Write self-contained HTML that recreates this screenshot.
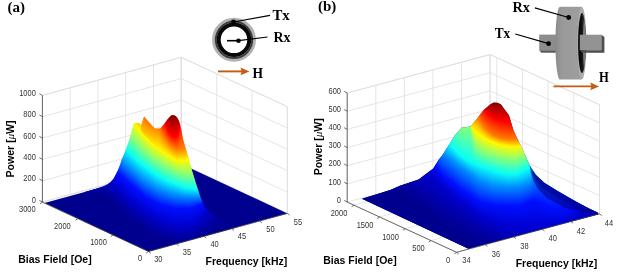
<!DOCTYPE html>
<html><head><meta charset="utf-8"><title>fig</title>
<style>html,body{margin:0;padding:0;background:#fff}body{width:617px;height:272px;overflow:hidden;font-family:"Liberation Sans",sans-serif}svg{display:block}</style></head><body>
<svg width="617" height="272" viewBox="0 0 617 272">
<defs>
<clipPath id="ca"><path d="M44.5 203.1L84 192.2L95 189.1L100 187.5L104 186L107.6 184.2L110.5 182L113.5 178.8L116 174L118 170L120 165L121.5 160L123.7 155L125.7 150L127.5 145L129.4 139.4L131 134L132.4 129.1L133.4 125L134.1 122.9L139.4 122.9L140.9 125.4L142.5 121L144.1 116.6L147 120L150 123.2L152.5 126L155.1 128.4L160.3 128.4L162.5 126L164.7 123.2L167 120L169.1 117.4L170.5 116L172 115.1L174 115.2L175.7 115.9L177.3 117.8L178.7 120.3L180 124L181.5 131L183.2 140L185 146L187 152.5L189 159L191 167L193.4 175L195.5 182L198 189.7L200 196L202.6 202.6L205 207L207.2 210L212 214L217 217.5L226 223.5L235 228L287.4 213.4L148.5 251.5L44.5 203.1z"/></clipPath>
<clipPath id="cb"><path d="M362 198.7L376 194.5L390.3 190L400 185.7L418.6 179.4L433.3 168.4L438.6 160L442.5 155L449.6 143.9L454.7 135.4L461.6 127.7L470.5 126.5L476.8 118.9L484.1 109.7L489.6 105.1L493.3 102.7L497 102.7L500.7 104.2L505.3 110.6L508.9 115.2L511.7 124.4L513.3 130L517.9 140.1L522.5 149.3L527.1 159.4L529.6 165L533 170.5L536 175L540 178.8L544.3 182.8L557.2 190.8L571.9 199.3L580 203.8L590 209L597.5 212.6L598.5 214.2L468.5 248.8z"/></clipPath>
<linearGradient id="a0" gradientUnits="userSpaceOnUse" x1="0" y1="10.6" x2="0" y2="195.9"><stop offset="0" stop-color="#800000"/><stop offset=".108" stop-color="#fd0000"/><stop offset=".205" stop-color="#ff7c00"/><stop offset=".286" stop-color="#fff900"/><stop offset=".421" stop-color="#87ff78"/><stop offset=".56" stop-color="#0afff5"/><stop offset=".641" stop-color="#008bff"/><stop offset=".722" stop-color="#000eff"/><stop offset=".915" stop-color="#00c"/><stop offset=".985" stop-color="#0000a4"/><stop offset="1" stop-color="#00008f"/></linearGradient>
<linearGradient id="a1" gradientUnits="userSpaceOnUse" x1="0" y1="11.8" x2="0" y2="195.6"><stop offset="0" stop-color="#800000"/><stop offset=".108" stop-color="#fd0000"/><stop offset=".207" stop-color="#ff7c00"/><stop offset=".288" stop-color="#fff900"/><stop offset=".423" stop-color="#87ff78"/><stop offset=".563" stop-color="#0afff5"/><stop offset=".645" stop-color="#008bff"/><stop offset=".726" stop-color="#000eff"/><stop offset=".916" stop-color="#00c"/><stop offset=".984" stop-color="#0000a4"/><stop offset="1" stop-color="#00008f"/></linearGradient>
<linearGradient id="a2" gradientUnits="userSpaceOnUse" x1="0" y1="13" x2="0" y2="195.4"><stop offset="0" stop-color="#800000"/><stop offset=".109" stop-color="#fd0000"/><stop offset=".208" stop-color="#ff7c00"/><stop offset=".291" stop-color="#fff900"/><stop offset=".426" stop-color="#87ff78"/><stop offset=".565" stop-color="#0afff5"/><stop offset=".648" stop-color="#008bff"/><stop offset=".73" stop-color="#000eff"/><stop offset=".917" stop-color="#00c"/><stop offset=".984" stop-color="#0000a4"/><stop offset="1" stop-color="#00008f"/></linearGradient>
<linearGradient id="a3" gradientUnits="userSpaceOnUse" x1="0" y1="14.1" x2="0" y2="195.1"><stop offset="0" stop-color="#800000"/><stop offset=".109" stop-color="#fd0000"/><stop offset=".21" stop-color="#ff7c00"/><stop offset=".293" stop-color="#fff900"/><stop offset=".428" stop-color="#87ff78"/><stop offset=".568" stop-color="#0afff5"/><stop offset=".651" stop-color="#008bff"/><stop offset=".734" stop-color="#000eff"/><stop offset=".918" stop-color="#00c"/><stop offset=".983" stop-color="#0000a4"/><stop offset="1" stop-color="#00008f"/></linearGradient>
<linearGradient id="a4" gradientUnits="userSpaceOnUse" x1="0" y1="15.3" x2="0" y2="194.9"><stop offset="0" stop-color="#800000"/><stop offset=".11" stop-color="#fd0000"/><stop offset=".211" stop-color="#ff7c00"/><stop offset=".296" stop-color="#fff900"/><stop offset=".431" stop-color="#87ff78"/><stop offset=".571" stop-color="#0afff5"/><stop offset=".655" stop-color="#008bff"/><stop offset=".738" stop-color="#000eff"/><stop offset=".92" stop-color="#00c"/><stop offset=".983" stop-color="#0000a4"/><stop offset="1" stop-color="#00008f"/></linearGradient>
<linearGradient id="a5" gradientUnits="userSpaceOnUse" x1="0" y1="16.5" x2="0" y2="194.6"><stop offset="0" stop-color="#800000"/><stop offset=".111" stop-color="#fd0000"/><stop offset=".213" stop-color="#ff7c00"/><stop offset=".298" stop-color="#fff900"/><stop offset=".434" stop-color="#87ff78"/><stop offset=".573" stop-color="#0afff5"/><stop offset=".658" stop-color="#008bff"/><stop offset=".742" stop-color="#000eff"/><stop offset=".921" stop-color="#00c"/><stop offset=".982" stop-color="#0000a4"/><stop offset="1" stop-color="#00008f"/></linearGradient>
<linearGradient id="a6" gradientUnits="userSpaceOnUse" x1="0" y1="17.7" x2="0" y2="194.4"><stop offset="0" stop-color="#800000"/><stop offset=".111" stop-color="#fd0000"/><stop offset=".215" stop-color="#ff7c00"/><stop offset=".301" stop-color="#fff900"/><stop offset=".437" stop-color="#87ff78"/><stop offset=".576" stop-color="#0afff5"/><stop offset=".662" stop-color="#008bff"/><stop offset=".747" stop-color="#000eff"/><stop offset=".922" stop-color="#00c"/><stop offset=".982" stop-color="#0000a4"/><stop offset="1" stop-color="#00008f"/></linearGradient>
<linearGradient id="a7" gradientUnits="userSpaceOnUse" x1="0" y1="18.9" x2="0" y2="194.1"><stop offset="0" stop-color="#800000"/><stop offset=".112" stop-color="#fd0000"/><stop offset=".217" stop-color="#ff7c00"/><stop offset=".303" stop-color="#fff900"/><stop offset=".439" stop-color="#87ff78"/><stop offset=".579" stop-color="#0afff5"/><stop offset=".665" stop-color="#008bff"/><stop offset=".751" stop-color="#000eff"/><stop offset=".923" stop-color="#00c"/><stop offset=".981" stop-color="#0000a4"/><stop offset="1" stop-color="#00008f"/></linearGradient>
<linearGradient id="a8" gradientUnits="userSpaceOnUse" x1="0" y1="20.1" x2="0" y2="193.9"><stop offset="0" stop-color="#800000"/><stop offset=".112" stop-color="#fd0000"/><stop offset=".218" stop-color="#ff7c00"/><stop offset=".306" stop-color="#fff900"/><stop offset=".442" stop-color="#87ff78"/><stop offset=".582" stop-color="#0afff5"/><stop offset=".669" stop-color="#008bff"/><stop offset=".755" stop-color="#000eff"/><stop offset=".925" stop-color="#00c"/><stop offset=".981" stop-color="#0000a4"/><stop offset="1" stop-color="#00008f"/></linearGradient>
<linearGradient id="a9" gradientUnits="userSpaceOnUse" x1="0" y1="21.2" x2="0" y2="193.6"><stop offset="0" stop-color="#800000"/><stop offset=".113" stop-color="#fd0000"/><stop offset=".22" stop-color="#ff7c00"/><stop offset=".308" stop-color="#fff900"/><stop offset=".445" stop-color="#87ff78"/><stop offset=".585" stop-color="#0afff5"/><stop offset=".672" stop-color="#008bff"/><stop offset=".76" stop-color="#000eff"/><stop offset=".926" stop-color="#00c"/><stop offset=".98" stop-color="#0000a4"/><stop offset="1" stop-color="#00008f"/></linearGradient>
<linearGradient id="a10" gradientUnits="userSpaceOnUse" x1="0" y1="22.4" x2="0" y2="193.4"><stop offset="0" stop-color="#800000"/><stop offset=".113" stop-color="#fd0000"/><stop offset=".222" stop-color="#ff7c00"/><stop offset=".311" stop-color="#fff900"/><stop offset=".448" stop-color="#87ff78"/><stop offset=".587" stop-color="#0afff5"/><stop offset=".676" stop-color="#008bff"/><stop offset=".764" stop-color="#000eff"/><stop offset=".928" stop-color="#00c"/><stop offset=".98" stop-color="#0000a4"/><stop offset="1" stop-color="#00008f"/></linearGradient>
<linearGradient id="a11" gradientUnits="userSpaceOnUse" x1="0" y1="23.6" x2="0" y2="193.1"><stop offset="0" stop-color="#800000"/><stop offset=".114" stop-color="#fd0000"/><stop offset=".224" stop-color="#ff7c00"/><stop offset=".314" stop-color="#fff900"/><stop offset=".451" stop-color="#87ff78"/><stop offset=".59" stop-color="#0afff5"/><stop offset=".68" stop-color="#008bff"/><stop offset=".769" stop-color="#000eff"/><stop offset=".929" stop-color="#00c"/><stop offset=".979" stop-color="#0000a4"/><stop offset="1" stop-color="#00008f"/></linearGradient>
<linearGradient id="a12" gradientUnits="userSpaceOnUse" x1="0" y1="24.8" x2="0" y2="192.9"><stop offset="0" stop-color="#800000"/><stop offset=".115" stop-color="#fd0000"/><stop offset=".226" stop-color="#ff7c00"/><stop offset=".317" stop-color="#fff900"/><stop offset=".454" stop-color="#87ff78"/><stop offset=".593" stop-color="#0afff5"/><stop offset=".684" stop-color="#008bff"/><stop offset=".773" stop-color="#000eff"/><stop offset=".93" stop-color="#00c"/><stop offset=".979" stop-color="#0000a4"/><stop offset="1" stop-color="#00008f"/></linearGradient>
<linearGradient id="a13" gradientUnits="userSpaceOnUse" x1="0" y1="26" x2="0" y2="192.6"><stop offset="0" stop-color="#800000"/><stop offset=".115" stop-color="#fd0000"/><stop offset=".227" stop-color="#ff7c00"/><stop offset=".319" stop-color="#fff900"/><stop offset=".457" stop-color="#87ff78"/><stop offset=".597" stop-color="#0afff5"/><stop offset=".688" stop-color="#008bff"/><stop offset=".778" stop-color="#000eff"/><stop offset=".932" stop-color="#00c"/><stop offset=".978" stop-color="#0000a4"/><stop offset="1" stop-color="#00008f"/></linearGradient>
<linearGradient id="a14" gradientUnits="userSpaceOnUse" x1="0" y1="27.2" x2="0" y2="192.4"><stop offset="0" stop-color="#800000"/><stop offset=".116" stop-color="#fd0000"/><stop offset=".229" stop-color="#ff7c00"/><stop offset=".322" stop-color="#fff900"/><stop offset=".46" stop-color="#87ff78"/><stop offset=".6" stop-color="#0afff5"/><stop offset=".692" stop-color="#008bff"/><stop offset=".783" stop-color="#000eff"/><stop offset=".933" stop-color="#00c"/><stop offset=".978" stop-color="#0000a4"/><stop offset="1" stop-color="#00008f"/></linearGradient>
<linearGradient id="a15" gradientUnits="userSpaceOnUse" x1="0" y1="28.4" x2="0" y2="192.1"><stop offset="0" stop-color="#800000"/><stop offset=".117" stop-color="#fd0000"/><stop offset=".231" stop-color="#ff7c00"/><stop offset=".325" stop-color="#fff900"/><stop offset=".464" stop-color="#87ff78"/><stop offset=".603" stop-color="#0afff5"/><stop offset=".696" stop-color="#008bff"/><stop offset=".788" stop-color="#000eff"/><stop offset=".935" stop-color="#00c"/><stop offset=".977" stop-color="#0000a4"/><stop offset="1" stop-color="#00008f"/></linearGradient>
<linearGradient id="a16" gradientUnits="userSpaceOnUse" x1="0" y1="29.5" x2="0" y2="192.3"><stop offset="0" stop-color="#800000"/><stop offset=".117" stop-color="#fd0000"/><stop offset=".233" stop-color="#ff7c00"/><stop offset=".327" stop-color="#fff900"/><stop offset=".465" stop-color="#87ff78"/><stop offset=".604" stop-color="#0afff5"/><stop offset=".698" stop-color="#008bff"/><stop offset=".791" stop-color="#000eff"/><stop offset=".934" stop-color="#00c"/><stop offset=".976" stop-color="#0000a4"/><stop offset="1" stop-color="#00008f"/></linearGradient>
<linearGradient id="a17" gradientUnits="userSpaceOnUse" x1="0" y1="30.7" x2="0" y2="193.1"><stop offset="0" stop-color="#800000"/><stop offset=".117" stop-color="#fd0000"/><stop offset=".233" stop-color="#ff7c00"/><stop offset=".328" stop-color="#fff900"/><stop offset=".466" stop-color="#87ff78"/><stop offset=".604" stop-color="#0afff5"/><stop offset=".698" stop-color="#008bff"/><stop offset=".791" stop-color="#000eff"/><stop offset=".93" stop-color="#00c"/><stop offset=".974" stop-color="#0000a4"/><stop offset="1" stop-color="#00008f"/></linearGradient>
<linearGradient id="a18" gradientUnits="userSpaceOnUse" x1="0" y1="31.9" x2="0" y2="193.8"><stop offset="0" stop-color="#800000"/><stop offset=".117" stop-color="#fd0000"/><stop offset=".234" stop-color="#ff7c00"/><stop offset=".329" stop-color="#fff900"/><stop offset=".467" stop-color="#87ff78"/><stop offset=".604" stop-color="#0afff5"/><stop offset=".698" stop-color="#008bff"/><stop offset=".791" stop-color="#000eff"/><stop offset=".926" stop-color="#00c"/><stop offset=".972" stop-color="#0000a4"/><stop offset="1" stop-color="#00008f"/></linearGradient>
<linearGradient id="a19" gradientUnits="userSpaceOnUse" x1="0" y1="33.1" x2="0" y2="194.4"><stop offset="0" stop-color="#800000"/><stop offset=".117" stop-color="#fd0000"/><stop offset=".235" stop-color="#ff7c00"/><stop offset=".33" stop-color="#fff900"/><stop offset=".467" stop-color="#87ff78"/><stop offset=".603" stop-color="#0afff5"/><stop offset=".698" stop-color="#008bff"/><stop offset=".792" stop-color="#000eff"/><stop offset=".922" stop-color="#00c"/><stop offset=".971" stop-color="#0000a4"/><stop offset="1" stop-color="#00008f"/></linearGradient>
<linearGradient id="a20" gradientUnits="userSpaceOnUse" x1="0" y1="34.3" x2="0" y2="195.2"><stop offset="0" stop-color="#800000"/><stop offset=".117" stop-color="#fd0000"/><stop offset=".235" stop-color="#ff7c00"/><stop offset=".331" stop-color="#fff900"/><stop offset=".468" stop-color="#87ff78"/><stop offset=".603" stop-color="#0afff5"/><stop offset=".698" stop-color="#008bff"/><stop offset=".792" stop-color="#000eff"/><stop offset=".918" stop-color="#00c"/><stop offset=".969" stop-color="#0000a4"/><stop offset="1" stop-color="#00008f"/></linearGradient>
<linearGradient id="a21" gradientUnits="userSpaceOnUse" x1="0" y1="35.5" x2="0" y2="195.8"><stop offset="0" stop-color="#800000"/><stop offset=".117" stop-color="#fd0000"/><stop offset=".236" stop-color="#ff7c00"/><stop offset=".333" stop-color="#fff900"/><stop offset=".468" stop-color="#87ff78"/><stop offset=".603" stop-color="#0afff5"/><stop offset=".698" stop-color="#008bff"/><stop offset=".792" stop-color="#000eff"/><stop offset=".914" stop-color="#00c"/><stop offset=".967" stop-color="#0000a4"/><stop offset="1" stop-color="#00008f"/></linearGradient>
<linearGradient id="a22" gradientUnits="userSpaceOnUse" x1="0" y1="36.6" x2="0" y2="196.6"><stop offset="0" stop-color="#800000"/><stop offset=".117" stop-color="#fd0000"/><stop offset=".237" stop-color="#ff7c00"/><stop offset=".334" stop-color="#fff900"/><stop offset=".469" stop-color="#87ff78"/><stop offset=".602" stop-color="#0afff5"/><stop offset=".698" stop-color="#008bff"/><stop offset=".793" stop-color="#000eff"/><stop offset=".91" stop-color="#00c"/><stop offset=".965" stop-color="#0000a4"/><stop offset="1" stop-color="#00008f"/></linearGradient>
<linearGradient id="a23" gradientUnits="userSpaceOnUse" x1="0" y1="37.8" x2="0" y2="197.2"><stop offset="0" stop-color="#800000"/><stop offset=".117" stop-color="#fd0000"/><stop offset=".237" stop-color="#ff7c00"/><stop offset=".335" stop-color="#fff900"/><stop offset=".469" stop-color="#87ff78"/><stop offset=".602" stop-color="#0afff5"/><stop offset=".699" stop-color="#008bff"/><stop offset=".793" stop-color="#000eff"/><stop offset=".906" stop-color="#00c"/><stop offset=".963" stop-color="#0000a4"/><stop offset="1" stop-color="#00008f"/></linearGradient>
<linearGradient id="a24" gradientUnits="userSpaceOnUse" x1="0" y1="39" x2="0" y2="197.9"><stop offset="0" stop-color="#800000"/><stop offset=".117" stop-color="#fd0000"/><stop offset=".238" stop-color="#ff7c00"/><stop offset=".336" stop-color="#fff900"/><stop offset=".47" stop-color="#87ff78"/><stop offset=".602" stop-color="#0afff5"/><stop offset=".699" stop-color="#008bff"/><stop offset=".794" stop-color="#000eff"/><stop offset=".902" stop-color="#00c"/><stop offset=".962" stop-color="#0000a4"/><stop offset="1" stop-color="#00008f"/></linearGradient>
<linearGradient id="a25" gradientUnits="userSpaceOnUse" x1="0" y1="40.2" x2="0" y2="198.7"><stop offset="0" stop-color="#800000"/><stop offset=".117" stop-color="#fd0000"/><stop offset=".239" stop-color="#ff7c00"/><stop offset=".337" stop-color="#fff900"/><stop offset=".471" stop-color="#87ff78"/><stop offset=".602" stop-color="#0afff5"/><stop offset=".699" stop-color="#008bff"/><stop offset=".794" stop-color="#000eff"/><stop offset=".897" stop-color="#00c"/><stop offset=".96" stop-color="#0000a4"/><stop offset="1" stop-color="#00008f"/></linearGradient>
<linearGradient id="a26" gradientUnits="userSpaceOnUse" x1="0" y1="41.4" x2="0" y2="199.5"><stop offset="0" stop-color="#800000"/><stop offset=".117" stop-color="#fd0000"/><stop offset=".239" stop-color="#ff7c00"/><stop offset=".338" stop-color="#fff900"/><stop offset=".471" stop-color="#87ff78"/><stop offset=".601" stop-color="#0afff5"/><stop offset=".698" stop-color="#008bff"/><stop offset=".794" stop-color="#000eff"/><stop offset=".892" stop-color="#00c"/><stop offset=".959" stop-color="#0000a4"/><stop offset="1" stop-color="#00008f"/></linearGradient>
<linearGradient id="a27" gradientUnits="userSpaceOnUse" x1="0" y1="42.6" x2="0" y2="200.5"><stop offset="0" stop-color="#800000"/><stop offset=".117" stop-color="#fd0000"/><stop offset=".239" stop-color="#ff7c00"/><stop offset=".338" stop-color="#fff900"/><stop offset=".471" stop-color="#87ff78"/><stop offset=".599" stop-color="#0afff5"/><stop offset=".697" stop-color="#008bff"/><stop offset=".792" stop-color="#000eff"/><stop offset=".891" stop-color="#00c"/><stop offset=".958" stop-color="#0000a4"/><stop offset="1" stop-color="#00008f"/></linearGradient>
<linearGradient id="a28" gradientUnits="userSpaceOnUse" x1="0" y1="43.8" x2="0" y2="201.5"><stop offset="0" stop-color="#800000"/><stop offset=".116" stop-color="#fd0000"/><stop offset=".239" stop-color="#ff7c00"/><stop offset=".339" stop-color="#fff900"/><stop offset=".47" stop-color="#87ff78"/><stop offset=".598" stop-color="#0afff5"/><stop offset=".696" stop-color="#008bff"/><stop offset=".791" stop-color="#000eff"/><stop offset=".89" stop-color="#00c"/><stop offset=".957" stop-color="#0000a4"/><stop offset="1" stop-color="#00008f"/></linearGradient>
<linearGradient id="a29" gradientUnits="userSpaceOnUse" x1="0" y1="44.9" x2="0" y2="202.5"><stop offset="0" stop-color="#800000"/><stop offset=".116" stop-color="#fd0000"/><stop offset=".24" stop-color="#ff7c00"/><stop offset=".339" stop-color="#fff900"/><stop offset=".47" stop-color="#87ff78"/><stop offset=".596" stop-color="#0afff5"/><stop offset=".694" stop-color="#008bff"/><stop offset=".79" stop-color="#000eff"/><stop offset=".888" stop-color="#00c"/><stop offset=".957" stop-color="#0000a4"/><stop offset="1" stop-color="#00008f"/></linearGradient>
<linearGradient id="a30" gradientUnits="userSpaceOnUse" x1="0" y1="46.1" x2="0" y2="203.5"><stop offset="0" stop-color="#800000"/><stop offset=".116" stop-color="#fd0000"/><stop offset=".24" stop-color="#ff7c00"/><stop offset=".34" stop-color="#fff900"/><stop offset=".47" stop-color="#87ff78"/><stop offset=".595" stop-color="#0afff5"/><stop offset=".693" stop-color="#008bff"/><stop offset=".789" stop-color="#000eff"/><stop offset=".887" stop-color="#00c"/><stop offset=".956" stop-color="#0000a4"/><stop offset="1" stop-color="#00008f"/></linearGradient>
<linearGradient id="a31" gradientUnits="userSpaceOnUse" x1="0" y1="47.3" x2="0" y2="204.5"><stop offset="0" stop-color="#800000"/><stop offset=".116" stop-color="#fd0000"/><stop offset=".24" stop-color="#ff7c00"/><stop offset=".34" stop-color="#fff900"/><stop offset=".469" stop-color="#87ff78"/><stop offset=".593" stop-color="#0afff5"/><stop offset=".692" stop-color="#008bff"/><stop offset=".788" stop-color="#000eff"/><stop offset=".885" stop-color="#00c"/><stop offset=".955" stop-color="#0000a4"/><stop offset="1" stop-color="#00008f"/></linearGradient>
<linearGradient id="a32" gradientUnits="userSpaceOnUse" x1="0" y1="48.5" x2="0" y2="205.5"><stop offset="0" stop-color="#800000"/><stop offset=".115" stop-color="#fd0000"/><stop offset=".24" stop-color="#ff7c00"/><stop offset=".341" stop-color="#fff900"/><stop offset=".469" stop-color="#87ff78"/><stop offset=".592" stop-color="#0afff5"/><stop offset=".691" stop-color="#008bff"/><stop offset=".787" stop-color="#000eff"/><stop offset=".884" stop-color="#00c"/><stop offset=".954" stop-color="#0000a4"/><stop offset="1" stop-color="#00008f"/></linearGradient>
<linearGradient id="a33" gradientUnits="userSpaceOnUse" x1="0" y1="49.7" x2="0" y2="206.5"><stop offset="0" stop-color="#800000"/><stop offset=".115" stop-color="#fd0000"/><stop offset=".241" stop-color="#ff7c00"/><stop offset=".341" stop-color="#fff900"/><stop offset=".469" stop-color="#87ff78"/><stop offset=".59" stop-color="#0afff5"/><stop offset=".689" stop-color="#008bff"/><stop offset=".785" stop-color="#000eff"/><stop offset=".882" stop-color="#00c"/><stop offset=".954" stop-color="#0000a4"/><stop offset="1" stop-color="#00008f"/></linearGradient>
<linearGradient id="a34" gradientUnits="userSpaceOnUse" x1="0" y1="50.9" x2="0" y2="207.5"><stop offset="0" stop-color="#800000"/><stop offset=".115" stop-color="#fd0000"/><stop offset=".241" stop-color="#ff7c00"/><stop offset=".342" stop-color="#fff900"/><stop offset=".468" stop-color="#87ff78"/><stop offset=".589" stop-color="#0afff5"/><stop offset=".688" stop-color="#008bff"/><stop offset=".784" stop-color="#000eff"/><stop offset=".881" stop-color="#00c"/><stop offset=".953" stop-color="#0000a4"/><stop offset="1" stop-color="#00008f"/></linearGradient>
<linearGradient id="a35" gradientUnits="userSpaceOnUse" x1="0" y1="52" x2="0" y2="208.5"><stop offset="0" stop-color="#800000"/><stop offset=".115" stop-color="#fd0000"/><stop offset=".241" stop-color="#ff7c00"/><stop offset=".342" stop-color="#fff900"/><stop offset=".468" stop-color="#87ff78"/><stop offset=".588" stop-color="#0afff5"/><stop offset=".687" stop-color="#008bff"/><stop offset=".783" stop-color="#000eff"/><stop offset=".879" stop-color="#00c"/><stop offset=".952" stop-color="#0000a4"/><stop offset="1" stop-color="#00008f"/></linearGradient>
<linearGradient id="a36" gradientUnits="userSpaceOnUse" x1="0" y1="53.2" x2="0" y2="209.6"><stop offset="0" stop-color="#800000"/><stop offset=".115" stop-color="#fd0000"/><stop offset=".241" stop-color="#ff7c00"/><stop offset=".343" stop-color="#fff900"/><stop offset=".468" stop-color="#87ff78"/><stop offset=".586" stop-color="#0afff5"/><stop offset=".685" stop-color="#008bff"/><stop offset=".782" stop-color="#000eff"/><stop offset=".878" stop-color="#00c"/><stop offset=".952" stop-color="#0000a4"/><stop offset="1" stop-color="#00008f"/></linearGradient>
<linearGradient id="a37" gradientUnits="userSpaceOnUse" x1="0" y1="54.4" x2="0" y2="210.7"><stop offset="0" stop-color="#800000"/><stop offset=".114" stop-color="#fd0000"/><stop offset=".241" stop-color="#ff7c00"/><stop offset=".343" stop-color="#fff900"/><stop offset=".467" stop-color="#87ff78"/><stop offset=".584" stop-color="#0afff5"/><stop offset=".683" stop-color="#008bff"/><stop offset=".781" stop-color="#000eff"/><stop offset=".877" stop-color="#00c"/><stop offset=".951" stop-color="#0000a4"/><stop offset="1" stop-color="#00008f"/></linearGradient>
<linearGradient id="a38" gradientUnits="userSpaceOnUse" x1="0" y1="55.6" x2="0" y2="211.8"><stop offset="0" stop-color="#800000"/><stop offset=".114" stop-color="#fd0000"/><stop offset=".241" stop-color="#ff7c00"/><stop offset=".343" stop-color="#fff900"/><stop offset=".466" stop-color="#87ff78"/><stop offset=".582" stop-color="#0afff5"/><stop offset=".681" stop-color="#008bff"/><stop offset=".779" stop-color="#000eff"/><stop offset=".877" stop-color="#00c"/><stop offset=".951" stop-color="#0000a4"/><stop offset="1" stop-color="#00008f"/></linearGradient>
<linearGradient id="a39" gradientUnits="userSpaceOnUse" x1="0" y1="56.8" x2="0" y2="212.9"><stop offset="0" stop-color="#800000"/><stop offset=".114" stop-color="#fd0000"/><stop offset=".241" stop-color="#ff7c00"/><stop offset=".343" stop-color="#fff900"/><stop offset=".466" stop-color="#87ff78"/><stop offset=".58" stop-color="#0afff5"/><stop offset=".68" stop-color="#008bff"/><stop offset=".778" stop-color="#000eff"/><stop offset=".876" stop-color="#00c"/><stop offset=".951" stop-color="#0000a4"/><stop offset="1" stop-color="#00008f"/></linearGradient>
<linearGradient id="a40" gradientUnits="userSpaceOnUse" x1="0" y1="58" x2="0" y2="214"><stop offset="0" stop-color="#800000"/><stop offset=".113" stop-color="#fd0000"/><stop offset=".242" stop-color="#ff7c00"/><stop offset=".344" stop-color="#fff900"/><stop offset=".465" stop-color="#87ff78"/><stop offset=".578" stop-color="#0afff5"/><stop offset=".678" stop-color="#008bff"/><stop offset=".776" stop-color="#000eff"/><stop offset=".875" stop-color="#00c"/><stop offset=".95" stop-color="#0000a4"/><stop offset="1" stop-color="#00008f"/></linearGradient>
<linearGradient id="a41" gradientUnits="userSpaceOnUse" x1="0" y1="59.1" x2="0" y2="215.1"><stop offset="0" stop-color="#800000"/><stop offset=".113" stop-color="#fd0000"/><stop offset=".242" stop-color="#ff7c00"/><stop offset=".344" stop-color="#fff900"/><stop offset=".464" stop-color="#87ff78"/><stop offset=".577" stop-color="#0afff5"/><stop offset=".676" stop-color="#008bff"/><stop offset=".775" stop-color="#000eff"/><stop offset=".874" stop-color="#00c"/><stop offset=".95" stop-color="#0000a4"/><stop offset="1" stop-color="#00008f"/></linearGradient>
<linearGradient id="a42" gradientUnits="userSpaceOnUse" x1="0" y1="60.3" x2="0" y2="216.2"><stop offset="0" stop-color="#800000"/><stop offset=".113" stop-color="#fd0000"/><stop offset=".242" stop-color="#ff7c00"/><stop offset=".344" stop-color="#fff900"/><stop offset=".463" stop-color="#87ff78"/><stop offset=".575" stop-color="#0afff5"/><stop offset=".674" stop-color="#008bff"/><stop offset=".773" stop-color="#000eff"/><stop offset=".873" stop-color="#00c"/><stop offset=".95" stop-color="#0000a4"/><stop offset="1" stop-color="#00008f"/></linearGradient>
<linearGradient id="a43" gradientUnits="userSpaceOnUse" x1="0" y1="61.5" x2="0" y2="217.3"><stop offset="0" stop-color="#800000"/><stop offset=".112" stop-color="#fd0000"/><stop offset=".242" stop-color="#ff7c00"/><stop offset=".345" stop-color="#fff900"/><stop offset=".462" stop-color="#87ff78"/><stop offset=".574" stop-color="#0afff5"/><stop offset=".673" stop-color="#008bff"/><stop offset=".772" stop-color="#000eff"/><stop offset=".873" stop-color="#00c"/><stop offset=".949" stop-color="#0000a4"/><stop offset="1" stop-color="#00008f"/></linearGradient>
<linearGradient id="a44" gradientUnits="userSpaceOnUse" x1="0" y1="62.7" x2="0" y2="218.4"><stop offset="0" stop-color="#800000"/><stop offset=".112" stop-color="#fd0000"/><stop offset=".242" stop-color="#ff7c00"/><stop offset=".345" stop-color="#fff900"/><stop offset=".461" stop-color="#87ff78"/><stop offset=".573" stop-color="#0afff5"/><stop offset=".671" stop-color="#008bff"/><stop offset=".77" stop-color="#000eff"/><stop offset=".872" stop-color="#00c"/><stop offset=".949" stop-color="#0000a4"/><stop offset="1" stop-color="#00008f"/></linearGradient>
<linearGradient id="a45" gradientUnits="userSpaceOnUse" x1="0" y1="63.9" x2="0" y2="219.4"><stop offset="0" stop-color="#800000"/><stop offset=".112" stop-color="#fd0000"/><stop offset=".242" stop-color="#ff7c00"/><stop offset=".346" stop-color="#fff900"/><stop offset=".461" stop-color="#87ff78"/><stop offset=".573" stop-color="#0afff5"/><stop offset=".67" stop-color="#008bff"/><stop offset=".769" stop-color="#000eff"/><stop offset=".872" stop-color="#00c"/><stop offset=".949" stop-color="#0000a4"/><stop offset="1" stop-color="#00008f"/></linearGradient>
<linearGradient id="a46" gradientUnits="userSpaceOnUse" x1="0" y1="65.1" x2="0" y2="220.1"><stop offset="0" stop-color="#800000"/><stop offset=".112" stop-color="#fd0000"/><stop offset=".243" stop-color="#ff7c00"/><stop offset=".347" stop-color="#fff900"/><stop offset=".461" stop-color="#87ff78"/><stop offset=".574" stop-color="#0afff5"/><stop offset=".67" stop-color="#008bff"/><stop offset=".768" stop-color="#000eff"/><stop offset=".871" stop-color="#00c"/><stop offset=".948" stop-color="#0000a4"/><stop offset="1" stop-color="#00008f"/></linearGradient>
<linearGradient id="a47" gradientUnits="userSpaceOnUse" x1="0" y1="66.2" x2="0" y2="220.8"><stop offset="0" stop-color="#800000"/><stop offset=".112" stop-color="#fd0000"/><stop offset=".244" stop-color="#ff7c00"/><stop offset=".348" stop-color="#fff900"/><stop offset=".461" stop-color="#87ff78"/><stop offset=".574" stop-color="#0afff5"/><stop offset=".67" stop-color="#008bff"/><stop offset=".768" stop-color="#000eff"/><stop offset=".871" stop-color="#00c"/><stop offset=".948" stop-color="#0000a4"/><stop offset="1" stop-color="#00008f"/></linearGradient>
<linearGradient id="a48" gradientUnits="userSpaceOnUse" x1="0" y1="67.4" x2="0" y2="221.5"><stop offset="0" stop-color="#800000"/><stop offset=".112" stop-color="#fd0000"/><stop offset=".244" stop-color="#ff7c00"/><stop offset=".349" stop-color="#fff900"/><stop offset=".461" stop-color="#87ff78"/><stop offset=".575" stop-color="#0afff5"/><stop offset=".67" stop-color="#008bff"/><stop offset=".768" stop-color="#000eff"/><stop offset=".871" stop-color="#00c"/><stop offset=".948" stop-color="#0000a4"/><stop offset="1" stop-color="#00008f"/></linearGradient>
<linearGradient id="a49" gradientUnits="userSpaceOnUse" x1="0" y1="68.6" x2="0" y2="222.2"><stop offset="0" stop-color="#800000"/><stop offset=".112" stop-color="#fd0000"/><stop offset=".245" stop-color="#ff7c00"/><stop offset=".35" stop-color="#fff900"/><stop offset=".461" stop-color="#87ff78"/><stop offset=".575" stop-color="#0afff5"/><stop offset=".67" stop-color="#008bff"/><stop offset=".768" stop-color="#000eff"/><stop offset=".871" stop-color="#00c"/><stop offset=".948" stop-color="#0000a4"/><stop offset="1" stop-color="#00008f"/></linearGradient>
<linearGradient id="a50" gradientUnits="userSpaceOnUse" x1="0" y1="69.8" x2="0" y2="222.9"><stop offset="0" stop-color="#800000"/><stop offset=".112" stop-color="#fd0000"/><stop offset=".246" stop-color="#ff7c00"/><stop offset=".351" stop-color="#fff900"/><stop offset=".462" stop-color="#87ff78"/><stop offset=".575" stop-color="#0afff5"/><stop offset=".67" stop-color="#008bff"/><stop offset=".769" stop-color="#000eff"/><stop offset=".871" stop-color="#00c"/><stop offset=".948" stop-color="#0000a4"/><stop offset="1" stop-color="#00008f"/></linearGradient>
<linearGradient id="a51" gradientUnits="userSpaceOnUse" x1="0" y1="71" x2="0" y2="223.6"><stop offset="0" stop-color="#800000"/><stop offset=".112" stop-color="#fd0000"/><stop offset=".246" stop-color="#ff7c00"/><stop offset=".353" stop-color="#fff900"/><stop offset=".463" stop-color="#87ff78"/><stop offset=".575" stop-color="#0afff5"/><stop offset=".67" stop-color="#008bff"/><stop offset=".769" stop-color="#000eff"/><stop offset=".871" stop-color="#00c"/><stop offset=".948" stop-color="#0000a4"/><stop offset="1" stop-color="#00008f"/></linearGradient>
<linearGradient id="a52" gradientUnits="userSpaceOnUse" x1="0" y1="72.2" x2="0" y2="224.4"><stop offset="0" stop-color="#800000"/><stop offset=".112" stop-color="#fd0000"/><stop offset=".247" stop-color="#ff7c00"/><stop offset=".354" stop-color="#fff900"/><stop offset=".463" stop-color="#87ff78"/><stop offset=".575" stop-color="#0afff5"/><stop offset=".67" stop-color="#008bff"/><stop offset=".769" stop-color="#000eff"/><stop offset=".871" stop-color="#00c"/><stop offset=".947" stop-color="#0000a4"/><stop offset="1" stop-color="#00008f"/></linearGradient>
<linearGradient id="a53" gradientUnits="userSpaceOnUse" x1="0" y1="73.4" x2="0" y2="225.1"><stop offset="0" stop-color="#800000"/><stop offset=".112" stop-color="#fd0000"/><stop offset=".248" stop-color="#ff7c00"/><stop offset=".355" stop-color="#fff900"/><stop offset=".464" stop-color="#87ff78"/><stop offset=".574" stop-color="#0afff5"/><stop offset=".67" stop-color="#008bff"/><stop offset=".769" stop-color="#000eff"/><stop offset=".871" stop-color="#00c"/><stop offset=".947" stop-color="#0000a4"/><stop offset="1" stop-color="#00008f"/></linearGradient>
<linearGradient id="a54" gradientUnits="userSpaceOnUse" x1="0" y1="74.5" x2="0" y2="225.8"><stop offset="0" stop-color="#800000"/><stop offset=".112" stop-color="#fd0000"/><stop offset=".248" stop-color="#ff7c00"/><stop offset=".356" stop-color="#fff900"/><stop offset=".465" stop-color="#87ff78"/><stop offset=".574" stop-color="#0afff5"/><stop offset=".67" stop-color="#008bff"/><stop offset=".769" stop-color="#000eff"/><stop offset=".871" stop-color="#00c"/><stop offset=".947" stop-color="#0000a4"/><stop offset="1" stop-color="#00008f"/></linearGradient>
<linearGradient id="a55" gradientUnits="userSpaceOnUse" x1="0" y1="75.7" x2="0" y2="226.5"><stop offset="0" stop-color="#800000"/><stop offset=".111" stop-color="#fd0000"/><stop offset=".249" stop-color="#ff7c00"/><stop offset=".358" stop-color="#fff900"/><stop offset=".466" stop-color="#87ff78"/><stop offset=".573" stop-color="#0afff5"/><stop offset=".67" stop-color="#008bff"/><stop offset=".769" stop-color="#000eff"/><stop offset=".871" stop-color="#00c"/><stop offset=".947" stop-color="#0000a4"/><stop offset="1" stop-color="#00008f"/></linearGradient>
<linearGradient id="a56" gradientUnits="userSpaceOnUse" x1="0" y1="76.9" x2="0" y2="227.2"><stop offset="0" stop-color="#800000"/><stop offset=".111" stop-color="#fd0000"/><stop offset=".25" stop-color="#ff7c00"/><stop offset=".36" stop-color="#fff900"/><stop offset=".466" stop-color="#87ff78"/><stop offset=".573" stop-color="#0afff5"/><stop offset=".67" stop-color="#008bff"/><stop offset=".769" stop-color="#000eff"/><stop offset=".871" stop-color="#00c"/><stop offset=".947" stop-color="#0000a4"/><stop offset="1" stop-color="#00008f"/></linearGradient>
<linearGradient id="a57" gradientUnits="userSpaceOnUse" x1="0" y1="78.1" x2="0" y2="227.9"><stop offset="0" stop-color="#800000"/><stop offset=".111" stop-color="#fd0000"/><stop offset=".251" stop-color="#ff7c00"/><stop offset=".362" stop-color="#fff900"/><stop offset=".467" stop-color="#87ff78"/><stop offset=".573" stop-color="#0afff5"/><stop offset=".671" stop-color="#008bff"/><stop offset=".769" stop-color="#000eff"/><stop offset=".871" stop-color="#00c"/><stop offset=".947" stop-color="#0000a4"/><stop offset="1" stop-color="#00008f"/></linearGradient>
<linearGradient id="a58" gradientUnits="userSpaceOnUse" x1="0" y1="79.3" x2="0" y2="228.6"><stop offset="0" stop-color="#800000"/><stop offset=".111" stop-color="#fd0000"/><stop offset=".251" stop-color="#ff7c00"/><stop offset=".364" stop-color="#fff900"/><stop offset=".467" stop-color="#87ff78"/><stop offset=".572" stop-color="#0afff5"/><stop offset=".67" stop-color="#008bff"/><stop offset=".77" stop-color="#000eff"/><stop offset=".871" stop-color="#00c"/><stop offset=".946" stop-color="#0000a4"/><stop offset="1" stop-color="#00008f"/></linearGradient>
<linearGradient id="a59" gradientUnits="userSpaceOnUse" x1="0" y1="80.5" x2="0" y2="229.4"><stop offset="0" stop-color="#800000"/><stop offset=".111" stop-color="#fd0000"/><stop offset=".252" stop-color="#ff7c00"/><stop offset=".366" stop-color="#fff900"/><stop offset=".467" stop-color="#87ff78"/><stop offset=".57" stop-color="#0afff5"/><stop offset=".668" stop-color="#008bff"/><stop offset=".77" stop-color="#000eff"/><stop offset=".871" stop-color="#00c"/><stop offset=".946" stop-color="#0000a4"/><stop offset="1" stop-color="#00008f"/></linearGradient>
<linearGradient id="a60" gradientUnits="userSpaceOnUse" x1="0" y1="81.6" x2="0" y2="230.1"><stop offset="0" stop-color="#800000"/><stop offset=".111" stop-color="#fd0000"/><stop offset=".254" stop-color="#ff7c00"/><stop offset=".367" stop-color="#fff900"/><stop offset=".466" stop-color="#87ff78"/><stop offset=".569" stop-color="#0afff5"/><stop offset=".667" stop-color="#008bff"/><stop offset=".77" stop-color="#000eff"/><stop offset=".871" stop-color="#00c"/><stop offset=".946" stop-color="#0000a4"/><stop offset="1" stop-color="#00008f"/></linearGradient>
<linearGradient id="a61" gradientUnits="userSpaceOnUse" x1="0" y1="82.8" x2="0" y2="230.8"><stop offset="0" stop-color="#800000"/><stop offset=".111" stop-color="#fd0000"/><stop offset=".255" stop-color="#ff7c00"/><stop offset=".367" stop-color="#fff900"/><stop offset=".465" stop-color="#87ff78"/><stop offset=".567" stop-color="#0afff5"/><stop offset=".665" stop-color="#008bff"/><stop offset=".77" stop-color="#000eff"/><stop offset=".87" stop-color="#00c"/><stop offset=".946" stop-color="#0000a4"/><stop offset="1" stop-color="#00008f"/></linearGradient>
<linearGradient id="a62" gradientUnits="userSpaceOnUse" x1="0" y1="84" x2="0" y2="231.5"><stop offset="0" stop-color="#800000"/><stop offset=".111" stop-color="#fd0000"/><stop offset=".257" stop-color="#ff7c00"/><stop offset=".366" stop-color="#fff900"/><stop offset=".465" stop-color="#87ff78"/><stop offset=".566" stop-color="#0afff5"/><stop offset=".663" stop-color="#008bff"/><stop offset=".77" stop-color="#000eff"/><stop offset=".87" stop-color="#00c"/><stop offset=".946" stop-color="#0000a4"/><stop offset="1" stop-color="#00008f"/></linearGradient>
<linearGradient id="a63" gradientUnits="userSpaceOnUse" x1="0" y1="85.2" x2="0" y2="232.2"><stop offset="0" stop-color="#800000"/><stop offset=".111" stop-color="#fd0000"/><stop offset=".255" stop-color="#ff7c00"/><stop offset=".365" stop-color="#fff900"/><stop offset=".464" stop-color="#87ff78"/><stop offset=".565" stop-color="#0afff5"/><stop offset=".662" stop-color="#008bff"/><stop offset=".768" stop-color="#000eff"/><stop offset=".869" stop-color="#00c"/><stop offset=".946" stop-color="#0000a4"/><stop offset="1" stop-color="#00008f"/></linearGradient>
<linearGradient id="a64" gradientUnits="userSpaceOnUse" x1="0" y1="86.4" x2="0" y2="232.9"><stop offset="0" stop-color="#800000"/><stop offset=".111" stop-color="#fd0000"/><stop offset=".251" stop-color="#ff7c00"/><stop offset=".365" stop-color="#fff900"/><stop offset=".464" stop-color="#87ff78"/><stop offset=".563" stop-color="#0afff5"/><stop offset=".66" stop-color="#008bff"/><stop offset=".766" stop-color="#000eff"/><stop offset=".868" stop-color="#00c"/><stop offset=".945" stop-color="#0000a4"/><stop offset="1" stop-color="#00008f"/></linearGradient>
<linearGradient id="a65" gradientUnits="userSpaceOnUse" x1="0" y1="87.6" x2="0" y2="233.6"><stop offset="0" stop-color="#800000"/><stop offset=".111" stop-color="#fd0000"/><stop offset=".247" stop-color="#ff7c00"/><stop offset=".365" stop-color="#fff900"/><stop offset=".463" stop-color="#87ff78"/><stop offset=".562" stop-color="#0afff5"/><stop offset=".658" stop-color="#008bff"/><stop offset=".764" stop-color="#000eff"/><stop offset=".866" stop-color="#00c"/><stop offset=".945" stop-color="#0000a4"/><stop offset="1" stop-color="#00008f"/></linearGradient>
<linearGradient id="a66" gradientUnits="userSpaceOnUse" x1="0" y1="88.8" x2="0" y2="234.2"><stop offset="0" stop-color="#800000"/><stop offset=".111" stop-color="#fd0000"/><stop offset=".243" stop-color="#ff7c00"/><stop offset=".366" stop-color="#fff900"/><stop offset=".463" stop-color="#87ff78"/><stop offset=".561" stop-color="#0afff5"/><stop offset=".657" stop-color="#008bff"/><stop offset=".762" stop-color="#000eff"/><stop offset=".866" stop-color="#00c"/><stop offset=".945" stop-color="#0000a4"/><stop offset="1" stop-color="#00008f"/></linearGradient>
<linearGradient id="a67" gradientUnits="userSpaceOnUse" x1="0" y1="89.9" x2="0" y2="234.7"><stop offset="0" stop-color="#800000"/><stop offset=".111" stop-color="#fd0000"/><stop offset=".239" stop-color="#ff7c00"/><stop offset=".367" stop-color="#fff900"/><stop offset=".463" stop-color="#87ff78"/><stop offset=".56" stop-color="#0afff5"/><stop offset=".657" stop-color="#008bff"/><stop offset=".761" stop-color="#000eff"/><stop offset=".866" stop-color="#00c"/><stop offset=".945" stop-color="#0000a4"/><stop offset="1" stop-color="#00008f"/></linearGradient>
<linearGradient id="a68" gradientUnits="userSpaceOnUse" x1="0" y1="91.1" x2="0" y2="235.2"><stop offset="0" stop-color="#800000"/><stop offset=".112" stop-color="#fd0000"/><stop offset=".235" stop-color="#ff7c00"/><stop offset=".368" stop-color="#fff900"/><stop offset=".463" stop-color="#87ff78"/><stop offset=".56" stop-color="#0afff5"/><stop offset=".656" stop-color="#008bff"/><stop offset=".76" stop-color="#000eff"/><stop offset=".867" stop-color="#00c"/><stop offset=".944" stop-color="#0000a4"/><stop offset="1" stop-color="#00008f"/></linearGradient>
<linearGradient id="a69" gradientUnits="userSpaceOnUse" x1="0" y1="92.3" x2="0" y2="235.6"><stop offset="0" stop-color="#800000"/><stop offset=".112" stop-color="#fd0000"/><stop offset=".231" stop-color="#ff7c00"/><stop offset=".367" stop-color="#fff900"/><stop offset=".463" stop-color="#87ff78"/><stop offset=".559" stop-color="#0afff5"/><stop offset=".656" stop-color="#008bff"/><stop offset=".76" stop-color="#000eff"/><stop offset=".867" stop-color="#00c"/><stop offset=".944" stop-color="#0000a4"/><stop offset="1" stop-color="#00008f"/></linearGradient>
<linearGradient id="a70" gradientUnits="userSpaceOnUse" x1="0" y1="93.5" x2="0" y2="236.1"><stop offset="0" stop-color="#800000"/><stop offset=".112" stop-color="#fd0000"/><stop offset=".226" stop-color="#ff7c00"/><stop offset=".366" stop-color="#fff900"/><stop offset=".461" stop-color="#87ff78"/><stop offset=".559" stop-color="#0afff5"/><stop offset=".655" stop-color="#008bff"/><stop offset=".759" stop-color="#000eff"/><stop offset=".867" stop-color="#00c"/><stop offset=".944" stop-color="#0000a4"/><stop offset="1" stop-color="#00008f"/></linearGradient>
<linearGradient id="a71" gradientUnits="userSpaceOnUse" x1="0" y1="94.7" x2="0" y2="236.6"><stop offset="0" stop-color="#800000"/><stop offset=".113" stop-color="#fd0000"/><stop offset=".223" stop-color="#ff7c00"/><stop offset=".364" stop-color="#fff900"/><stop offset=".46" stop-color="#87ff78"/><stop offset=".558" stop-color="#0afff5"/><stop offset=".654" stop-color="#008bff"/><stop offset=".758" stop-color="#000eff"/><stop offset=".868" stop-color="#00c"/><stop offset=".944" stop-color="#0000a4"/><stop offset="1" stop-color="#00008f"/></linearGradient>
<linearGradient id="a72" gradientUnits="userSpaceOnUse" x1="0" y1="95.9" x2="0" y2="237"><stop offset="0" stop-color="#800000"/><stop offset=".115" stop-color="#fd0000"/><stop offset=".22" stop-color="#ff7c00"/><stop offset=".363" stop-color="#fff900"/><stop offset=".458" stop-color="#87ff78"/><stop offset=".558" stop-color="#0afff5"/><stop offset=".654" stop-color="#008bff"/><stop offset=".757" stop-color="#000eff"/><stop offset=".868" stop-color="#00c"/><stop offset=".943" stop-color="#0000a4"/><stop offset="1" stop-color="#00008f"/></linearGradient>
<linearGradient id="a73" gradientUnits="userSpaceOnUse" x1="0" y1="97" x2="0" y2="237.5"><stop offset="0" stop-color="#800000"/><stop offset=".116" stop-color="#fd0000"/><stop offset=".217" stop-color="#ff7c00"/><stop offset=".361" stop-color="#fff900"/><stop offset=".457" stop-color="#87ff78"/><stop offset=".557" stop-color="#0afff5"/><stop offset=".653" stop-color="#008bff"/><stop offset=".756" stop-color="#000eff"/><stop offset=".868" stop-color="#00c"/><stop offset=".943" stop-color="#0000a4"/><stop offset="1" stop-color="#00008f"/></linearGradient>
<linearGradient id="a74" gradientUnits="userSpaceOnUse" x1="0" y1="98.2" x2="0" y2="238"><stop offset="0" stop-color="#800000"/><stop offset=".118" stop-color="#fd0000"/><stop offset=".214" stop-color="#ff7c00"/><stop offset=".36" stop-color="#fff900"/><stop offset=".455" stop-color="#87ff78"/><stop offset=".555" stop-color="#0afff5"/><stop offset=".651" stop-color="#008bff"/><stop offset=".755" stop-color="#000eff"/><stop offset=".868" stop-color="#00c"/><stop offset=".943" stop-color="#0000a4"/><stop offset="1" stop-color="#00008f"/></linearGradient>
<linearGradient id="a75" gradientUnits="userSpaceOnUse" x1="0" y1="99.4" x2="0" y2="238.4"><stop offset="0" stop-color="#800000"/><stop offset=".12" stop-color="#fd0000"/><stop offset=".215" stop-color="#ff7c00"/><stop offset=".358" stop-color="#fff900"/><stop offset=".454" stop-color="#87ff78"/><stop offset=".554" stop-color="#0afff5"/><stop offset=".648" stop-color="#008bff"/><stop offset=".754" stop-color="#000eff"/><stop offset=".869" stop-color="#00c"/><stop offset=".942" stop-color="#0000a4"/><stop offset="1" stop-color="#00008f"/></linearGradient>
<linearGradient id="a76" gradientUnits="userSpaceOnUse" x1="0" y1="100.8" x2="0" y2="238.9"><stop offset="0" stop-color="#800000"/><stop offset=".121" stop-color="#fd0000"/><stop offset=".22" stop-color="#ff7c00"/><stop offset=".356" stop-color="#fff900"/><stop offset=".451" stop-color="#87ff78"/><stop offset=".551" stop-color="#0afff5"/><stop offset=".645" stop-color="#008bff"/><stop offset=".752" stop-color="#000eff"/><stop offset=".868" stop-color="#00c"/><stop offset=".942" stop-color="#0000a4"/><stop offset="1" stop-color="#00008f"/></linearGradient>
<linearGradient id="a77" gradientUnits="userSpaceOnUse" x1="0" y1="102.5" x2="0" y2="239.4"><stop offset="0" stop-color="#800000"/><stop offset=".119" stop-color="#fd0000"/><stop offset=".224" stop-color="#ff7c00"/><stop offset=".352" stop-color="#fff900"/><stop offset=".448" stop-color="#87ff78"/><stop offset=".548" stop-color="#0afff5"/><stop offset=".641" stop-color="#008bff"/><stop offset=".748" stop-color="#000eff"/><stop offset=".866" stop-color="#00c"/><stop offset=".942" stop-color="#0000a4"/><stop offset="1" stop-color="#00008f"/></linearGradient>
<linearGradient id="a78" gradientUnits="userSpaceOnUse" x1="0" y1="104.2" x2="0" y2="239.8"><stop offset="0" stop-color="#800000"/><stop offset=".118" stop-color="#fd0000"/><stop offset=".228" stop-color="#ff7c00"/><stop offset=".348" stop-color="#fff900"/><stop offset=".444" stop-color="#87ff78"/><stop offset=".545" stop-color="#0afff5"/><stop offset=".637" stop-color="#008bff"/><stop offset=".744" stop-color="#000eff"/><stop offset=".864" stop-color="#00c"/><stop offset=".941" stop-color="#0000a4"/><stop offset="1" stop-color="#00008f"/></linearGradient>
<linearGradient id="a79" gradientUnits="userSpaceOnUse" x1="0" y1="105.8" x2="0" y2="240.3"><stop offset="0" stop-color="#800000"/><stop offset=".117" stop-color="#fd0000"/><stop offset=".23" stop-color="#ff7c00"/><stop offset=".344" stop-color="#fff900"/><stop offset=".441" stop-color="#87ff78"/><stop offset=".541" stop-color="#0afff5"/><stop offset=".633" stop-color="#008bff"/><stop offset=".741" stop-color="#000eff"/><stop offset=".862" stop-color="#00c"/><stop offset=".941" stop-color="#0000a4"/><stop offset="1" stop-color="#00008f"/></linearGradient>
<linearGradient id="a80" gradientUnits="userSpaceOnUse" x1="0" y1="107.5" x2="0" y2="240.8"><stop offset="0" stop-color="#800000"/><stop offset=".116" stop-color="#fd0000"/><stop offset=".23" stop-color="#ff7c00"/><stop offset=".34" stop-color="#fff900"/><stop offset=".436" stop-color="#87ff78"/><stop offset=".538" stop-color="#0afff5"/><stop offset=".629" stop-color="#008bff"/><stop offset=".737" stop-color="#000eff"/><stop offset=".86" stop-color="#00c"/><stop offset=".94" stop-color="#0000a4"/><stop offset="1" stop-color="#00008f"/></linearGradient>
<linearGradient id="a81" gradientUnits="userSpaceOnUse" x1="0" y1="109.2" x2="0" y2="241.2"><stop offset="0" stop-color="#800000"/><stop offset=".121" stop-color="#fd0000"/><stop offset=".23" stop-color="#ff7c00"/><stop offset=".335" stop-color="#fff900"/><stop offset=".432" stop-color="#87ff78"/><stop offset=".534" stop-color="#0afff5"/><stop offset=".625" stop-color="#008bff"/><stop offset=".733" stop-color="#000eff"/><stop offset=".859" stop-color="#00c"/><stop offset=".939" stop-color="#0000a4"/><stop offset="1" stop-color="#00008f"/></linearGradient>
<linearGradient id="a82" gradientUnits="userSpaceOnUse" x1="0" y1="110.4" x2="0" y2="241.5"><stop offset="0" stop-color="#800000"/><stop offset=".13" stop-color="#fd0000"/><stop offset=".233" stop-color="#ff7c00"/><stop offset=".333" stop-color="#fff900"/><stop offset=".43" stop-color="#87ff78"/><stop offset=".533" stop-color="#0afff5"/><stop offset=".623" stop-color="#008bff"/><stop offset=".731" stop-color="#000eff"/><stop offset=".858" stop-color="#00c"/><stop offset=".939" stop-color="#0000a4"/><stop offset="1" stop-color="#00008f"/></linearGradient>
<linearGradient id="a83" gradientUnits="userSpaceOnUse" x1="0" y1="111.2" x2="0" y2="241.8"><stop offset="0" stop-color="#800000"/><stop offset=".143" stop-color="#fd0000"/><stop offset=".238" stop-color="#ff7c00"/><stop offset=".333" stop-color="#fff900"/><stop offset=".429" stop-color="#87ff78"/><stop offset=".533" stop-color="#0afff5"/><stop offset=".622" stop-color="#008bff"/><stop offset=".73" stop-color="#000eff"/><stop offset=".858" stop-color="#00c"/><stop offset=".938" stop-color="#0000a4"/><stop offset="1" stop-color="#00008f"/></linearGradient>
<linearGradient id="a84" gradientUnits="userSpaceOnUse" x1="0" y1="111.9" x2="0" y2="242.1"><stop offset="0" stop-color="#800000"/><stop offset=".151" stop-color="#fd0000"/><stop offset=".242" stop-color="#ff7c00"/><stop offset=".333" stop-color="#fff900"/><stop offset=".429" stop-color="#87ff78"/><stop offset=".533" stop-color="#0afff5"/><stop offset=".621" stop-color="#008bff"/><stop offset=".729" stop-color="#000eff"/><stop offset=".858" stop-color="#00c"/><stop offset=".938" stop-color="#0000a4"/><stop offset="1" stop-color="#00008f"/></linearGradient>
<linearGradient id="a85" gradientUnits="userSpaceOnUse" x1="0" y1="112.7" x2="0" y2="242.4"><stop offset="0" stop-color="#800000"/><stop offset=".156" stop-color="#fd0000"/><stop offset=".244" stop-color="#ff7c00"/><stop offset=".333" stop-color="#fff900"/><stop offset=".428" stop-color="#87ff78"/><stop offset=".533" stop-color="#0afff5"/><stop offset=".62" stop-color="#008bff"/><stop offset=".727" stop-color="#000eff"/><stop offset=".858" stop-color="#00c"/><stop offset=".937" stop-color="#0000a4"/><stop offset="1" stop-color="#00008f"/></linearGradient>
<linearGradient id="a86" gradientUnits="userSpaceOnUse" x1="0" y1="113.4" x2="0" y2="242.7"><stop offset="0" stop-color="#800000"/><stop offset=".16" stop-color="#fd0000"/><stop offset=".246" stop-color="#ff7c00"/><stop offset=".333" stop-color="#fff900"/><stop offset=".428" stop-color="#87ff78"/><stop offset=".531" stop-color="#0afff5"/><stop offset=".619" stop-color="#008bff"/><stop offset=".726" stop-color="#000eff"/><stop offset=".858" stop-color="#00c"/><stop offset=".936" stop-color="#0000a4"/><stop offset="1" stop-color="#00008f"/></linearGradient>
<linearGradient id="a87" gradientUnits="userSpaceOnUse" x1="0" y1="114.2" x2="0" y2="243"><stop offset="0" stop-color="#800000"/><stop offset=".164" stop-color="#fd0000"/><stop offset=".248" stop-color="#ff7c00"/><stop offset=".333" stop-color="#fff900"/><stop offset=".428" stop-color="#87ff78"/><stop offset=".53" stop-color="#0afff5"/><stop offset=".618" stop-color="#008bff"/><stop offset=".725" stop-color="#000eff"/><stop offset=".858" stop-color="#00c"/><stop offset=".936" stop-color="#0000a4"/><stop offset="1" stop-color="#00008f"/></linearGradient>
<linearGradient id="a88" gradientUnits="userSpaceOnUse" x1="0" y1="114.4" x2="0" y2="243.3"><stop offset="0" stop-color="#800000"/><stop offset=".169" stop-color="#fd0000"/><stop offset=".253" stop-color="#ff7c00"/><stop offset=".337" stop-color="#fff900"/><stop offset=".43" stop-color="#87ff78"/><stop offset=".531" stop-color="#0afff5"/><stop offset=".618" stop-color="#008bff"/><stop offset=".725" stop-color="#000eff"/><stop offset=".859" stop-color="#00c"/><stop offset=".936" stop-color="#0000a4"/><stop offset="1" stop-color="#00008f"/></linearGradient>
<linearGradient id="a89" gradientUnits="userSpaceOnUse" x1="0" y1="113.9" x2="0" y2="243.6"><stop offset="0" stop-color="#800000"/><stop offset=".173" stop-color="#fd0000"/><stop offset=".26" stop-color="#ff7c00"/><stop offset=".343" stop-color="#fff900"/><stop offset=".435" stop-color="#87ff78"/><stop offset=".534" stop-color="#0afff5"/><stop offset=".62" stop-color="#008bff"/><stop offset=".726" stop-color="#000eff"/><stop offset=".86" stop-color="#00c"/><stop offset=".936" stop-color="#0000a4"/><stop offset="1" stop-color="#00008f"/></linearGradient>
<linearGradient id="a90" gradientUnits="userSpaceOnUse" x1="0" y1="113.5" x2="0" y2="243.9"><stop offset="0" stop-color="#800000"/><stop offset=".177" stop-color="#fd0000"/><stop offset=".265" stop-color="#ff7c00"/><stop offset=".349" stop-color="#fff900"/><stop offset=".439" stop-color="#87ff78"/><stop offset=".537" stop-color="#0afff5"/><stop offset=".622" stop-color="#008bff"/><stop offset=".727" stop-color="#000eff"/><stop offset=".861" stop-color="#00c"/><stop offset=".936" stop-color="#0000a4"/><stop offset="1" stop-color="#00008f"/></linearGradient>
<linearGradient id="a91" gradientUnits="userSpaceOnUse" x1="0" y1="113.1" x2="0" y2="244.2"><stop offset="0" stop-color="#800000"/><stop offset=".181" stop-color="#fd0000"/><stop offset=".27" stop-color="#ff7c00"/><stop offset=".355" stop-color="#fff900"/><stop offset=".444" stop-color="#87ff78"/><stop offset=".54" stop-color="#0afff5"/><stop offset=".623" stop-color="#008bff"/><stop offset=".728" stop-color="#000eff"/><stop offset=".861" stop-color="#00c"/><stop offset=".936" stop-color="#0000a4"/><stop offset="1" stop-color="#00008f"/></linearGradient>
<linearGradient id="a92" gradientUnits="userSpaceOnUse" x1="0" y1="112.7" x2="0" y2="244.5"><stop offset="0" stop-color="#800000"/><stop offset=".178" stop-color="#fd0000"/><stop offset=".275" stop-color="#ff7c00"/><stop offset=".359" stop-color="#fff900"/><stop offset=".448" stop-color="#87ff78"/><stop offset=".543" stop-color="#0afff5"/><stop offset=".624" stop-color="#008bff"/><stop offset=".727" stop-color="#000eff"/><stop offset=".859" stop-color="#00c"/><stop offset=".936" stop-color="#0000a4"/><stop offset="1" stop-color="#00008f"/></linearGradient>
<linearGradient id="a93" gradientUnits="userSpaceOnUse" x1="0" y1="112.2" x2="0" y2="244.8"><stop offset="0" stop-color="#800000"/><stop offset=".168" stop-color="#fd0000"/><stop offset=".28" stop-color="#ff7c00"/><stop offset=".36" stop-color="#fff900"/><stop offset=".451" stop-color="#87ff78"/><stop offset=".546" stop-color="#0afff5"/><stop offset=".626" stop-color="#008bff"/><stop offset=".726" stop-color="#000eff"/><stop offset=".857" stop-color="#00c"/><stop offset=".936" stop-color="#0000a4"/><stop offset="1" stop-color="#00008f"/></linearGradient>
<linearGradient id="a94" gradientUnits="userSpaceOnUse" x1="0" y1="111.6" x2="0" y2="245"><stop offset="0" stop-color="#800000"/><stop offset=".159" stop-color="#fd0000"/><stop offset=".283" stop-color="#ff7c00"/><stop offset=".364" stop-color="#fff900"/><stop offset=".456" stop-color="#87ff78"/><stop offset=".551" stop-color="#0afff5"/><stop offset=".628" stop-color="#008bff"/><stop offset=".727" stop-color="#000eff"/><stop offset=".857" stop-color="#00c"/><stop offset=".936" stop-color="#0000a4"/><stop offset="1" stop-color="#00008f"/></linearGradient>
<linearGradient id="a95" gradientUnits="userSpaceOnUse" x1="0" y1="110.8" x2="0" y2="244.9"><stop offset="0" stop-color="#800000"/><stop offset=".128" stop-color="#fd0000"/><stop offset=".285" stop-color="#ff7c00"/><stop offset=".368" stop-color="#fff900"/><stop offset=".462" stop-color="#87ff78"/><stop offset=".556" stop-color="#0afff5"/><stop offset=".632" stop-color="#008bff"/><stop offset=".728" stop-color="#000eff"/><stop offset=".858" stop-color="#00c"/><stop offset=".937" stop-color="#0000a4"/><stop offset="1" stop-color="#00008f"/></linearGradient>
<linearGradient id="a96" gradientUnits="userSpaceOnUse" x1="0" y1="110" x2="0" y2="244.9"><stop offset="0" stop-color="#800000"/><stop offset=".101" stop-color="#fd0000"/><stop offset=".287" stop-color="#ff7c00"/><stop offset=".373" stop-color="#fff900"/><stop offset=".467" stop-color="#87ff78"/><stop offset=".562" stop-color="#0afff5"/><stop offset=".636" stop-color="#008bff"/><stop offset=".73" stop-color="#000eff"/><stop offset=".859" stop-color="#00c"/><stop offset=".937" stop-color="#0000a4"/><stop offset="1" stop-color="#00008f"/></linearGradient>
<linearGradient id="a97" gradientUnits="userSpaceOnUse" x1="0" y1="109.2" x2="0" y2="244.9"><stop offset="0" stop-color="#800000"/><stop offset=".102" stop-color="#fd0000"/><stop offset=".289" stop-color="#ff7c00"/><stop offset=".377" stop-color="#fff900"/><stop offset=".473" stop-color="#87ff78"/><stop offset=".568" stop-color="#0afff5"/><stop offset=".64" stop-color="#008bff"/><stop offset=".732" stop-color="#000eff"/><stop offset=".859" stop-color="#00c"/><stop offset=".937" stop-color="#0000a4"/><stop offset="1" stop-color="#00008f"/></linearGradient>
<linearGradient id="a98" gradientUnits="userSpaceOnUse" x1="0" y1="108.4" x2="0" y2="244.8"><stop offset="0" stop-color="#800000"/><stop offset=".103" stop-color="#fd0000"/><stop offset=".291" stop-color="#ff7c00"/><stop offset=".381" stop-color="#fff900"/><stop offset=".479" stop-color="#87ff78"/><stop offset=".573" stop-color="#0afff5"/><stop offset=".644" stop-color="#008bff"/><stop offset=".734" stop-color="#000eff"/><stop offset=".86" stop-color="#00c"/><stop offset=".938" stop-color="#0000a4"/><stop offset="1" stop-color="#00008f"/></linearGradient>
<linearGradient id="a99" gradientUnits="userSpaceOnUse" x1="0" y1="107.6" x2="0" y2="244.8"><stop offset="0" stop-color="#800000"/><stop offset=".103" stop-color="#fd0000"/><stop offset=".293" stop-color="#ff7c00"/><stop offset=".386" stop-color="#fff900"/><stop offset=".484" stop-color="#87ff78"/><stop offset=".578" stop-color="#0afff5"/><stop offset=".647" stop-color="#008bff"/><stop offset=".736" stop-color="#000eff"/><stop offset=".861" stop-color="#00c"/><stop offset=".938" stop-color="#0000a4"/><stop offset="1" stop-color="#00008f"/></linearGradient>
<linearGradient id="a100" gradientUnits="userSpaceOnUse" x1="0" y1="106.8" x2="0" y2="244.7"><stop offset="0" stop-color="#800000"/><stop offset=".104" stop-color="#fd0000"/><stop offset=".295" stop-color="#ff7c00"/><stop offset=".39" stop-color="#fff900"/><stop offset=".49" stop-color="#87ff78"/><stop offset=".584" stop-color="#0afff5"/><stop offset=".651" stop-color="#008bff"/><stop offset=".737" stop-color="#000eff"/><stop offset=".862" stop-color="#00c"/><stop offset=".938" stop-color="#0000a4"/><stop offset="1" stop-color="#00008f"/></linearGradient>
<linearGradient id="a101" gradientUnits="userSpaceOnUse" x1="0" y1="106" x2="0" y2="244.7"><stop offset="0" stop-color="#800000"/><stop offset=".105" stop-color="#fd0000"/><stop offset=".297" stop-color="#ff7c00"/><stop offset=".392" stop-color="#fff900"/><stop offset=".494" stop-color="#87ff78"/><stop offset=".588" stop-color="#0afff5"/><stop offset=".654" stop-color="#008bff"/><stop offset=".739" stop-color="#000eff"/><stop offset=".863" stop-color="#00c"/><stop offset=".939" stop-color="#0000a4"/><stop offset="1" stop-color="#00008f"/></linearGradient>
<linearGradient id="a102" gradientUnits="userSpaceOnUse" x1="0" y1="105.2" x2="0" y2="244.6"><stop offset="0" stop-color="#800000"/><stop offset=".105" stop-color="#fd0000"/><stop offset=".298" stop-color="#ff7c00"/><stop offset=".392" stop-color="#fff900"/><stop offset=".498" stop-color="#87ff78"/><stop offset=".592" stop-color="#0afff5"/><stop offset=".656" stop-color="#008bff"/><stop offset=".741" stop-color="#000eff"/><stop offset=".864" stop-color="#00c"/><stop offset=".939" stop-color="#0000a4"/><stop offset="1" stop-color="#00008f"/></linearGradient>
<linearGradient id="a103" gradientUnits="userSpaceOnUse" x1="0" y1="104.4" x2="0" y2="244.6"><stop offset="0" stop-color="#800000"/><stop offset=".106" stop-color="#fd0000"/><stop offset=".298" stop-color="#ff7c00"/><stop offset=".393" stop-color="#fff900"/><stop offset=".501" stop-color="#87ff78"/><stop offset=".596" stop-color="#0afff5"/><stop offset=".659" stop-color="#008bff"/><stop offset=".742" stop-color="#000eff"/><stop offset=".864" stop-color="#00c"/><stop offset=".939" stop-color="#0000a4"/><stop offset="1" stop-color="#00008f"/></linearGradient>
<linearGradient id="a104" gradientUnits="userSpaceOnUse" x1="0" y1="103.6" x2="0" y2="244.6"><stop offset="0" stop-color="#800000"/><stop offset=".107" stop-color="#fd0000"/><stop offset=".298" stop-color="#ff7c00"/><stop offset=".394" stop-color="#fff900"/><stop offset=".504" stop-color="#87ff78"/><stop offset=".599" stop-color="#0afff5"/><stop offset=".661" stop-color="#008bff"/><stop offset=".744" stop-color="#000eff"/><stop offset=".865" stop-color="#00c"/><stop offset=".94" stop-color="#0000a4"/><stop offset="1" stop-color="#00008f"/></linearGradient>
<linearGradient id="a105" gradientUnits="userSpaceOnUse" x1="0" y1="102.8" x2="0" y2="244.5"><stop offset="0" stop-color="#800000"/><stop offset=".107" stop-color="#fd0000"/><stop offset=".299" stop-color="#ff7c00"/><stop offset=".395" stop-color="#fff900"/><stop offset=".508" stop-color="#87ff78"/><stop offset=".603" stop-color="#0afff5"/><stop offset=".663" stop-color="#008bff"/><stop offset=".746" stop-color="#000eff"/><stop offset=".866" stop-color="#00c"/><stop offset=".94" stop-color="#0000a4"/><stop offset="1" stop-color="#00008f"/></linearGradient>
<linearGradient id="a106" gradientUnits="userSpaceOnUse" x1="0" y1="102" x2="0" y2="244.2"><stop offset="0" stop-color="#800000"/><stop offset=".108" stop-color="#fd0000"/><stop offset=".3" stop-color="#ff7c00"/><stop offset=".397" stop-color="#fff900"/><stop offset=".512" stop-color="#87ff78"/><stop offset=".608" stop-color="#0afff5"/><stop offset=".666" stop-color="#008bff"/><stop offset=".747" stop-color="#000eff"/><stop offset=".866" stop-color="#00c"/><stop offset=".94" stop-color="#0000a4"/><stop offset="1" stop-color="#00008f"/></linearGradient>
<linearGradient id="a107" gradientUnits="userSpaceOnUse" x1="0" y1="101.2" x2="0" y2="243.8"><stop offset="0" stop-color="#800000"/><stop offset=".109" stop-color="#fd0000"/><stop offset=".301" stop-color="#ff7c00"/><stop offset=".399" stop-color="#fff900"/><stop offset=".517" stop-color="#87ff78"/><stop offset=".613" stop-color="#0afff5"/><stop offset=".671" stop-color="#008bff"/><stop offset=".749" stop-color="#000eff"/><stop offset=".866" stop-color="#00c"/><stop offset=".94" stop-color="#0000a4"/><stop offset="1" stop-color="#00008f"/></linearGradient>
<linearGradient id="a108" gradientUnits="userSpaceOnUse" x1="0" y1="100.4" x2="0" y2="243.2"><stop offset="0" stop-color="#800000"/><stop offset=".11" stop-color="#fd0000"/><stop offset=".302" stop-color="#ff7c00"/><stop offset=".401" stop-color="#fff900"/><stop offset=".522" stop-color="#87ff78"/><stop offset=".619" stop-color="#0afff5"/><stop offset=".675" stop-color="#008bff"/><stop offset=".75" stop-color="#000eff"/><stop offset=".865" stop-color="#00c"/><stop offset=".94" stop-color="#0000a4"/><stop offset="1" stop-color="#00008f"/></linearGradient>
<linearGradient id="a109" gradientUnits="userSpaceOnUse" x1="0" y1="99.6" x2="0" y2="242.8"><stop offset="0" stop-color="#800000"/><stop offset=".111" stop-color="#fd0000"/><stop offset=".303" stop-color="#ff7c00"/><stop offset=".404" stop-color="#fff900"/><stop offset=".527" stop-color="#87ff78"/><stop offset=".624" stop-color="#0afff5"/><stop offset=".679" stop-color="#008bff"/><stop offset=".752" stop-color="#000eff"/><stop offset=".865" stop-color="#00c"/><stop offset=".94" stop-color="#0000a4"/><stop offset="1" stop-color="#00008f"/></linearGradient>
<linearGradient id="a110" gradientUnits="userSpaceOnUse" x1="0" y1="98.8" x2="0" y2="242.2"><stop offset="0" stop-color="#800000"/><stop offset=".112" stop-color="#fd0000"/><stop offset=".305" stop-color="#ff7c00"/><stop offset=".406" stop-color="#fff900"/><stop offset=".53" stop-color="#87ff78"/><stop offset=".63" stop-color="#0afff5"/><stop offset=".684" stop-color="#008bff"/><stop offset=".753" stop-color="#000eff"/><stop offset=".864" stop-color="#00c"/><stop offset=".94" stop-color="#0000a4"/><stop offset="1" stop-color="#00008f"/></linearGradient>
<linearGradient id="a111" gradientUnits="userSpaceOnUse" x1="0" y1="98" x2="0" y2="241.8"><stop offset="0" stop-color="#800000"/><stop offset=".113" stop-color="#fd0000"/><stop offset=".306" stop-color="#ff7c00"/><stop offset=".408" stop-color="#fff900"/><stop offset=".534" stop-color="#87ff78"/><stop offset=".635" stop-color="#0afff5"/><stop offset=".688" stop-color="#008bff"/><stop offset=".755" stop-color="#000eff"/><stop offset=".864" stop-color="#00c"/><stop offset=".94" stop-color="#0000a4"/><stop offset="1" stop-color="#00008f"/></linearGradient>
<linearGradient id="a112" gradientUnits="userSpaceOnUse" x1="0" y1="97.2" x2="0" y2="241.2"><stop offset="0" stop-color="#800000"/><stop offset=".114" stop-color="#fd0000"/><stop offset=".307" stop-color="#ff7c00"/><stop offset=".41" stop-color="#fff900"/><stop offset=".537" stop-color="#87ff78"/><stop offset=".64" stop-color="#0afff5"/><stop offset=".692" stop-color="#008bff"/><stop offset=".756" stop-color="#000eff"/><stop offset=".864" stop-color="#00c"/><stop offset=".939" stop-color="#0000a4"/><stop offset="1" stop-color="#00008f"/></linearGradient>
<linearGradient id="a113" gradientUnits="userSpaceOnUse" x1="0" y1="96.4" x2="0" y2="240.8"><stop offset="0" stop-color="#800000"/><stop offset=".115" stop-color="#fd0000"/><stop offset=".308" stop-color="#ff7c00"/><stop offset=".412" stop-color="#fff900"/><stop offset=".541" stop-color="#87ff78"/><stop offset=".646" stop-color="#0afff5"/><stop offset=".697" stop-color="#008bff"/><stop offset=".757" stop-color="#000eff"/><stop offset=".863" stop-color="#00c"/><stop offset=".939" stop-color="#0000a4"/><stop offset="1" stop-color="#00008f"/></linearGradient>
<linearGradient id="a114" gradientUnits="userSpaceOnUse" x1="0" y1="95.6" x2="0" y2="240.2"><stop offset="0" stop-color="#800000"/><stop offset=".116" stop-color="#fd0000"/><stop offset=".309" stop-color="#ff7c00"/><stop offset=".414" stop-color="#fff900"/><stop offset=".545" stop-color="#87ff78"/><stop offset=".651" stop-color="#0afff5"/><stop offset=".701" stop-color="#008bff"/><stop offset=".759" stop-color="#000eff"/><stop offset=".863" stop-color="#00c"/><stop offset=".939" stop-color="#0000a4"/><stop offset="1" stop-color="#00008f"/></linearGradient>
<linearGradient id="a115" gradientUnits="userSpaceOnUse" x1="0" y1="94.8" x2="0" y2="239.8"><stop offset="0" stop-color="#800000"/><stop offset=".116" stop-color="#fd0000"/><stop offset=".311" stop-color="#ff7c00"/><stop offset=".417" stop-color="#fff900"/><stop offset=".548" stop-color="#87ff78"/><stop offset=".655" stop-color="#0afff5"/><stop offset=".705" stop-color="#008bff"/><stop offset=".76" stop-color="#000eff"/><stop offset=".862" stop-color="#00c"/><stop offset=".939" stop-color="#0000a4"/><stop offset="1" stop-color="#00008f"/></linearGradient>
<linearGradient id="a116" gradientUnits="userSpaceOnUse" x1="0" y1="94" x2="0" y2="239.2"><stop offset="0" stop-color="#800000"/><stop offset=".117" stop-color="#fd0000"/><stop offset=".312" stop-color="#ff7c00"/><stop offset=".419" stop-color="#fff900"/><stop offset=".552" stop-color="#87ff78"/><stop offset=".659" stop-color="#0afff5"/><stop offset=".709" stop-color="#008bff"/><stop offset=".762" stop-color="#000eff"/><stop offset=".86" stop-color="#00c"/><stop offset=".939" stop-color="#0000a4"/><stop offset="1" stop-color="#00008f"/></linearGradient>
<linearGradient id="a117" gradientUnits="userSpaceOnUse" x1="0" y1="93.2" x2="0" y2="238.8"><stop offset="0" stop-color="#800000"/><stop offset=".118" stop-color="#fd0000"/><stop offset=".313" stop-color="#ff7c00"/><stop offset=".422" stop-color="#fff900"/><stop offset=".555" stop-color="#87ff78"/><stop offset=".663" stop-color="#0afff5"/><stop offset=".713" stop-color="#008bff"/><stop offset=".763" stop-color="#000eff"/><stop offset=".855" stop-color="#00c"/><stop offset=".939" stop-color="#0000a4"/><stop offset="1" stop-color="#00008f"/></linearGradient>
<linearGradient id="a118" gradientUnits="userSpaceOnUse" x1="0" y1="92.4" x2="0" y2="238.2"><stop offset="0" stop-color="#800000"/><stop offset=".119" stop-color="#fd0000"/><stop offset=".314" stop-color="#ff7c00"/><stop offset=".424" stop-color="#fff900"/><stop offset=".559" stop-color="#87ff78"/><stop offset=".668" stop-color="#0afff5"/><stop offset=".716" stop-color="#008bff"/><stop offset=".764" stop-color="#000eff"/><stop offset=".85" stop-color="#00c"/><stop offset=".939" stop-color="#0000a4"/><stop offset="1" stop-color="#00008f"/></linearGradient>
<linearGradient id="a119" gradientUnits="userSpaceOnUse" x1="0" y1="91.6" x2="0" y2="237.8"><stop offset="0" stop-color="#800000"/><stop offset=".12" stop-color="#fd0000"/><stop offset=".315" stop-color="#ff7c00"/><stop offset=".427" stop-color="#fff900"/><stop offset=".562" stop-color="#87ff78"/><stop offset=".672" stop-color="#0afff5"/><stop offset=".72" stop-color="#008bff"/><stop offset=".766" stop-color="#000eff"/><stop offset=".846" stop-color="#00c"/><stop offset=".939" stop-color="#0000a4"/><stop offset="1" stop-color="#00008f"/></linearGradient>
<linearGradient id="a120" gradientUnits="userSpaceOnUse" x1="0" y1="90.8" x2="0" y2="237.2"><stop offset="0" stop-color="#800000"/><stop offset=".121" stop-color="#fd0000"/><stop offset=".317" stop-color="#ff7c00"/><stop offset=".43" stop-color="#fff900"/><stop offset=".566" stop-color="#87ff78"/><stop offset=".676" stop-color="#0afff5"/><stop offset=".724" stop-color="#008bff"/><stop offset=".768" stop-color="#000eff"/><stop offset=".841" stop-color="#00c"/><stop offset=".939" stop-color="#0000a4"/><stop offset="1" stop-color="#00008f"/></linearGradient>
<linearGradient id="a121" gradientUnits="userSpaceOnUse" x1="0" y1="90" x2="0" y2="236.6"><stop offset="0" stop-color="#800000"/><stop offset=".122" stop-color="#fd0000"/><stop offset=".318" stop-color="#ff7c00"/><stop offset=".433" stop-color="#fff900"/><stop offset=".57" stop-color="#87ff78"/><stop offset=".681" stop-color="#0afff5"/><stop offset=".728" stop-color="#008bff"/><stop offset=".772" stop-color="#000eff"/><stop offset=".838" stop-color="#00c"/><stop offset=".938" stop-color="#0000a4"/><stop offset="1" stop-color="#00008f"/></linearGradient>
<linearGradient id="a122" gradientUnits="userSpaceOnUse" x1="0" y1="89.2" x2="0" y2="235.7"><stop offset="0" stop-color="#800000"/><stop offset=".123" stop-color="#fd0000"/><stop offset=".32" stop-color="#ff7c00"/><stop offset=".437" stop-color="#fff900"/><stop offset=".575" stop-color="#87ff78"/><stop offset=".687" stop-color="#0afff5"/><stop offset=".733" stop-color="#008bff"/><stop offset=".776" stop-color="#000eff"/><stop offset=".835" stop-color="#00c"/><stop offset=".937" stop-color="#0000a4"/><stop offset="1" stop-color="#00008f"/></linearGradient>
<linearGradient id="a123" gradientUnits="userSpaceOnUse" x1="0" y1="88.4" x2="0" y2="234.9"><stop offset="0" stop-color="#800000"/><stop offset=".124" stop-color="#fd0000"/><stop offset=".322" stop-color="#ff7c00"/><stop offset=".441" stop-color="#fff900"/><stop offset=".58" stop-color="#87ff78"/><stop offset=".693" stop-color="#0afff5"/><stop offset=".739" stop-color="#008bff"/><stop offset=".78" stop-color="#000eff"/><stop offset=".834" stop-color="#00c"/><stop offset=".936" stop-color="#0000a4"/><stop offset="1" stop-color="#00008f"/></linearGradient>
<linearGradient id="a124" gradientUnits="userSpaceOnUse" x1="0" y1="87.6" x2="0" y2="234"><stop offset="0" stop-color="#800000"/><stop offset=".126" stop-color="#fd0000"/><stop offset=".324" stop-color="#ff7c00"/><stop offset=".444" stop-color="#fff900"/><stop offset=".584" stop-color="#87ff78"/><stop offset=".698" stop-color="#0afff5"/><stop offset=".744" stop-color="#008bff"/><stop offset=".784" stop-color="#000eff"/><stop offset=".836" stop-color="#00c"/><stop offset=".935" stop-color="#0000a4"/><stop offset="1" stop-color="#00008f"/></linearGradient>
<linearGradient id="a125" gradientUnits="userSpaceOnUse" x1="0" y1="86.8" x2="0" y2="233.1"><stop offset="0" stop-color="#800000"/><stop offset=".127" stop-color="#fd0000"/><stop offset=".326" stop-color="#ff7c00"/><stop offset=".448" stop-color="#fff900"/><stop offset=".589" stop-color="#87ff78"/><stop offset=".704" stop-color="#0afff5"/><stop offset=".75" stop-color="#008bff"/><stop offset=".788" stop-color="#000eff"/><stop offset=".838" stop-color="#00c"/><stop offset=".934" stop-color="#0000a4"/><stop offset="1" stop-color="#00008f"/></linearGradient>
<linearGradient id="a126" gradientUnits="userSpaceOnUse" x1="0" y1="86" x2="0" y2="232.3"><stop offset="0" stop-color="#800000"/><stop offset=".128" stop-color="#fd0000"/><stop offset=".328" stop-color="#ff7c00"/><stop offset=".452" stop-color="#fff900"/><stop offset=".594" stop-color="#87ff78"/><stop offset=".71" stop-color="#0afff5"/><stop offset=".755" stop-color="#008bff"/><stop offset=".792" stop-color="#000eff"/><stop offset=".841" stop-color="#00c"/><stop offset=".933" stop-color="#0000a4"/><stop offset="1" stop-color="#00008f"/></linearGradient>
<linearGradient id="a127" gradientUnits="userSpaceOnUse" x1="0" y1="85.2" x2="0" y2="231.4"><stop offset="0" stop-color="#800000"/><stop offset=".129" stop-color="#fd0000"/><stop offset=".33" stop-color="#ff7c00"/><stop offset=".455" stop-color="#fff900"/><stop offset=".599" stop-color="#87ff78"/><stop offset=".716" stop-color="#0afff5"/><stop offset=".76" stop-color="#008bff"/><stop offset=".796" stop-color="#000eff"/><stop offset=".843" stop-color="#00c"/><stop offset=".932" stop-color="#0000a4"/><stop offset="1" stop-color="#00008f"/></linearGradient>
<linearGradient id="a128" gradientUnits="userSpaceOnUse" x1="0" y1="84.4" x2="0" y2="230.8"><stop offset="0" stop-color="#800000"/><stop offset=".13" stop-color="#fd0000"/><stop offset=".332" stop-color="#ff7c00"/><stop offset=".459" stop-color="#fff900"/><stop offset=".603" stop-color="#87ff78"/><stop offset=".721" stop-color="#0afff5"/><stop offset=".765" stop-color="#008bff"/><stop offset=".799" stop-color="#000eff"/><stop offset=".844" stop-color="#00c"/><stop offset=".931" stop-color="#0000a4"/><stop offset="1" stop-color="#00008f"/></linearGradient>
<linearGradient id="a129" gradientUnits="userSpaceOnUse" x1="0" y1="83.6" x2="0" y2="230.2"><stop offset="0" stop-color="#800000"/><stop offset=".131" stop-color="#fd0000"/><stop offset=".333" stop-color="#ff7c00"/><stop offset=".461" stop-color="#fff900"/><stop offset=".607" stop-color="#87ff78"/><stop offset=".725" stop-color="#0afff5"/><stop offset=".768" stop-color="#008bff"/><stop offset=".801" stop-color="#000eff"/><stop offset=".844" stop-color="#00c"/><stop offset=".929" stop-color="#0000a4"/><stop offset="1" stop-color="#00008f"/></linearGradient>
<linearGradient id="a130" gradientUnits="userSpaceOnUse" x1="0" y1="82.8" x2="0" y2="229.8"><stop offset="0" stop-color="#800000"/><stop offset=".132" stop-color="#fd0000"/><stop offset=".334" stop-color="#ff7c00"/><stop offset=".464" stop-color="#fff900"/><stop offset=".61" stop-color="#87ff78"/><stop offset=".729" stop-color="#0afff5"/><stop offset=".772" stop-color="#008bff"/><stop offset=".803" stop-color="#000eff"/><stop offset=".844" stop-color="#00c"/><stop offset=".927" stop-color="#0000a4"/><stop offset="1" stop-color="#00008f"/></linearGradient>
<linearGradient id="a131" gradientUnits="userSpaceOnUse" x1="0" y1="82" x2="0" y2="229.2"><stop offset="0" stop-color="#800000"/><stop offset=".133" stop-color="#fd0000"/><stop offset=".335" stop-color="#ff7c00"/><stop offset=".467" stop-color="#fff900"/><stop offset=".613" stop-color="#87ff78"/><stop offset=".733" stop-color="#0afff5"/><stop offset=".775" stop-color="#008bff"/><stop offset=".806" stop-color="#000eff"/><stop offset=".844" stop-color="#00c"/><stop offset=".925" stop-color="#0000a4"/><stop offset="1" stop-color="#00008f"/></linearGradient>
<linearGradient id="a132" gradientUnits="userSpaceOnUse" x1="0" y1="81.2" x2="0" y2="228.8"><stop offset="0" stop-color="#800000"/><stop offset=".134" stop-color="#fd0000"/><stop offset=".336" stop-color="#ff7c00"/><stop offset=".469" stop-color="#fff900"/><stop offset=".617" stop-color="#87ff78"/><stop offset=".737" stop-color="#0afff5"/><stop offset=".779" stop-color="#008bff"/><stop offset=".808" stop-color="#000eff"/><stop offset=".844" stop-color="#00c"/><stop offset=".927" stop-color="#0000a4"/><stop offset="1" stop-color="#00008f"/></linearGradient>
<linearGradient id="a133" gradientUnits="userSpaceOnUse" x1="0" y1="80.4" x2="0" y2="228.2"><stop offset="0" stop-color="#800000"/><stop offset=".135" stop-color="#fd0000"/><stop offset=".337" stop-color="#ff7c00"/><stop offset=".472" stop-color="#fff900"/><stop offset=".62" stop-color="#87ff78"/><stop offset=".741" stop-color="#0afff5"/><stop offset=".782" stop-color="#008bff"/><stop offset=".81" stop-color="#000eff"/><stop offset=".845" stop-color="#00c"/><stop offset=".934" stop-color="#0000a4"/><stop offset="1" stop-color="#00008f"/></linearGradient>
<linearGradient id="a134" gradientUnits="userSpaceOnUse" x1="0" y1="80" x2="0" y2="228"><stop offset="0" stop-color="#800000"/><stop offset=".135" stop-color="#fd0000"/><stop offset=".338" stop-color="#ff7c00"/><stop offset=".473" stop-color="#fff900"/><stop offset=".622" stop-color="#87ff78"/><stop offset=".743" stop-color="#0afff5"/><stop offset=".784" stop-color="#008bff"/><stop offset=".811" stop-color="#000eff"/><stop offset=".844" stop-color="#00c"/><stop offset=".938" stop-color="#0000a4"/><stop offset="1" stop-color="#00008f"/></linearGradient>
<linearGradient id="a135" gradientUnits="userSpaceOnUse" x1="0" y1="80" x2="0" y2="228"><stop offset="0" stop-color="#800000"/><stop offset=".135" stop-color="#fd0000"/><stop offset=".338" stop-color="#ff7c00"/><stop offset=".473" stop-color="#fff900"/><stop offset=".622" stop-color="#87ff78"/><stop offset=".743" stop-color="#0afff5"/><stop offset=".784" stop-color="#008bff"/><stop offset=".811" stop-color="#000eff"/><stop offset=".842" stop-color="#00c"/><stop offset=".941" stop-color="#0000a4"/><stop offset="1" stop-color="#00008f"/></linearGradient>
<linearGradient id="a136" gradientUnits="userSpaceOnUse" x1="0" y1="80" x2="0" y2="228"><stop offset="0" stop-color="#800000"/><stop offset=".135" stop-color="#fd0000"/><stop offset=".338" stop-color="#ff7c00"/><stop offset=".473" stop-color="#fff900"/><stop offset=".622" stop-color="#87ff78"/><stop offset=".743" stop-color="#0afff5"/><stop offset=".784" stop-color="#008bff"/><stop offset=".811" stop-color="#000eff"/><stop offset=".84" stop-color="#00c"/><stop offset=".944" stop-color="#0000a4"/><stop offset="1" stop-color="#00008f"/></linearGradient>
<linearGradient id="a137" gradientUnits="userSpaceOnUse" x1="0" y1="80" x2="0" y2="228"><stop offset="0" stop-color="#800000"/><stop offset=".135" stop-color="#fd0000"/><stop offset=".338" stop-color="#ff7c00"/><stop offset=".473" stop-color="#fff900"/><stop offset=".622" stop-color="#87ff78"/><stop offset=".743" stop-color="#0afff5"/><stop offset=".784" stop-color="#008bff"/><stop offset=".811" stop-color="#000eff"/><stop offset=".838" stop-color="#00c"/><stop offset=".947" stop-color="#0000a4"/><stop offset="1" stop-color="#00008f"/></linearGradient>
<linearGradient id="a138" gradientUnits="userSpaceOnUse" x1="0" y1="80" x2="0" y2="228"><stop offset="0" stop-color="#800000"/><stop offset=".135" stop-color="#fd0000"/><stop offset=".338" stop-color="#ff7c00"/><stop offset=".473" stop-color="#fff900"/><stop offset=".622" stop-color="#87ff78"/><stop offset=".743" stop-color="#0afff5"/><stop offset=".784" stop-color="#008bff"/><stop offset=".811" stop-color="#000eff"/><stop offset=".836" stop-color="#00c"/><stop offset=".95" stop-color="#0000a4"/><stop offset="1" stop-color="#00008f"/></linearGradient>
<linearGradient id="a139" gradientUnits="userSpaceOnUse" x1="0" y1="80" x2="0" y2="228"><stop offset="0" stop-color="#800000"/><stop offset=".135" stop-color="#fd0000"/><stop offset=".338" stop-color="#ff7c00"/><stop offset=".473" stop-color="#fff900"/><stop offset=".622" stop-color="#87ff78"/><stop offset=".743" stop-color="#0afff5"/><stop offset=".784" stop-color="#008bff"/><stop offset=".811" stop-color="#000eff"/><stop offset=".834" stop-color="#00c"/><stop offset=".952" stop-color="#0000a4"/><stop offset="1" stop-color="#00008f"/></linearGradient>
<linearGradient id="a140" gradientUnits="userSpaceOnUse" x1="0" y1="80" x2="0" y2="228"><stop offset="0" stop-color="#800000"/><stop offset=".135" stop-color="#fd0000"/><stop offset=".338" stop-color="#ff7c00"/><stop offset=".473" stop-color="#fff900"/><stop offset=".622" stop-color="#87ff78"/><stop offset=".743" stop-color="#0afff5"/><stop offset=".784" stop-color="#008bff"/><stop offset=".811" stop-color="#000eff"/><stop offset=".832" stop-color="#00c"/><stop offset=".955" stop-color="#0000a4"/><stop offset="1" stop-color="#00008f"/></linearGradient>
<linearGradient id="a141" gradientUnits="userSpaceOnUse" x1="0" y1="80" x2="0" y2="228"><stop offset="0" stop-color="#800000"/><stop offset=".135" stop-color="#fd0000"/><stop offset=".338" stop-color="#ff7c00"/><stop offset=".473" stop-color="#fff900"/><stop offset=".622" stop-color="#87ff78"/><stop offset=".743" stop-color="#0afff5"/><stop offset=".784" stop-color="#008bff"/><stop offset=".811" stop-color="#000eff"/><stop offset=".831" stop-color="#00c"/><stop offset=".958" stop-color="#0000a4"/><stop offset="1" stop-color="#00008f"/></linearGradient>
<linearGradient id="a142" gradientUnits="userSpaceOnUse" x1="0" y1="80" x2="0" y2="228"><stop offset="0" stop-color="#800000"/><stop offset=".135" stop-color="#fd0000"/><stop offset=".338" stop-color="#ff7c00"/><stop offset=".473" stop-color="#fff900"/><stop offset=".622" stop-color="#87ff78"/><stop offset=".743" stop-color="#0afff5"/><stop offset=".784" stop-color="#008bff"/><stop offset=".811" stop-color="#000eff"/><stop offset=".829" stop-color="#00c"/><stop offset=".96" stop-color="#0000a4"/><stop offset="1" stop-color="#00008f"/></linearGradient>
<linearGradient id="a143" gradientUnits="userSpaceOnUse" x1="0" y1="80" x2="0" y2="228"><stop offset="0" stop-color="#800000"/><stop offset=".135" stop-color="#fd0000"/><stop offset=".338" stop-color="#ff7c00"/><stop offset=".473" stop-color="#fff900"/><stop offset=".622" stop-color="#87ff78"/><stop offset=".743" stop-color="#0afff5"/><stop offset=".784" stop-color="#008bff"/><stop offset=".811" stop-color="#000eff"/><stop offset=".827" stop-color="#00c"/><stop offset=".961" stop-color="#0000a4"/><stop offset="1" stop-color="#00008f"/></linearGradient>
<linearGradient id="a144" gradientUnits="userSpaceOnUse" x1="0" y1="80" x2="0" y2="228"><stop offset="0" stop-color="#800000"/><stop offset=".135" stop-color="#fd0000"/><stop offset=".338" stop-color="#ff7c00"/><stop offset=".473" stop-color="#fff900"/><stop offset=".622" stop-color="#87ff78"/><stop offset=".743" stop-color="#0afff5"/><stop offset=".784" stop-color="#008bff"/><stop offset=".811" stop-color="#000eff"/><stop offset=".825" stop-color="#00c"/><stop offset=".963" stop-color="#0000a4"/><stop offset="1" stop-color="#00008f"/></linearGradient>
<linearGradient id="a145" gradientUnits="userSpaceOnUse" x1="0" y1="80" x2="0" y2="228"><stop offset="0" stop-color="#800000"/><stop offset=".135" stop-color="#fd0000"/><stop offset=".338" stop-color="#ff7c00"/><stop offset=".473" stop-color="#fff900"/><stop offset=".622" stop-color="#87ff78"/><stop offset=".743" stop-color="#0afff5"/><stop offset=".784" stop-color="#008bff"/><stop offset=".811" stop-color="#000eff"/><stop offset=".823" stop-color="#00c"/><stop offset=".964" stop-color="#0000a4"/><stop offset="1" stop-color="#00008f"/></linearGradient>
<linearGradient id="a146" gradientUnits="userSpaceOnUse" x1="0" y1="80" x2="0" y2="228"><stop offset="0" stop-color="#800000"/><stop offset=".135" stop-color="#fd0000"/><stop offset=".338" stop-color="#ff7c00"/><stop offset=".473" stop-color="#fff900"/><stop offset=".622" stop-color="#87ff78"/><stop offset=".743" stop-color="#0afff5"/><stop offset=".784" stop-color="#008bff"/><stop offset=".811" stop-color="#000eff"/><stop offset=".821" stop-color="#00c"/><stop offset=".966" stop-color="#0000a4"/><stop offset="1" stop-color="#00008f"/></linearGradient>
<linearGradient id="a147" gradientUnits="userSpaceOnUse" x1="0" y1="80" x2="0" y2="228"><stop offset="0" stop-color="#800000"/><stop offset=".135" stop-color="#fd0000"/><stop offset=".338" stop-color="#ff7c00"/><stop offset=".473" stop-color="#fff900"/><stop offset=".622" stop-color="#87ff78"/><stop offset=".743" stop-color="#0afff5"/><stop offset=".784" stop-color="#008bff"/><stop offset=".811" stop-color="#000eff"/><stop offset=".819" stop-color="#00c"/><stop offset=".967" stop-color="#0000a4"/><stop offset="1" stop-color="#00008f"/></linearGradient>
<linearGradient id="a148" gradientUnits="userSpaceOnUse" x1="0" y1="80" x2="0" y2="228"><stop offset="0" stop-color="#800000"/><stop offset=".135" stop-color="#fd0000"/><stop offset=".338" stop-color="#ff7c00"/><stop offset=".473" stop-color="#fff900"/><stop offset=".622" stop-color="#87ff78"/><stop offset=".743" stop-color="#0afff5"/><stop offset=".784" stop-color="#008bff"/><stop offset=".811" stop-color="#000eff"/><stop offset=".817" stop-color="#00c"/><stop offset=".968" stop-color="#0000a4"/><stop offset="1" stop-color="#00008f"/></linearGradient>
<linearGradient id="a149" gradientUnits="userSpaceOnUse" x1="0" y1="80" x2="0" y2="228"><stop offset="0" stop-color="#800000"/><stop offset=".135" stop-color="#fd0000"/><stop offset=".338" stop-color="#ff7c00"/><stop offset=".473" stop-color="#fff900"/><stop offset=".622" stop-color="#87ff78"/><stop offset=".743" stop-color="#0afff5"/><stop offset=".784" stop-color="#008bff"/><stop offset=".811" stop-color="#000eff"/><stop offset=".816" stop-color="#00c"/><stop offset=".97" stop-color="#0000a4"/><stop offset="1" stop-color="#00008f"/></linearGradient>
<linearGradient id="a150" gradientUnits="userSpaceOnUse" x1="0" y1="80" x2="0" y2="228"><stop offset="0" stop-color="#800000"/><stop offset=".135" stop-color="#fd0000"/><stop offset=".338" stop-color="#ff7c00"/><stop offset=".473" stop-color="#fff900"/><stop offset=".622" stop-color="#87ff78"/><stop offset=".743" stop-color="#0afff5"/><stop offset=".784" stop-color="#008bff"/><stop offset=".811" stop-color="#000eff"/><stop offset=".814" stop-color="#00c"/><stop offset=".971" stop-color="#0000a4"/><stop offset="1" stop-color="#00008f"/></linearGradient>
<linearGradient id="a151" gradientUnits="userSpaceOnUse" x1="0" y1="80" x2="0" y2="228"><stop offset="0" stop-color="#800000"/><stop offset=".135" stop-color="#fd0000"/><stop offset=".338" stop-color="#ff7c00"/><stop offset=".473" stop-color="#fff900"/><stop offset=".622" stop-color="#87ff78"/><stop offset=".743" stop-color="#0afff5"/><stop offset=".784" stop-color="#008bff"/><stop offset=".811" stop-color="#000eff"/><stop offset=".814" stop-color="#00c"/><stop offset=".972" stop-color="#0000a4"/><stop offset="1" stop-color="#00008f"/></linearGradient>
<linearGradient id="b0" gradientUnits="userSpaceOnUse" x1="0" y1=".4" x2="0" y2="199.4"><stop offset="0" stop-color="#800000"/><stop offset=".057" stop-color="#fd0000"/><stop offset=".1" stop-color="#ff7c00"/><stop offset=".137" stop-color="#fff900"/><stop offset=".218" stop-color="#87ff78"/><stop offset=".352" stop-color="#0afff5"/><stop offset=".427" stop-color="#008bff"/><stop offset=".518" stop-color="#000eff"/><stop offset=".753" stop-color="#00c"/><stop offset=".952" stop-color="#0000a4"/><stop offset="1" stop-color="#00008f"/></linearGradient>
<linearGradient id="b1" gradientUnits="userSpaceOnUse" x1="0" y1="1.2" x2="0" y2="199.1"><stop offset="0" stop-color="#800000"/><stop offset=".057" stop-color="#fd0000"/><stop offset=".1" stop-color="#ff7c00"/><stop offset=".138" stop-color="#fff900"/><stop offset=".219" stop-color="#87ff78"/><stop offset=".354" stop-color="#0afff5"/><stop offset=".43" stop-color="#008bff"/><stop offset=".521" stop-color="#000eff"/><stop offset=".754" stop-color="#00c"/><stop offset=".953" stop-color="#0000a4"/><stop offset="1" stop-color="#00008f"/></linearGradient>
<linearGradient id="b2" gradientUnits="userSpaceOnUse" x1="0" y1="2.1" x2="0" y2="198.9"><stop offset="0" stop-color="#800000"/><stop offset=".058" stop-color="#fd0000"/><stop offset=".101" stop-color="#ff7c00"/><stop offset=".139" stop-color="#fff900"/><stop offset=".22" stop-color="#87ff78"/><stop offset=".356" stop-color="#0afff5"/><stop offset=".432" stop-color="#008bff"/><stop offset=".524" stop-color="#000eff"/><stop offset=".756" stop-color="#00c"/><stop offset=".953" stop-color="#0000a4"/><stop offset="1" stop-color="#00008f"/></linearGradient>
<linearGradient id="b3" gradientUnits="userSpaceOnUse" x1="0" y1="2.9" x2="0" y2="198.6"><stop offset="0" stop-color="#800000"/><stop offset=".058" stop-color="#fd0000"/><stop offset=".101" stop-color="#ff7c00"/><stop offset=".14" stop-color="#fff900"/><stop offset=".221" stop-color="#87ff78"/><stop offset=".358" stop-color="#0afff5"/><stop offset=".435" stop-color="#008bff"/><stop offset=".527" stop-color="#000eff"/><stop offset=".758" stop-color="#00c"/><stop offset=".953" stop-color="#0000a4"/><stop offset="1" stop-color="#00008f"/></linearGradient>
<linearGradient id="b4" gradientUnits="userSpaceOnUse" x1="0" y1="3.7" x2="0" y2="198.4"><stop offset="0" stop-color="#800000"/><stop offset=".058" stop-color="#fd0000"/><stop offset=".102" stop-color="#ff7c00"/><stop offset=".141" stop-color="#fff900"/><stop offset=".222" stop-color="#87ff78"/><stop offset=".36" stop-color="#0afff5"/><stop offset=".437" stop-color="#008bff"/><stop offset=".53" stop-color="#000eff"/><stop offset=".759" stop-color="#00c"/><stop offset=".953" stop-color="#0000a4"/><stop offset="1" stop-color="#00008f"/></linearGradient>
<linearGradient id="b5" gradientUnits="userSpaceOnUse" x1="0" y1="4.5" x2="0" y2="198.1"><stop offset="0" stop-color="#800000"/><stop offset=".058" stop-color="#fd0000"/><stop offset=".103" stop-color="#ff7c00"/><stop offset=".142" stop-color="#fff900"/><stop offset=".224" stop-color="#87ff78"/><stop offset=".362" stop-color="#0afff5"/><stop offset=".44" stop-color="#008bff"/><stop offset=".533" stop-color="#000eff"/><stop offset=".761" stop-color="#00c"/><stop offset=".954" stop-color="#0000a4"/><stop offset="1" stop-color="#00008f"/></linearGradient>
<linearGradient id="b6" gradientUnits="userSpaceOnUse" x1="0" y1="5.4" x2="0" y2="197.9"><stop offset="0" stop-color="#800000"/><stop offset=".058" stop-color="#fd0000"/><stop offset=".103" stop-color="#ff7c00"/><stop offset=".143" stop-color="#fff900"/><stop offset=".225" stop-color="#87ff78"/><stop offset=".364" stop-color="#0afff5"/><stop offset=".442" stop-color="#008bff"/><stop offset=".536" stop-color="#000eff"/><stop offset=".763" stop-color="#00c"/><stop offset=".954" stop-color="#0000a4"/><stop offset="1" stop-color="#00008f"/></linearGradient>
<linearGradient id="b7" gradientUnits="userSpaceOnUse" x1="0" y1="6.2" x2="0" y2="197.6"><stop offset="0" stop-color="#800000"/><stop offset=".059" stop-color="#fd0000"/><stop offset=".104" stop-color="#ff7c00"/><stop offset=".144" stop-color="#fff900"/><stop offset=".226" stop-color="#87ff78"/><stop offset=".367" stop-color="#0afff5"/><stop offset=".445" stop-color="#008bff"/><stop offset=".539" stop-color="#000eff"/><stop offset=".765" stop-color="#00c"/><stop offset=".954" stop-color="#0000a4"/><stop offset="1" stop-color="#00008f"/></linearGradient>
<linearGradient id="b8" gradientUnits="userSpaceOnUse" x1="0" y1="7" x2="0" y2="197.4"><stop offset="0" stop-color="#800000"/><stop offset=".059" stop-color="#fd0000"/><stop offset=".105" stop-color="#ff7c00"/><stop offset=".145" stop-color="#fff900"/><stop offset=".227" stop-color="#87ff78"/><stop offset=".369" stop-color="#0afff5"/><stop offset=".447" stop-color="#008bff"/><stop offset=".542" stop-color="#000eff"/><stop offset=".766" stop-color="#00c"/><stop offset=".954" stop-color="#0000a4"/><stop offset="1" stop-color="#00008f"/></linearGradient>
<linearGradient id="b9" gradientUnits="userSpaceOnUse" x1="0" y1="7.9" x2="0" y2="197.1"><stop offset="0" stop-color="#800000"/><stop offset=".059" stop-color="#fd0000"/><stop offset=".105" stop-color="#ff7c00"/><stop offset=".146" stop-color="#fff900"/><stop offset=".229" stop-color="#87ff78"/><stop offset=".371" stop-color="#0afff5"/><stop offset=".45" stop-color="#008bff"/><stop offset=".545" stop-color="#000eff"/><stop offset=".768" stop-color="#00c"/><stop offset=".955" stop-color="#0000a4"/><stop offset="1" stop-color="#00008f"/></linearGradient>
<linearGradient id="b10" gradientUnits="userSpaceOnUse" x1="0" y1="8.7" x2="0" y2="196.9"><stop offset="0" stop-color="#800000"/><stop offset=".059" stop-color="#fd0000"/><stop offset=".106" stop-color="#ff7c00"/><stop offset=".147" stop-color="#fff900"/><stop offset=".23" stop-color="#87ff78"/><stop offset=".373" stop-color="#0afff5"/><stop offset=".453" stop-color="#008bff"/><stop offset=".549" stop-color="#000eff"/><stop offset=".77" stop-color="#00c"/><stop offset=".955" stop-color="#0000a4"/><stop offset="1" stop-color="#00008f"/></linearGradient>
<linearGradient id="b11" gradientUnits="userSpaceOnUse" x1="0" y1="9.5" x2="0" y2="196.6"><stop offset="0" stop-color="#800000"/><stop offset=".06" stop-color="#fd0000"/><stop offset=".107" stop-color="#ff7c00"/><stop offset=".148" stop-color="#fff900"/><stop offset=".231" stop-color="#87ff78"/><stop offset=".376" stop-color="#0afff5"/><stop offset=".455" stop-color="#008bff"/><stop offset=".552" stop-color="#000eff"/><stop offset=".772" stop-color="#00c"/><stop offset=".955" stop-color="#0000a4"/><stop offset="1" stop-color="#00008f"/></linearGradient>
<linearGradient id="b12" gradientUnits="userSpaceOnUse" x1="0" y1="10.3" x2="0" y2="196.4"><stop offset="0" stop-color="#800000"/><stop offset=".06" stop-color="#fd0000"/><stop offset=".108" stop-color="#ff7c00"/><stop offset=".149" stop-color="#fff900"/><stop offset=".233" stop-color="#87ff78"/><stop offset=".378" stop-color="#0afff5"/><stop offset=".458" stop-color="#008bff"/><stop offset=".555" stop-color="#000eff"/><stop offset=".774" stop-color="#00c"/><stop offset=".956" stop-color="#0000a4"/><stop offset="1" stop-color="#00008f"/></linearGradient>
<linearGradient id="b13" gradientUnits="userSpaceOnUse" x1="0" y1="11.2" x2="0" y2="196.1"><stop offset="0" stop-color="#800000"/><stop offset=".06" stop-color="#fd0000"/><stop offset=".108" stop-color="#ff7c00"/><stop offset=".15" stop-color="#fff900"/><stop offset=".234" stop-color="#87ff78"/><stop offset=".38" stop-color="#0afff5"/><stop offset=".461" stop-color="#008bff"/><stop offset=".559" stop-color="#000eff"/><stop offset=".776" stop-color="#00c"/><stop offset=".956" stop-color="#0000a4"/><stop offset="1" stop-color="#00008f"/></linearGradient>
<linearGradient id="b14" gradientUnits="userSpaceOnUse" x1="0" y1="12" x2="0" y2="195.9"><stop offset="0" stop-color="#800000"/><stop offset=".06" stop-color="#fd0000"/><stop offset=".109" stop-color="#ff7c00"/><stop offset=".151" stop-color="#fff900"/><stop offset=".235" stop-color="#87ff78"/><stop offset=".383" stop-color="#0afff5"/><stop offset=".464" stop-color="#008bff"/><stop offset=".562" stop-color="#000eff"/><stop offset=".777" stop-color="#00c"/><stop offset=".956" stop-color="#0000a4"/><stop offset="1" stop-color="#00008f"/></linearGradient>
<linearGradient id="b15" gradientUnits="userSpaceOnUse" x1="0" y1="12.8" x2="0" y2="195.6"><stop offset="0" stop-color="#800000"/><stop offset=".061" stop-color="#fd0000"/><stop offset=".11" stop-color="#ff7c00"/><stop offset=".153" stop-color="#fff900"/><stop offset=".237" stop-color="#87ff78"/><stop offset=".385" stop-color="#0afff5"/><stop offset=".467" stop-color="#008bff"/><stop offset=".565" stop-color="#000eff"/><stop offset=".779" stop-color="#00c"/><stop offset=".956" stop-color="#0000a4"/><stop offset="1" stop-color="#00008f"/></linearGradient>
<linearGradient id="b16" gradientUnits="userSpaceOnUse" x1="0" y1="13.6" x2="0" y2="195.4"><stop offset="0" stop-color="#800000"/><stop offset=".061" stop-color="#fd0000"/><stop offset=".11" stop-color="#ff7c00"/><stop offset=".154" stop-color="#fff900"/><stop offset=".238" stop-color="#87ff78"/><stop offset=".387" stop-color="#0afff5"/><stop offset=".47" stop-color="#008bff"/><stop offset=".569" stop-color="#000eff"/><stop offset=".781" stop-color="#00c"/><stop offset=".957" stop-color="#0000a4"/><stop offset="1" stop-color="#00008f"/></linearGradient>
<linearGradient id="b17" gradientUnits="userSpaceOnUse" x1="0" y1="14.5" x2="0" y2="195.1"><stop offset="0" stop-color="#800000"/><stop offset=".061" stop-color="#fd0000"/><stop offset=".111" stop-color="#ff7c00"/><stop offset=".155" stop-color="#fff900"/><stop offset=".24" stop-color="#87ff78"/><stop offset=".39" stop-color="#0afff5"/><stop offset=".472" stop-color="#008bff"/><stop offset=".572" stop-color="#000eff"/><stop offset=".783" stop-color="#00c"/><stop offset=".957" stop-color="#0000a4"/><stop offset="1" stop-color="#00008f"/></linearGradient>
<linearGradient id="b18" gradientUnits="userSpaceOnUse" x1="0" y1="15.3" x2="0" y2="194.9"><stop offset="0" stop-color="#800000"/><stop offset=".061" stop-color="#fd0000"/><stop offset=".112" stop-color="#ff7c00"/><stop offset=".156" stop-color="#fff900"/><stop offset=".241" stop-color="#87ff78"/><stop offset=".392" stop-color="#0afff5"/><stop offset=".475" stop-color="#008bff"/><stop offset=".576" stop-color="#000eff"/><stop offset=".785" stop-color="#00c"/><stop offset=".957" stop-color="#0000a4"/><stop offset="1" stop-color="#00008f"/></linearGradient>
<linearGradient id="b19" gradientUnits="userSpaceOnUse" x1="0" y1="16.1" x2="0" y2="194.6"><stop offset="0" stop-color="#800000"/><stop offset=".062" stop-color="#fd0000"/><stop offset=".113" stop-color="#ff7c00"/><stop offset=".157" stop-color="#fff900"/><stop offset=".242" stop-color="#87ff78"/><stop offset=".395" stop-color="#0afff5"/><stop offset=".478" stop-color="#008bff"/><stop offset=".58" stop-color="#000eff"/><stop offset=".787" stop-color="#00c"/><stop offset=".957" stop-color="#0000a4"/><stop offset="1" stop-color="#00008f"/></linearGradient>
<linearGradient id="b20" gradientUnits="userSpaceOnUse" x1="0" y1="16.9" x2="0" y2="194.4"><stop offset="0" stop-color="#800000"/><stop offset=".062" stop-color="#fd0000"/><stop offset=".114" stop-color="#ff7c00"/><stop offset=".158" stop-color="#fff900"/><stop offset=".244" stop-color="#87ff78"/><stop offset=".397" stop-color="#0afff5"/><stop offset=".481" stop-color="#008bff"/><stop offset=".583" stop-color="#000eff"/><stop offset=".789" stop-color="#00c"/><stop offset=".958" stop-color="#0000a4"/><stop offset="1" stop-color="#00008f"/></linearGradient>
<linearGradient id="b21" gradientUnits="userSpaceOnUse" x1="0" y1="17.8" x2="0" y2="194.1"><stop offset="0" stop-color="#800000"/><stop offset=".062" stop-color="#fd0000"/><stop offset=".114" stop-color="#ff7c00"/><stop offset=".159" stop-color="#fff900"/><stop offset=".245" stop-color="#87ff78"/><stop offset=".4" stop-color="#0afff5"/><stop offset=".484" stop-color="#008bff"/><stop offset=".587" stop-color="#000eff"/><stop offset=".791" stop-color="#00c"/><stop offset=".958" stop-color="#0000a4"/><stop offset="1" stop-color="#00008f"/></linearGradient>
<linearGradient id="b22" gradientUnits="userSpaceOnUse" x1="0" y1="18.6" x2="0" y2="193.9"><stop offset="0" stop-color="#800000"/><stop offset=".062" stop-color="#fd0000"/><stop offset=".115" stop-color="#ff7c00"/><stop offset=".161" stop-color="#fff900"/><stop offset=".247" stop-color="#87ff78"/><stop offset=".402" stop-color="#0afff5"/><stop offset=".488" stop-color="#008bff"/><stop offset=".591" stop-color="#000eff"/><stop offset=".793" stop-color="#00c"/><stop offset=".958" stop-color="#0000a4"/><stop offset="1" stop-color="#00008f"/></linearGradient>
<linearGradient id="b23" gradientUnits="userSpaceOnUse" x1="0" y1="19.4" x2="0" y2="193.6"><stop offset="0" stop-color="#800000"/><stop offset=".063" stop-color="#fd0000"/><stop offset=".116" stop-color="#ff7c00"/><stop offset=".162" stop-color="#fff900"/><stop offset=".248" stop-color="#87ff78"/><stop offset=".405" stop-color="#0afff5"/><stop offset=".491" stop-color="#008bff"/><stop offset=".594" stop-color="#000eff"/><stop offset=".796" stop-color="#00c"/><stop offset=".959" stop-color="#0000a4"/><stop offset="1" stop-color="#00008f"/></linearGradient>
<linearGradient id="b24" gradientUnits="userSpaceOnUse" x1="0" y1="20.2" x2="0" y2="193.4"><stop offset="0" stop-color="#800000"/><stop offset=".063" stop-color="#fd0000"/><stop offset=".117" stop-color="#ff7c00"/><stop offset=".163" stop-color="#fff900"/><stop offset=".25" stop-color="#87ff78"/><stop offset=".408" stop-color="#0afff5"/><stop offset=".494" stop-color="#008bff"/><stop offset=".598" stop-color="#000eff"/><stop offset=".798" stop-color="#00c"/><stop offset=".959" stop-color="#0000a4"/><stop offset="1" stop-color="#00008f"/></linearGradient>
<linearGradient id="b25" gradientUnits="userSpaceOnUse" x1="0" y1="21.1" x2="0" y2="193.1"><stop offset="0" stop-color="#800000"/><stop offset=".063" stop-color="#fd0000"/><stop offset=".118" stop-color="#ff7c00"/><stop offset=".164" stop-color="#fff900"/><stop offset=".251" stop-color="#87ff78"/><stop offset=".41" stop-color="#0afff5"/><stop offset=".497" stop-color="#008bff"/><stop offset=".602" stop-color="#000eff"/><stop offset=".8" stop-color="#00c"/><stop offset=".959" stop-color="#0000a4"/><stop offset="1" stop-color="#00008f"/></linearGradient>
<linearGradient id="b26" gradientUnits="userSpaceOnUse" x1="0" y1="21.9" x2="0" y2="192.9"><stop offset="0" stop-color="#800000"/><stop offset=".063" stop-color="#fd0000"/><stop offset=".118" stop-color="#ff7c00"/><stop offset=".166" stop-color="#fff900"/><stop offset=".253" stop-color="#87ff78"/><stop offset=".413" stop-color="#0afff5"/><stop offset=".5" stop-color="#008bff"/><stop offset=".606" stop-color="#000eff"/><stop offset=".802" stop-color="#00c"/><stop offset=".96" stop-color="#0000a4"/><stop offset="1" stop-color="#00008f"/></linearGradient>
<linearGradient id="b27" gradientUnits="userSpaceOnUse" x1="0" y1="22.7" x2="0" y2="192.6"><stop offset="0" stop-color="#800000"/><stop offset=".064" stop-color="#fd0000"/><stop offset=".119" stop-color="#ff7c00"/><stop offset=".167" stop-color="#fff900"/><stop offset=".255" stop-color="#87ff78"/><stop offset=".416" stop-color="#0afff5"/><stop offset=".504" stop-color="#008bff"/><stop offset=".61" stop-color="#000eff"/><stop offset=".804" stop-color="#00c"/><stop offset=".96" stop-color="#0000a4"/><stop offset="1" stop-color="#00008f"/></linearGradient>
<linearGradient id="b28" gradientUnits="userSpaceOnUse" x1="0" y1="23.6" x2="0" y2="192.6"><stop offset="0" stop-color="#800000"/><stop offset=".064" stop-color="#fd0000"/><stop offset=".12" stop-color="#ff7c00"/><stop offset=".168" stop-color="#fff900"/><stop offset=".256" stop-color="#87ff78"/><stop offset=".418" stop-color="#0afff5"/><stop offset=".506" stop-color="#008bff"/><stop offset=".613" stop-color="#000eff"/><stop offset=".806" stop-color="#00c"/><stop offset=".959" stop-color="#0000a4"/><stop offset="1" stop-color="#00008f"/></linearGradient>
<linearGradient id="b29" gradientUnits="userSpaceOnUse" x1="0" y1="24.4" x2="0" y2="192.7"><stop offset="0" stop-color="#800000"/><stop offset=".064" stop-color="#fd0000"/><stop offset=".121" stop-color="#ff7c00"/><stop offset=".169" stop-color="#fff900"/><stop offset=".257" stop-color="#87ff78"/><stop offset=".42" stop-color="#0afff5"/><stop offset=".508" stop-color="#008bff"/><stop offset=".616" stop-color="#000eff"/><stop offset=".806" stop-color="#00c"/><stop offset=".957" stop-color="#0000a4"/><stop offset="1" stop-color="#00008f"/></linearGradient>
<linearGradient id="b30" gradientUnits="userSpaceOnUse" x1="0" y1="25.2" x2="0" y2="192.9"><stop offset="0" stop-color="#800000"/><stop offset=".064" stop-color="#fd0000"/><stop offset=".121" stop-color="#ff7c00"/><stop offset=".17" stop-color="#fff900"/><stop offset=".258" stop-color="#87ff78"/><stop offset=".422" stop-color="#0afff5"/><stop offset=".511" stop-color="#008bff"/><stop offset=".619" stop-color="#000eff"/><stop offset=".806" stop-color="#00c"/><stop offset=".955" stop-color="#0000a4"/><stop offset="1" stop-color="#00008f"/></linearGradient>
<linearGradient id="b31" gradientUnits="userSpaceOnUse" x1="0" y1="26" x2="0" y2="193"><stop offset="0" stop-color="#800000"/><stop offset=".064" stop-color="#fd0000"/><stop offset=".122" stop-color="#ff7c00"/><stop offset=".171" stop-color="#fff900"/><stop offset=".259" stop-color="#87ff78"/><stop offset=".424" stop-color="#0afff5"/><stop offset=".513" stop-color="#008bff"/><stop offset=".621" stop-color="#000eff"/><stop offset=".807" stop-color="#00c"/><stop offset=".953" stop-color="#0000a4"/><stop offset="1" stop-color="#00008f"/></linearGradient>
<linearGradient id="b32" gradientUnits="userSpaceOnUse" x1="0" y1="26.9" x2="0" y2="193.2"><stop offset="0" stop-color="#800000"/><stop offset=".064" stop-color="#fd0000"/><stop offset=".122" stop-color="#ff7c00"/><stop offset=".172" stop-color="#fff900"/><stop offset=".26" stop-color="#87ff78"/><stop offset=".426" stop-color="#0afff5"/><stop offset=".515" stop-color="#008bff"/><stop offset=".624" stop-color="#000eff"/><stop offset=".807" stop-color="#00c"/><stop offset=".951" stop-color="#0000a4"/><stop offset="1" stop-color="#00008f"/></linearGradient>
<linearGradient id="b33" gradientUnits="userSpaceOnUse" x1="0" y1="27.7" x2="0" y2="193.3"><stop offset="0" stop-color="#800000"/><stop offset=".065" stop-color="#fd0000"/><stop offset=".123" stop-color="#ff7c00"/><stop offset=".172" stop-color="#fff900"/><stop offset=".261" stop-color="#87ff78"/><stop offset=".427" stop-color="#0afff5"/><stop offset=".517" stop-color="#008bff"/><stop offset=".627" stop-color="#000eff"/><stop offset=".807" stop-color="#00c"/><stop offset=".949" stop-color="#0000a4"/><stop offset="1" stop-color="#00008f"/></linearGradient>
<linearGradient id="b34" gradientUnits="userSpaceOnUse" x1="0" y1="28.5" x2="0" y2="193.5"><stop offset="0" stop-color="#800000"/><stop offset=".065" stop-color="#fd0000"/><stop offset=".124" stop-color="#ff7c00"/><stop offset=".173" stop-color="#fff900"/><stop offset=".262" stop-color="#87ff78"/><stop offset=".429" stop-color="#0afff5"/><stop offset=".519" stop-color="#008bff"/><stop offset=".629" stop-color="#000eff"/><stop offset=".808" stop-color="#00c"/><stop offset=".947" stop-color="#0000a4"/><stop offset="1" stop-color="#00008f"/></linearGradient>
<linearGradient id="b35" gradientUnits="userSpaceOnUse" x1="0" y1="29.3" x2="0" y2="193.6"><stop offset="0" stop-color="#800000"/><stop offset=".065" stop-color="#fd0000"/><stop offset=".124" stop-color="#ff7c00"/><stop offset=".174" stop-color="#fff900"/><stop offset=".263" stop-color="#87ff78"/><stop offset=".431" stop-color="#0afff5"/><stop offset=".522" stop-color="#008bff"/><stop offset=".632" stop-color="#000eff"/><stop offset=".808" stop-color="#00c"/><stop offset=".945" stop-color="#0000a4"/><stop offset="1" stop-color="#00008f"/></linearGradient>
<linearGradient id="b36" gradientUnits="userSpaceOnUse" x1="0" y1="30.2" x2="0" y2="193.8"><stop offset="0" stop-color="#800000"/><stop offset=".065" stop-color="#fd0000"/><stop offset=".125" stop-color="#ff7c00"/><stop offset=".175" stop-color="#fff900"/><stop offset=".264" stop-color="#87ff78"/><stop offset=".433" stop-color="#0afff5"/><stop offset=".524" stop-color="#008bff"/><stop offset=".635" stop-color="#000eff"/><stop offset=".808" stop-color="#00c"/><stop offset=".943" stop-color="#0000a4"/><stop offset="1" stop-color="#00008f"/></linearGradient>
<linearGradient id="b37" gradientUnits="userSpaceOnUse" x1="0" y1="31" x2="0" y2="193.9"><stop offset="0" stop-color="#800000"/><stop offset=".065" stop-color="#fd0000"/><stop offset=".125" stop-color="#ff7c00"/><stop offset=".176" stop-color="#fff900"/><stop offset=".265" stop-color="#87ff78"/><stop offset=".435" stop-color="#0afff5"/><stop offset=".526" stop-color="#008bff"/><stop offset=".638" stop-color="#000eff"/><stop offset=".809" stop-color="#00c"/><stop offset=".941" stop-color="#0000a4"/><stop offset="1" stop-color="#00008f"/></linearGradient>
<linearGradient id="b38" gradientUnits="userSpaceOnUse" x1="0" y1="31.8" x2="0" y2="194.2"><stop offset="0" stop-color="#800000"/><stop offset=".065" stop-color="#fd0000"/><stop offset=".126" stop-color="#ff7c00"/><stop offset=".177" stop-color="#fff900"/><stop offset=".266" stop-color="#87ff78"/><stop offset=".437" stop-color="#0afff5"/><stop offset=".528" stop-color="#008bff"/><stop offset=".64" stop-color="#000eff"/><stop offset=".808" stop-color="#00c"/><stop offset=".938" stop-color="#0000a4"/><stop offset="1" stop-color="#00008f"/></linearGradient>
<linearGradient id="b39" gradientUnits="userSpaceOnUse" x1="0" y1="32.6" x2="0" y2="194.8"><stop offset="0" stop-color="#800000"/><stop offset=".065" stop-color="#fd0000"/><stop offset=".126" stop-color="#ff7c00"/><stop offset=".178" stop-color="#fff900"/><stop offset=".267" stop-color="#87ff78"/><stop offset=".438" stop-color="#0afff5"/><stop offset=".529" stop-color="#008bff"/><stop offset=".641" stop-color="#000eff"/><stop offset=".807" stop-color="#00c"/><stop offset=".934" stop-color="#0000a4"/><stop offset="1" stop-color="#00008f"/></linearGradient>
<linearGradient id="b40" gradientUnits="userSpaceOnUse" x1="0" y1="33.5" x2="0" y2="195.2"><stop offset="0" stop-color="#800000"/><stop offset=".065" stop-color="#fd0000"/><stop offset=".127" stop-color="#ff7c00"/><stop offset=".178" stop-color="#fff900"/><stop offset=".267" stop-color="#87ff78"/><stop offset=".439" stop-color="#0afff5"/><stop offset=".53" stop-color="#008bff"/><stop offset=".643" stop-color="#000eff"/><stop offset=".806" stop-color="#00c"/><stop offset=".929" stop-color="#0000a4"/><stop offset="1" stop-color="#00008f"/></linearGradient>
<linearGradient id="b41" gradientUnits="userSpaceOnUse" x1="0" y1="34.3" x2="0" y2="195.8"><stop offset="0" stop-color="#800000"/><stop offset=".065" stop-color="#fd0000"/><stop offset=".127" stop-color="#ff7c00"/><stop offset=".179" stop-color="#fff900"/><stop offset=".268" stop-color="#87ff78"/><stop offset=".44" stop-color="#0afff5"/><stop offset=".532" stop-color="#008bff"/><stop offset=".644" stop-color="#000eff"/><stop offset=".804" stop-color="#00c"/><stop offset=".925" stop-color="#0000a4"/><stop offset="1" stop-color="#00008f"/></linearGradient>
<linearGradient id="b42" gradientUnits="userSpaceOnUse" x1="0" y1="35.1" x2="0" y2="196.2"><stop offset="0" stop-color="#800000"/><stop offset=".065" stop-color="#fd0000"/><stop offset=".127" stop-color="#ff7c00"/><stop offset=".179" stop-color="#fff900"/><stop offset=".268" stop-color="#87ff78"/><stop offset=".441" stop-color="#0afff5"/><stop offset=".533" stop-color="#008bff"/><stop offset=".646" stop-color="#000eff"/><stop offset=".803" stop-color="#00c"/><stop offset=".921" stop-color="#0000a4"/><stop offset="1" stop-color="#00008f"/></linearGradient>
<linearGradient id="b43" gradientUnits="userSpaceOnUse" x1="0" y1="36" x2="0" y2="196.8"><stop offset="0" stop-color="#800000"/><stop offset=".065" stop-color="#fd0000"/><stop offset=".128" stop-color="#ff7c00"/><stop offset=".18" stop-color="#fff900"/><stop offset=".269" stop-color="#87ff78"/><stop offset=".442" stop-color="#0afff5"/><stop offset=".534" stop-color="#008bff"/><stop offset=".647" stop-color="#000eff"/><stop offset=".801" stop-color="#00c"/><stop offset=".917" stop-color="#0000a4"/><stop offset="1" stop-color="#00008f"/></linearGradient>
<linearGradient id="b44" gradientUnits="userSpaceOnUse" x1="0" y1="36.8" x2="0" y2="197.2"><stop offset="0" stop-color="#800000"/><stop offset=".065" stop-color="#fd0000"/><stop offset=".128" stop-color="#ff7c00"/><stop offset=".181" stop-color="#fff900"/><stop offset=".269" stop-color="#87ff78"/><stop offset=".443" stop-color="#0afff5"/><stop offset=".535" stop-color="#008bff"/><stop offset=".648" stop-color="#000eff"/><stop offset=".8" stop-color="#00c"/><stop offset=".913" stop-color="#0000a4"/><stop offset="1" stop-color="#00008f"/></linearGradient>
<linearGradient id="b45" gradientUnits="userSpaceOnUse" x1="0" y1="37.6" x2="0" y2="197.8"><stop offset="0" stop-color="#800000"/><stop offset=".065" stop-color="#fd0000"/><stop offset=".128" stop-color="#ff7c00"/><stop offset=".181" stop-color="#fff900"/><stop offset=".27" stop-color="#87ff78"/><stop offset=".444" stop-color="#0afff5"/><stop offset=".536" stop-color="#008bff"/><stop offset=".65" stop-color="#000eff"/><stop offset=".799" stop-color="#00c"/><stop offset=".908" stop-color="#0000a4"/><stop offset="1" stop-color="#00008f"/></linearGradient>
<linearGradient id="b46" gradientUnits="userSpaceOnUse" x1="0" y1="38.4" x2="0" y2="198.2"><stop offset="0" stop-color="#800000"/><stop offset=".065" stop-color="#fd0000"/><stop offset=".129" stop-color="#ff7c00"/><stop offset=".182" stop-color="#fff900"/><stop offset=".27" stop-color="#87ff78"/><stop offset=".445" stop-color="#0afff5"/><stop offset=".538" stop-color="#008bff"/><stop offset=".651" stop-color="#000eff"/><stop offset=".797" stop-color="#00c"/><stop offset=".907" stop-color="#0000a4"/><stop offset="1" stop-color="#00008f"/></linearGradient>
<linearGradient id="b47" gradientUnits="userSpaceOnUse" x1="0" y1="39.3" x2="0" y2="198.8"><stop offset="0" stop-color="#800000"/><stop offset=".065" stop-color="#fd0000"/><stop offset=".129" stop-color="#ff7c00"/><stop offset=".182" stop-color="#fff900"/><stop offset=".271" stop-color="#87ff78"/><stop offset=".446" stop-color="#0afff5"/><stop offset=".539" stop-color="#008bff"/><stop offset=".653" stop-color="#000eff"/><stop offset=".796" stop-color="#00c"/><stop offset=".909" stop-color="#0000a4"/><stop offset="1" stop-color="#00008f"/></linearGradient>
<linearGradient id="b48" gradientUnits="userSpaceOnUse" x1="0" y1="40.1" x2="0" y2="199.2"><stop offset="0" stop-color="#800000"/><stop offset=".065" stop-color="#fd0000"/><stop offset=".129" stop-color="#ff7c00"/><stop offset=".183" stop-color="#fff900"/><stop offset=".272" stop-color="#87ff78"/><stop offset=".447" stop-color="#0afff5"/><stop offset=".54" stop-color="#008bff"/><stop offset=".654" stop-color="#000eff"/><stop offset=".794" stop-color="#00c"/><stop offset=".911" stop-color="#0000a4"/><stop offset="1" stop-color="#00008f"/></linearGradient>
<linearGradient id="b49" gradientUnits="userSpaceOnUse" x1="0" y1="40.9" x2="0" y2="199.8"><stop offset="0" stop-color="#800000"/><stop offset=".065" stop-color="#fd0000"/><stop offset=".13" stop-color="#ff7c00"/><stop offset=".184" stop-color="#fff900"/><stop offset=".272" stop-color="#87ff78"/><stop offset=".448" stop-color="#0afff5"/><stop offset=".541" stop-color="#008bff"/><stop offset=".656" stop-color="#000eff"/><stop offset=".793" stop-color="#00c"/><stop offset=".913" stop-color="#0000a4"/><stop offset="1" stop-color="#00008f"/></linearGradient>
<linearGradient id="b50" gradientUnits="userSpaceOnUse" x1="0" y1="41.7" x2="0" y2="200.2"><stop offset="0" stop-color="#800000"/><stop offset=".065" stop-color="#fd0000"/><stop offset=".13" stop-color="#ff7c00"/><stop offset=".184" stop-color="#fff900"/><stop offset=".273" stop-color="#87ff78"/><stop offset=".449" stop-color="#0afff5"/><stop offset=".543" stop-color="#008bff"/><stop offset=".657" stop-color="#000eff"/><stop offset=".792" stop-color="#00c"/><stop offset=".915" stop-color="#0000a4"/><stop offset="1" stop-color="#00008f"/></linearGradient>
<linearGradient id="b51" gradientUnits="userSpaceOnUse" x1="0" y1="42.6" x2="0" y2="200.8"><stop offset="0" stop-color="#800000"/><stop offset=".065" stop-color="#fd0000"/><stop offset=".131" stop-color="#ff7c00"/><stop offset=".185" stop-color="#fff900"/><stop offset=".273" stop-color="#87ff78"/><stop offset=".45" stop-color="#0afff5"/><stop offset=".544" stop-color="#008bff"/><stop offset=".659" stop-color="#000eff"/><stop offset=".79" stop-color="#00c"/><stop offset=".917" stop-color="#0000a4"/><stop offset="1" stop-color="#00008f"/></linearGradient>
<linearGradient id="b52" gradientUnits="userSpaceOnUse" x1="0" y1="43.4" x2="0" y2="201.2"><stop offset="0" stop-color="#800000"/><stop offset=".065" stop-color="#fd0000"/><stop offset=".131" stop-color="#ff7c00"/><stop offset=".186" stop-color="#fff900"/><stop offset=".274" stop-color="#87ff78"/><stop offset=".451" stop-color="#0afff5"/><stop offset=".545" stop-color="#008bff"/><stop offset=".66" stop-color="#000eff"/><stop offset=".789" stop-color="#00c"/><stop offset=".919" stop-color="#0000a4"/><stop offset="1" stop-color="#00008f"/></linearGradient>
<linearGradient id="b53" gradientUnits="userSpaceOnUse" x1="0" y1="44.2" x2="0" y2="201.8"><stop offset="0" stop-color="#800000"/><stop offset=".065" stop-color="#fd0000"/><stop offset=".131" stop-color="#ff7c00"/><stop offset=".186" stop-color="#fff900"/><stop offset=".274" stop-color="#87ff78"/><stop offset=".452" stop-color="#0afff5"/><stop offset=".546" stop-color="#008bff"/><stop offset=".662" stop-color="#000eff"/><stop offset=".787" stop-color="#00c"/><stop offset=".921" stop-color="#0000a4"/><stop offset="1" stop-color="#00008f"/></linearGradient>
<linearGradient id="b54" gradientUnits="userSpaceOnUse" x1="0" y1="45" x2="0" y2="202.2"><stop offset="0" stop-color="#800000"/><stop offset=".065" stop-color="#fd0000"/><stop offset=".132" stop-color="#ff7c00"/><stop offset=".187" stop-color="#fff900"/><stop offset=".275" stop-color="#87ff78"/><stop offset=".454" stop-color="#0afff5"/><stop offset=".548" stop-color="#008bff"/><stop offset=".663" stop-color="#000eff"/><stop offset=".786" stop-color="#00c"/><stop offset=".923" stop-color="#0000a4"/><stop offset="1" stop-color="#00008f"/></linearGradient>
<linearGradient id="b55" gradientUnits="userSpaceOnUse" x1="0" y1="45.9" x2="0" y2="202.8"><stop offset="0" stop-color="#800000"/><stop offset=".065" stop-color="#fd0000"/><stop offset=".132" stop-color="#ff7c00"/><stop offset=".187" stop-color="#fff900"/><stop offset=".275" stop-color="#87ff78"/><stop offset=".455" stop-color="#0afff5"/><stop offset=".549" stop-color="#008bff"/><stop offset=".665" stop-color="#000eff"/><stop offset=".784" stop-color="#00c"/><stop offset=".925" stop-color="#0000a4"/><stop offset="1" stop-color="#00008f"/></linearGradient>
<linearGradient id="b56" gradientUnits="userSpaceOnUse" x1="0" y1="46.7" x2="0" y2="203.2"><stop offset="0" stop-color="#800000"/><stop offset=".065" stop-color="#fd0000"/><stop offset=".132" stop-color="#ff7c00"/><stop offset=".188" stop-color="#fff900"/><stop offset=".276" stop-color="#87ff78"/><stop offset=".456" stop-color="#0afff5"/><stop offset=".55" stop-color="#008bff"/><stop offset=".667" stop-color="#000eff"/><stop offset=".783" stop-color="#00c"/><stop offset=".927" stop-color="#0000a4"/><stop offset="1" stop-color="#00008f"/></linearGradient>
<linearGradient id="b57" gradientUnits="userSpaceOnUse" x1="0" y1="47.5" x2="0" y2="203.8"><stop offset="0" stop-color="#800000"/><stop offset=".065" stop-color="#fd0000"/><stop offset=".133" stop-color="#ff7c00"/><stop offset=".189" stop-color="#fff900"/><stop offset=".277" stop-color="#87ff78"/><stop offset=".457" stop-color="#0afff5"/><stop offset=".551" stop-color="#008bff"/><stop offset=".668" stop-color="#000eff"/><stop offset=".781" stop-color="#00c"/><stop offset=".929" stop-color="#0000a4"/><stop offset="1" stop-color="#00008f"/></linearGradient>
<linearGradient id="b58" gradientUnits="userSpaceOnUse" x1="0" y1="48.3" x2="0" y2="204.4"><stop offset="0" stop-color="#800000"/><stop offset=".065" stop-color="#fd0000"/><stop offset=".133" stop-color="#ff7c00"/><stop offset=".189" stop-color="#fff900"/><stop offset=".277" stop-color="#87ff78"/><stop offset=".457" stop-color="#0afff5"/><stop offset=".552" stop-color="#008bff"/><stop offset=".669" stop-color="#000eff"/><stop offset=".779" stop-color="#00c"/><stop offset=".929" stop-color="#0000a4"/><stop offset="1" stop-color="#00008f"/></linearGradient>
<linearGradient id="b59" gradientUnits="userSpaceOnUse" x1="0" y1="49.2" x2="0" y2="205.3"><stop offset="0" stop-color="#800000"/><stop offset=".065" stop-color="#fd0000"/><stop offset=".133" stop-color="#ff7c00"/><stop offset=".189" stop-color="#fff900"/><stop offset=".277" stop-color="#87ff78"/><stop offset=".457" stop-color="#0afff5"/><stop offset=".552" stop-color="#008bff"/><stop offset=".669" stop-color="#000eff"/><stop offset=".775" stop-color="#00c"/><stop offset=".928" stop-color="#0000a4"/><stop offset="1" stop-color="#00008f"/></linearGradient>
<linearGradient id="b60" gradientUnits="userSpaceOnUse" x1="0" y1="50" x2="0" y2="206.2"><stop offset="0" stop-color="#800000"/><stop offset=".065" stop-color="#fd0000"/><stop offset=".133" stop-color="#ff7c00"/><stop offset=".189" stop-color="#fff900"/><stop offset=".276" stop-color="#87ff78"/><stop offset=".457" stop-color="#0afff5"/><stop offset=".552" stop-color="#008bff"/><stop offset=".668" stop-color="#000eff"/><stop offset=".772" stop-color="#00c"/><stop offset=".927" stop-color="#0000a4"/><stop offset="1" stop-color="#00008f"/></linearGradient>
<linearGradient id="b61" gradientUnits="userSpaceOnUse" x1="0" y1="50.8" x2="0" y2="207.2"><stop offset="0" stop-color="#800000"/><stop offset=".065" stop-color="#fd0000"/><stop offset=".133" stop-color="#ff7c00"/><stop offset=".19" stop-color="#fff900"/><stop offset=".276" stop-color="#87ff78"/><stop offset=".457" stop-color="#0afff5"/><stop offset=".552" stop-color="#008bff"/><stop offset=".668" stop-color="#000eff"/><stop offset=".769" stop-color="#00c"/><stop offset=".926" stop-color="#0000a4"/><stop offset="1" stop-color="#00008f"/></linearGradient>
<linearGradient id="b62" gradientUnits="userSpaceOnUse" x1="0" y1="51.7" x2="0" y2="208.1"><stop offset="0" stop-color="#800000"/><stop offset=".064" stop-color="#fd0000"/><stop offset=".133" stop-color="#ff7c00"/><stop offset=".19" stop-color="#fff900"/><stop offset=".276" stop-color="#87ff78"/><stop offset=".457" stop-color="#0afff5"/><stop offset=".552" stop-color="#008bff"/><stop offset=".668" stop-color="#000eff"/><stop offset=".765" stop-color="#00c"/><stop offset=".925" stop-color="#0000a4"/><stop offset="1" stop-color="#00008f"/></linearGradient>
<linearGradient id="b63" gradientUnits="userSpaceOnUse" x1="0" y1="52.5" x2="0" y2="208.9"><stop offset="0" stop-color="#800000"/><stop offset=".064" stop-color="#fd0000"/><stop offset=".133" stop-color="#ff7c00"/><stop offset=".19" stop-color="#fff900"/><stop offset=".276" stop-color="#87ff78"/><stop offset=".457" stop-color="#0afff5"/><stop offset=".551" stop-color="#008bff"/><stop offset=".668" stop-color="#000eff"/><stop offset=".762" stop-color="#00c"/><stop offset=".924" stop-color="#0000a4"/><stop offset="1" stop-color="#00008f"/></linearGradient>
<linearGradient id="b64" gradientUnits="userSpaceOnUse" x1="0" y1="53.3" x2="0" y2="209.8"><stop offset="0" stop-color="#800000"/><stop offset=".064" stop-color="#fd0000"/><stop offset=".133" stop-color="#ff7c00"/><stop offset=".19" stop-color="#fff900"/><stop offset=".276" stop-color="#87ff78"/><stop offset=".457" stop-color="#0afff5"/><stop offset=".551" stop-color="#008bff"/><stop offset=".668" stop-color="#000eff"/><stop offset=".758" stop-color="#00c"/><stop offset=".924" stop-color="#0000a4"/><stop offset="1" stop-color="#00008f"/></linearGradient>
<linearGradient id="b65" gradientUnits="userSpaceOnUse" x1="0" y1="54.1" x2="0" y2="210.8"><stop offset="0" stop-color="#800000"/><stop offset=".064" stop-color="#fd0000"/><stop offset=".133" stop-color="#ff7c00"/><stop offset=".19" stop-color="#fff900"/><stop offset=".276" stop-color="#87ff78"/><stop offset=".457" stop-color="#0afff5"/><stop offset=".551" stop-color="#008bff"/><stop offset=".668" stop-color="#000eff"/><stop offset=".755" stop-color="#00c"/><stop offset=".923" stop-color="#0000a4"/><stop offset="1" stop-color="#00008f"/></linearGradient>
<linearGradient id="b66" gradientUnits="userSpaceOnUse" x1="0" y1="55" x2="0" y2="211.7"><stop offset="0" stop-color="#800000"/><stop offset=".064" stop-color="#fd0000"/><stop offset=".133" stop-color="#ff7c00"/><stop offset=".19" stop-color="#fff900"/><stop offset=".276" stop-color="#87ff78"/><stop offset=".457" stop-color="#0afff5"/><stop offset=".551" stop-color="#008bff"/><stop offset=".667" stop-color="#000eff"/><stop offset=".753" stop-color="#00c"/><stop offset=".922" stop-color="#0000a4"/><stop offset="1" stop-color="#00008f"/></linearGradient>
<linearGradient id="b67" gradientUnits="userSpaceOnUse" x1="0" y1="55.8" x2="0" y2="212.6"><stop offset="0" stop-color="#800000"/><stop offset=".064" stop-color="#fd0000"/><stop offset=".133" stop-color="#ff7c00"/><stop offset=".19" stop-color="#fff900"/><stop offset=".275" stop-color="#87ff78"/><stop offset=".457" stop-color="#0afff5"/><stop offset=".551" stop-color="#008bff"/><stop offset=".667" stop-color="#000eff"/><stop offset=".754" stop-color="#00c"/><stop offset=".921" stop-color="#0000a4"/><stop offset="1" stop-color="#00008f"/></linearGradient>
<linearGradient id="b68" gradientUnits="userSpaceOnUse" x1="0" y1="56.6" x2="0" y2="213.4"><stop offset="0" stop-color="#800000"/><stop offset=".063" stop-color="#fd0000"/><stop offset=".134" stop-color="#ff7c00"/><stop offset=".191" stop-color="#fff900"/><stop offset=".275" stop-color="#87ff78"/><stop offset=".457" stop-color="#0afff5"/><stop offset=".551" stop-color="#008bff"/><stop offset=".667" stop-color="#000eff"/><stop offset=".754" stop-color="#00c"/><stop offset=".92" stop-color="#0000a4"/><stop offset="1" stop-color="#00008f"/></linearGradient>
<linearGradient id="b69" gradientUnits="userSpaceOnUse" x1="0" y1="57.4" x2="0" y2="214.3"><stop offset="0" stop-color="#800000"/><stop offset=".063" stop-color="#fd0000"/><stop offset=".134" stop-color="#ff7c00"/><stop offset=".191" stop-color="#fff900"/><stop offset=".275" stop-color="#87ff78"/><stop offset=".457" stop-color="#0afff5"/><stop offset=".551" stop-color="#008bff"/><stop offset=".667" stop-color="#000eff"/><stop offset=".755" stop-color="#00c"/><stop offset=".919" stop-color="#0000a4"/><stop offset="1" stop-color="#00008f"/></linearGradient>
<linearGradient id="b70" gradientUnits="userSpaceOnUse" x1="0" y1="58.3" x2="0" y2="215.2"><stop offset="0" stop-color="#800000"/><stop offset=".063" stop-color="#fd0000"/><stop offset=".134" stop-color="#ff7c00"/><stop offset=".191" stop-color="#fff900"/><stop offset=".275" stop-color="#87ff78"/><stop offset=".457" stop-color="#0afff5"/><stop offset=".551" stop-color="#008bff"/><stop offset=".667" stop-color="#000eff"/><stop offset=".755" stop-color="#00c"/><stop offset=".918" stop-color="#0000a4"/><stop offset="1" stop-color="#00008f"/></linearGradient>
<linearGradient id="b71" gradientUnits="userSpaceOnUse" x1="0" y1="59.1" x2="0" y2="216.2"><stop offset="0" stop-color="#800000"/><stop offset=".063" stop-color="#fd0000"/><stop offset=".134" stop-color="#ff7c00"/><stop offset=".191" stop-color="#fff900"/><stop offset=".275" stop-color="#87ff78"/><stop offset=".457" stop-color="#0afff5"/><stop offset=".55" stop-color="#008bff"/><stop offset=".667" stop-color="#000eff"/><stop offset=".756" stop-color="#00c"/><stop offset=".917" stop-color="#0000a4"/><stop offset="1" stop-color="#00008f"/></linearGradient>
<linearGradient id="b72" gradientUnits="userSpaceOnUse" x1="0" y1="59.9" x2="0" y2="217.1"><stop offset="0" stop-color="#800000"/><stop offset=".063" stop-color="#fd0000"/><stop offset=".134" stop-color="#ff7c00"/><stop offset=".191" stop-color="#fff900"/><stop offset=".275" stop-color="#87ff78"/><stop offset=".457" stop-color="#0afff5"/><stop offset=".55" stop-color="#008bff"/><stop offset=".667" stop-color="#000eff"/><stop offset=".756" stop-color="#00c"/><stop offset=".916" stop-color="#0000a4"/><stop offset="1" stop-color="#00008f"/></linearGradient>
<linearGradient id="b73" gradientUnits="userSpaceOnUse" x1="0" y1="60.7" x2="0" y2="217.9"><stop offset="0" stop-color="#800000"/><stop offset=".063" stop-color="#fd0000"/><stop offset=".134" stop-color="#ff7c00"/><stop offset=".191" stop-color="#fff900"/><stop offset=".275" stop-color="#87ff78"/><stop offset=".457" stop-color="#0afff5"/><stop offset=".55" stop-color="#008bff"/><stop offset=".666" stop-color="#000eff"/><stop offset=".757" stop-color="#00c"/><stop offset=".915" stop-color="#0000a4"/><stop offset="1" stop-color="#00008f"/></linearGradient>
<linearGradient id="b74" gradientUnits="userSpaceOnUse" x1="0" y1="61.6" x2="0" y2="218.8"><stop offset="0" stop-color="#800000"/><stop offset=".062" stop-color="#fd0000"/><stop offset=".134" stop-color="#ff7c00"/><stop offset=".191" stop-color="#fff900"/><stop offset=".274" stop-color="#87ff78"/><stop offset=".456" stop-color="#0afff5"/><stop offset=".55" stop-color="#008bff"/><stop offset=".669" stop-color="#000eff"/><stop offset=".757" stop-color="#00c"/><stop offset=".914" stop-color="#0000a4"/><stop offset="1" stop-color="#00008f"/></linearGradient>
<linearGradient id="b75" gradientUnits="userSpaceOnUse" x1="0" y1="62.4" x2="0" y2="219.8"><stop offset="0" stop-color="#800000"/><stop offset=".062" stop-color="#fd0000"/><stop offset=".134" stop-color="#ff7c00"/><stop offset=".192" stop-color="#fff900"/><stop offset=".274" stop-color="#87ff78"/><stop offset=".456" stop-color="#0afff5"/><stop offset=".55" stop-color="#008bff"/><stop offset=".672" stop-color="#000eff"/><stop offset=".758" stop-color="#00c"/><stop offset=".913" stop-color="#0000a4"/><stop offset="1" stop-color="#00008f"/></linearGradient>
<linearGradient id="b76" gradientUnits="userSpaceOnUse" x1="0" y1="63.2" x2="0" y2="220.7"><stop offset="0" stop-color="#800000"/><stop offset=".062" stop-color="#fd0000"/><stop offset=".134" stop-color="#ff7c00"/><stop offset=".192" stop-color="#fff900"/><stop offset=".274" stop-color="#87ff78"/><stop offset=".456" stop-color="#0afff5"/><stop offset=".55" stop-color="#008bff"/><stop offset=".675" stop-color="#000eff"/><stop offset=".758" stop-color="#00c"/><stop offset=".912" stop-color="#0000a4"/><stop offset="1" stop-color="#00008f"/></linearGradient>
<linearGradient id="b77" gradientUnits="userSpaceOnUse" x1="0" y1="64" x2="0" y2="221.6"><stop offset="0" stop-color="#800000"/><stop offset=".062" stop-color="#fd0000"/><stop offset=".134" stop-color="#ff7c00"/><stop offset=".192" stop-color="#fff900"/><stop offset=".274" stop-color="#87ff78"/><stop offset=".456" stop-color="#0afff5"/><stop offset=".55" stop-color="#008bff"/><stop offset=".678" stop-color="#000eff"/><stop offset=".759" stop-color="#00c"/><stop offset=".912" stop-color="#0000a4"/><stop offset="1" stop-color="#00008f"/></linearGradient>
<linearGradient id="b78" gradientUnits="userSpaceOnUse" x1="0" y1="64.9" x2="0" y2="222.3"><stop offset="0" stop-color="#800000"/><stop offset=".062" stop-color="#fd0000"/><stop offset=".134" stop-color="#ff7c00"/><stop offset=".192" stop-color="#fff900"/><stop offset=".274" stop-color="#87ff78"/><stop offset=".457" stop-color="#0afff5"/><stop offset=".55" stop-color="#008bff"/><stop offset=".682" stop-color="#000eff"/><stop offset=".759" stop-color="#00c"/><stop offset=".911" stop-color="#0000a4"/><stop offset="1" stop-color="#00008f"/></linearGradient>
<linearGradient id="b79" gradientUnits="userSpaceOnUse" x1="0" y1="65.7" x2="0" y2="223"><stop offset="0" stop-color="#800000"/><stop offset=".062" stop-color="#fd0000"/><stop offset=".134" stop-color="#ff7c00"/><stop offset=".193" stop-color="#fff900"/><stop offset=".274" stop-color="#87ff78"/><stop offset=".457" stop-color="#0afff5"/><stop offset=".551" stop-color="#008bff"/><stop offset=".686" stop-color="#000eff"/><stop offset=".761" stop-color="#00c"/><stop offset=".91" stop-color="#0000a4"/><stop offset="1" stop-color="#00008f"/></linearGradient>
<linearGradient id="b80" gradientUnits="userSpaceOnUse" x1="0" y1="66.5" x2="0" y2="223.7"><stop offset="0" stop-color="#800000"/><stop offset=".062" stop-color="#fd0000"/><stop offset=".135" stop-color="#ff7c00"/><stop offset=".193" stop-color="#fff900"/><stop offset=".275" stop-color="#87ff78"/><stop offset=".458" stop-color="#0afff5"/><stop offset=".551" stop-color="#008bff"/><stop offset=".689" stop-color="#000eff"/><stop offset=".762" stop-color="#00c"/><stop offset=".909" stop-color="#0000a4"/><stop offset="1" stop-color="#00008f"/></linearGradient>
<linearGradient id="b81" gradientUnits="userSpaceOnUse" x1="0" y1="67.4" x2="0" y2="224.3"><stop offset="0" stop-color="#800000"/><stop offset=".062" stop-color="#fd0000"/><stop offset=".135" stop-color="#ff7c00"/><stop offset=".194" stop-color="#fff900"/><stop offset=".275" stop-color="#87ff78"/><stop offset=".458" stop-color="#0afff5"/><stop offset=".552" stop-color="#008bff"/><stop offset=".69" stop-color="#000eff"/><stop offset=".763" stop-color="#00c"/><stop offset=".908" stop-color="#0000a4"/><stop offset="1" stop-color="#00008f"/></linearGradient>
<linearGradient id="b82" gradientUnits="userSpaceOnUse" x1="0" y1="68.2" x2="0" y2="225"><stop offset="0" stop-color="#800000"/><stop offset=".061" stop-color="#fd0000"/><stop offset=".135" stop-color="#ff7c00"/><stop offset=".194" stop-color="#fff900"/><stop offset=".275" stop-color="#87ff78"/><stop offset=".459" stop-color="#0afff5"/><stop offset=".552" stop-color="#008bff"/><stop offset=".69" stop-color="#000eff"/><stop offset=".764" stop-color="#00c"/><stop offset=".907" stop-color="#0000a4"/><stop offset="1" stop-color="#00008f"/></linearGradient>
<linearGradient id="b83" gradientUnits="userSpaceOnUse" x1="0" y1="69" x2="0" y2="225.7"><stop offset="0" stop-color="#800000"/><stop offset=".061" stop-color="#fd0000"/><stop offset=".135" stop-color="#ff7c00"/><stop offset=".194" stop-color="#fff900"/><stop offset=".275" stop-color="#87ff78"/><stop offset=".46" stop-color="#0afff5"/><stop offset=".552" stop-color="#008bff"/><stop offset=".691" stop-color="#000eff"/><stop offset=".766" stop-color="#00c"/><stop offset=".906" stop-color="#0000a4"/><stop offset="1" stop-color="#00008f"/></linearGradient>
<linearGradient id="b84" gradientUnits="userSpaceOnUse" x1="0" y1="69.8" x2="0" y2="226.3"><stop offset="0" stop-color="#800000"/><stop offset=".061" stop-color="#fd0000"/><stop offset=".136" stop-color="#ff7c00"/><stop offset=".195" stop-color="#fff900"/><stop offset=".276" stop-color="#87ff78"/><stop offset=".46" stop-color="#0afff5"/><stop offset=".553" stop-color="#008bff"/><stop offset=".692" stop-color="#000eff"/><stop offset=".767" stop-color="#00c"/><stop offset=".905" stop-color="#0000a4"/><stop offset="1" stop-color="#00008f"/></linearGradient>
<linearGradient id="b85" gradientUnits="userSpaceOnUse" x1="0" y1="70.7" x2="0" y2="227"><stop offset="0" stop-color="#800000"/><stop offset=".061" stop-color="#fd0000"/><stop offset=".136" stop-color="#ff7c00"/><stop offset=".195" stop-color="#fff900"/><stop offset=".276" stop-color="#87ff78"/><stop offset=".461" stop-color="#0afff5"/><stop offset=".553" stop-color="#008bff"/><stop offset=".692" stop-color="#000eff"/><stop offset=".768" stop-color="#00c"/><stop offset=".904" stop-color="#0000a4"/><stop offset="1" stop-color="#00008f"/></linearGradient>
<linearGradient id="b86" gradientUnits="userSpaceOnUse" x1="0" y1="71.5" x2="0" y2="227.7"><stop offset="0" stop-color="#800000"/><stop offset=".061" stop-color="#fd0000"/><stop offset=".136" stop-color="#ff7c00"/><stop offset=".196" stop-color="#fff900"/><stop offset=".276" stop-color="#87ff78"/><stop offset=".462" stop-color="#0afff5"/><stop offset=".553" stop-color="#008bff"/><stop offset=".693" stop-color="#000eff"/><stop offset=".769" stop-color="#00c"/><stop offset=".903" stop-color="#0000a4"/><stop offset="1" stop-color="#00008f"/></linearGradient>
<linearGradient id="b87" gradientUnits="userSpaceOnUse" x1="0" y1="72.3" x2="0" y2="228.3"><stop offset="0" stop-color="#800000"/><stop offset=".061" stop-color="#fd0000"/><stop offset=".136" stop-color="#ff7c00"/><stop offset=".196" stop-color="#fff900"/><stop offset=".277" stop-color="#87ff78"/><stop offset=".462" stop-color="#0afff5"/><stop offset=".554" stop-color="#008bff"/><stop offset=".693" stop-color="#000eff"/><stop offset=".771" stop-color="#00c"/><stop offset=".902" stop-color="#0000a4"/><stop offset="1" stop-color="#00008f"/></linearGradient>
<linearGradient id="b88" gradientUnits="userSpaceOnUse" x1="0" y1="73.1" x2="0" y2="229"><stop offset="0" stop-color="#800000"/><stop offset=".061" stop-color="#fd0000"/><stop offset=".136" stop-color="#ff7c00"/><stop offset=".197" stop-color="#fff900"/><stop offset=".277" stop-color="#87ff78"/><stop offset=".464" stop-color="#0afff5"/><stop offset=".554" stop-color="#008bff"/><stop offset=".694" stop-color="#000eff"/><stop offset=".772" stop-color="#00c"/><stop offset=".901" stop-color="#0000a4"/><stop offset="1" stop-color="#00008f"/></linearGradient>
<linearGradient id="b89" gradientUnits="userSpaceOnUse" x1="0" y1="74" x2="0" y2="229.7"><stop offset="0" stop-color="#800000"/><stop offset=".061" stop-color="#fd0000"/><stop offset=".137" stop-color="#ff7c00"/><stop offset=".197" stop-color="#fff900"/><stop offset=".277" stop-color="#87ff78"/><stop offset=".466" stop-color="#0afff5"/><stop offset=".554" stop-color="#008bff"/><stop offset=".694" stop-color="#000eff"/><stop offset=".773" stop-color="#00c"/><stop offset=".9" stop-color="#0000a4"/><stop offset="1" stop-color="#00008f"/></linearGradient>
<linearGradient id="b90" gradientUnits="userSpaceOnUse" x1="0" y1="74.8" x2="0" y2="230.3"><stop offset="0" stop-color="#800000"/><stop offset=".061" stop-color="#fd0000"/><stop offset=".137" stop-color="#ff7c00"/><stop offset=".198" stop-color="#fff900"/><stop offset=".277" stop-color="#87ff78"/><stop offset=".467" stop-color="#0afff5"/><stop offset=".554" stop-color="#008bff"/><stop offset=".695" stop-color="#000eff"/><stop offset=".774" stop-color="#00c"/><stop offset=".899" stop-color="#0000a4"/><stop offset="1" stop-color="#00008f"/></linearGradient>
<linearGradient id="b91" gradientUnits="userSpaceOnUse" x1="0" y1="75.6" x2="0" y2="231"><stop offset="0" stop-color="#800000"/><stop offset=".061" stop-color="#fd0000"/><stop offset=".137" stop-color="#ff7c00"/><stop offset=".198" stop-color="#fff900"/><stop offset=".278" stop-color="#87ff78"/><stop offset=".469" stop-color="#0afff5"/><stop offset=".555" stop-color="#008bff"/><stop offset=".695" stop-color="#000eff"/><stop offset=".776" stop-color="#00c"/><stop offset=".898" stop-color="#0000a4"/><stop offset="1" stop-color="#00008f"/></linearGradient>
<linearGradient id="b92" gradientUnits="userSpaceOnUse" x1="0" y1="76.4" x2="0" y2="231.7"><stop offset="0" stop-color="#800000"/><stop offset=".061" stop-color="#fd0000"/><stop offset=".137" stop-color="#ff7c00"/><stop offset=".198" stop-color="#fff900"/><stop offset=".278" stop-color="#87ff78"/><stop offset=".471" stop-color="#0afff5"/><stop offset=".555" stop-color="#008bff"/><stop offset=".696" stop-color="#000eff"/><stop offset=".777" stop-color="#00c"/><stop offset=".897" stop-color="#0000a4"/><stop offset="1" stop-color="#00008f"/></linearGradient>
<linearGradient id="b93" gradientUnits="userSpaceOnUse" x1="0" y1="77.3" x2="0" y2="232.3"><stop offset="0" stop-color="#800000"/><stop offset=".061" stop-color="#fd0000"/><stop offset=".138" stop-color="#ff7c00"/><stop offset=".199" stop-color="#fff900"/><stop offset=".279" stop-color="#87ff78"/><stop offset=".473" stop-color="#0afff5"/><stop offset=".555" stop-color="#008bff"/><stop offset=".697" stop-color="#000eff"/><stop offset=".779" stop-color="#00c"/><stop offset=".897" stop-color="#0000a4"/><stop offset="1" stop-color="#00008f"/></linearGradient>
<linearGradient id="b94" gradientUnits="userSpaceOnUse" x1="0" y1="78.1" x2="0" y2="232.8"><stop offset="0" stop-color="#800000"/><stop offset=".061" stop-color="#fd0000"/><stop offset=".138" stop-color="#ff7c00"/><stop offset=".2" stop-color="#fff900"/><stop offset=".28" stop-color="#87ff78"/><stop offset=".475" stop-color="#0afff5"/><stop offset=".556" stop-color="#008bff"/><stop offset=".698" stop-color="#000eff"/><stop offset=".781" stop-color="#00c"/><stop offset=".897" stop-color="#0000a4"/><stop offset="1" stop-color="#00008f"/></linearGradient>
<linearGradient id="b95" gradientUnits="userSpaceOnUse" x1="0" y1="78.9" x2="0" y2="233.3"><stop offset="0" stop-color="#800000"/><stop offset=".061" stop-color="#fd0000"/><stop offset=".139" stop-color="#ff7c00"/><stop offset=".2" stop-color="#fff900"/><stop offset=".281" stop-color="#87ff78"/><stop offset=".478" stop-color="#0afff5"/><stop offset=".557" stop-color="#008bff"/><stop offset=".699" stop-color="#000eff"/><stop offset=".783" stop-color="#00c"/><stop offset=".896" stop-color="#0000a4"/><stop offset="1" stop-color="#00008f"/></linearGradient>
<linearGradient id="b96" gradientUnits="userSpaceOnUse" x1="0" y1="79.8" x2="0" y2="233.9"><stop offset="0" stop-color="#800000"/><stop offset=".061" stop-color="#fd0000"/><stop offset=".139" stop-color="#ff7c00"/><stop offset=".201" stop-color="#fff900"/><stop offset=".283" stop-color="#87ff78"/><stop offset=".48" stop-color="#0afff5"/><stop offset=".558" stop-color="#008bff"/><stop offset=".7" stop-color="#000eff"/><stop offset=".784" stop-color="#00c"/><stop offset=".896" stop-color="#0000a4"/><stop offset="1" stop-color="#00008f"/></linearGradient>
<linearGradient id="b97" gradientUnits="userSpaceOnUse" x1="0" y1="80.6" x2="0" y2="234.4"><stop offset="0" stop-color="#800000"/><stop offset=".061" stop-color="#fd0000"/><stop offset=".139" stop-color="#ff7c00"/><stop offset=".201" stop-color="#fff900"/><stop offset=".284" stop-color="#87ff78"/><stop offset=".48" stop-color="#0afff5"/><stop offset=".558" stop-color="#008bff"/><stop offset=".701" stop-color="#000eff"/><stop offset=".786" stop-color="#00c"/><stop offset=".896" stop-color="#0000a4"/><stop offset="1" stop-color="#00008f"/></linearGradient>
<linearGradient id="b98" gradientUnits="userSpaceOnUse" x1="0" y1="81.4" x2="0" y2="234.9"><stop offset="0" stop-color="#800000"/><stop offset=".061" stop-color="#fd0000"/><stop offset=".14" stop-color="#ff7c00"/><stop offset=".203" stop-color="#fff900"/><stop offset=".286" stop-color="#87ff78"/><stop offset=".48" stop-color="#0afff5"/><stop offset=".559" stop-color="#008bff"/><stop offset=".702" stop-color="#000eff"/><stop offset=".787" stop-color="#00c"/><stop offset=".896" stop-color="#0000a4"/><stop offset="1" stop-color="#00008f"/></linearGradient>
<linearGradient id="b99" gradientUnits="userSpaceOnUse" x1="0" y1="82.2" x2="0" y2="235.5"><stop offset="0" stop-color="#800000"/><stop offset=".061" stop-color="#fd0000"/><stop offset=".14" stop-color="#ff7c00"/><stop offset=".204" stop-color="#fff900"/><stop offset=".287" stop-color="#87ff78"/><stop offset=".48" stop-color="#0afff5"/><stop offset=".559" stop-color="#008bff"/><stop offset=".703" stop-color="#000eff"/><stop offset=".787" stop-color="#00c"/><stop offset=".896" stop-color="#0000a4"/><stop offset="1" stop-color="#00008f"/></linearGradient>
<linearGradient id="b100" gradientUnits="userSpaceOnUse" x1="0" y1="83.1" x2="0" y2="236"><stop offset="0" stop-color="#800000"/><stop offset=".06" stop-color="#fd0000"/><stop offset=".14" stop-color="#ff7c00"/><stop offset=".206" stop-color="#fff900"/><stop offset=".282" stop-color="#87ff78"/><stop offset=".48" stop-color="#0afff5"/><stop offset=".56" stop-color="#008bff"/><stop offset=".703" stop-color="#000eff"/><stop offset=".788" stop-color="#00c"/><stop offset=".895" stop-color="#0000a4"/><stop offset="1" stop-color="#00008f"/></linearGradient>
<linearGradient id="b101" gradientUnits="userSpaceOnUse" x1="0" y1="83.9" x2="0" y2="236.5"><stop offset="0" stop-color="#800000"/><stop offset=".06" stop-color="#fd0000"/><stop offset=".141" stop-color="#ff7c00"/><stop offset=".207" stop-color="#fff900"/><stop offset=".277" stop-color="#87ff78"/><stop offset=".48" stop-color="#0afff5"/><stop offset=".56" stop-color="#008bff"/><stop offset=".703" stop-color="#000eff"/><stop offset=".788" stop-color="#00c"/><stop offset=".895" stop-color="#0000a4"/><stop offset="1" stop-color="#00008f"/></linearGradient>
<linearGradient id="b102" gradientUnits="userSpaceOnUse" x1="0" y1="84.7" x2="0" y2="237.1"><stop offset="0" stop-color="#800000"/><stop offset=".06" stop-color="#fd0000"/><stop offset=".141" stop-color="#ff7c00"/><stop offset=".209" stop-color="#fff900"/><stop offset=".271" stop-color="#87ff78"/><stop offset=".48" stop-color="#0afff5"/><stop offset=".56" stop-color="#008bff"/><stop offset=".703" stop-color="#000eff"/><stop offset=".788" stop-color="#00c"/><stop offset=".895" stop-color="#0000a4"/><stop offset="1" stop-color="#00008f"/></linearGradient>
<linearGradient id="b103" gradientUnits="userSpaceOnUse" x1="0" y1="85.5" x2="0" y2="237.6"><stop offset="0" stop-color="#800000"/><stop offset=".06" stop-color="#fd0000"/><stop offset=".142" stop-color="#ff7c00"/><stop offset=".21" stop-color="#fff900"/><stop offset=".266" stop-color="#87ff78"/><stop offset=".48" stop-color="#0afff5"/><stop offset=".56" stop-color="#008bff"/><stop offset=".704" stop-color="#000eff"/><stop offset=".788" stop-color="#00c"/><stop offset=".895" stop-color="#0000a4"/><stop offset="1" stop-color="#00008f"/></linearGradient>
<linearGradient id="b104" gradientUnits="userSpaceOnUse" x1="0" y1="86.4" x2="0" y2="238.1"><stop offset="0" stop-color="#800000"/><stop offset=".06" stop-color="#fd0000"/><stop offset=".142" stop-color="#ff7c00"/><stop offset=".212" stop-color="#fff900"/><stop offset=".261" stop-color="#87ff78"/><stop offset=".479" stop-color="#0afff5"/><stop offset=".561" stop-color="#008bff"/><stop offset=".704" stop-color="#000eff"/><stop offset=".788" stop-color="#00c"/><stop offset=".895" stop-color="#0000a4"/><stop offset="1" stop-color="#00008f"/></linearGradient>
<linearGradient id="b105" gradientUnits="userSpaceOnUse" x1="0" y1="87.2" x2="0" y2="238.7"><stop offset="0" stop-color="#800000"/><stop offset=".06" stop-color="#fd0000"/><stop offset=".142" stop-color="#ff7c00"/><stop offset=".213" stop-color="#fff900"/><stop offset=".255" stop-color="#87ff78"/><stop offset=".479" stop-color="#0afff5"/><stop offset=".561" stop-color="#008bff"/><stop offset=".704" stop-color="#000eff"/><stop offset=".788" stop-color="#00c"/><stop offset=".894" stop-color="#0000a4"/><stop offset="1" stop-color="#00008f"/></linearGradient>
<linearGradient id="b106" gradientUnits="userSpaceOnUse" x1="0" y1="88" x2="0" y2="239.2"><stop offset="0" stop-color="#800000"/><stop offset=".06" stop-color="#fd0000"/><stop offset=".143" stop-color="#ff7c00"/><stop offset=".215" stop-color="#fff900"/><stop offset=".25" stop-color="#87ff78"/><stop offset=".479" stop-color="#0afff5"/><stop offset=".561" stop-color="#008bff"/><stop offset=".704" stop-color="#000eff"/><stop offset=".788" stop-color="#00c"/><stop offset=".894" stop-color="#0000a4"/><stop offset="1" stop-color="#00008f"/></linearGradient>
<linearGradient id="b107" gradientUnits="userSpaceOnUse" x1="0" y1="88.8" x2="0" y2="239.7"><stop offset="0" stop-color="#800000"/><stop offset=".06" stop-color="#fd0000"/><stop offset=".143" stop-color="#ff7c00"/><stop offset=".216" stop-color="#fff900"/><stop offset=".244" stop-color="#87ff78"/><stop offset=".479" stop-color="#0afff5"/><stop offset=".561" stop-color="#008bff"/><stop offset=".705" stop-color="#000eff"/><stop offset=".788" stop-color="#00c"/><stop offset=".894" stop-color="#0000a4"/><stop offset="1" stop-color="#00008f"/></linearGradient>
<linearGradient id="b108" gradientUnits="userSpaceOnUse" x1="0" y1="89.7" x2="0" y2="240.2"><stop offset="0" stop-color="#800000"/><stop offset=".06" stop-color="#fd0000"/><stop offset=".144" stop-color="#ff7c00"/><stop offset=".234" stop-color="#fff900"/><stop offset=".246" stop-color="#87ff78"/><stop offset=".478" stop-color="#0afff5"/><stop offset=".562" stop-color="#008bff"/><stop offset=".705" stop-color="#000eff"/><stop offset=".789" stop-color="#00c"/><stop offset=".894" stop-color="#0000a4"/><stop offset="1" stop-color="#00008f"/></linearGradient>
<linearGradient id="b109" gradientUnits="userSpaceOnUse" x1="0" y1="90.5" x2="0" y2="240.7"><stop offset="0" stop-color="#800000"/><stop offset=".06" stop-color="#fd0000"/><stop offset=".144" stop-color="#ff7c00"/><stop offset=".247" stop-color="#fff900"/><stop offset=".278" stop-color="#87ff78"/><stop offset=".477" stop-color="#0afff5"/><stop offset=".562" stop-color="#008bff"/><stop offset=".706" stop-color="#000eff"/><stop offset=".79" stop-color="#00c"/><stop offset=".895" stop-color="#0000a4"/><stop offset="1" stop-color="#00008f"/></linearGradient>
<linearGradient id="b110" gradientUnits="userSpaceOnUse" x1="0" y1="91.3" x2="0" y2="241.2"><stop offset="0" stop-color="#800000"/><stop offset=".06" stop-color="#fd0000"/><stop offset=".144" stop-color="#ff7c00"/><stop offset=".248" stop-color="#fff900"/><stop offset=".303" stop-color="#87ff78"/><stop offset=".475" stop-color="#0afff5"/><stop offset=".563" stop-color="#008bff"/><stop offset=".706" stop-color="#000eff"/><stop offset=".792" stop-color="#00c"/><stop offset=".895" stop-color="#0000a4"/><stop offset="1" stop-color="#00008f"/></linearGradient>
<linearGradient id="b111" gradientUnits="userSpaceOnUse" x1="0" y1="92.1" x2="0" y2="241.6"><stop offset="0" stop-color="#800000"/><stop offset=".06" stop-color="#fd0000"/><stop offset=".145" stop-color="#ff7c00"/><stop offset=".249" stop-color="#fff900"/><stop offset=".324" stop-color="#87ff78"/><stop offset=".473" stop-color="#0afff5"/><stop offset=".563" stop-color="#008bff"/><stop offset=".707" stop-color="#000eff"/><stop offset=".794" stop-color="#00c"/><stop offset=".896" stop-color="#0000a4"/><stop offset="1" stop-color="#00008f"/></linearGradient>
<linearGradient id="b112" gradientUnits="userSpaceOnUse" x1="0" y1="93" x2="0" y2="242.1"><stop offset="0" stop-color="#800000"/><stop offset=".06" stop-color="#fd0000"/><stop offset=".145" stop-color="#ff7c00"/><stop offset=".25" stop-color="#fff900"/><stop offset=".346" stop-color="#87ff78"/><stop offset=".472" stop-color="#0afff5"/><stop offset=".564" stop-color="#008bff"/><stop offset=".708" stop-color="#000eff"/><stop offset=".795" stop-color="#00c"/><stop offset=".897" stop-color="#0000a4"/><stop offset="1" stop-color="#00008f"/></linearGradient>
<linearGradient id="b113" gradientUnits="userSpaceOnUse" x1="0" y1="93.8" x2="0" y2="242.6"><stop offset="0" stop-color="#800000"/><stop offset=".06" stop-color="#fd0000"/><stop offset=".146" stop-color="#ff7c00"/><stop offset=".252" stop-color="#fff900"/><stop offset=".356" stop-color="#87ff78"/><stop offset=".47" stop-color="#0afff5"/><stop offset=".564" stop-color="#008bff"/><stop offset=".708" stop-color="#000eff"/><stop offset=".797" stop-color="#00c"/><stop offset=".897" stop-color="#0000a4"/><stop offset="1" stop-color="#00008f"/></linearGradient>
<linearGradient id="b114" gradientUnits="userSpaceOnUse" x1="0" y1="94.6" x2="0" y2="243"><stop offset="0" stop-color="#800000"/><stop offset=".06" stop-color="#fd0000"/><stop offset=".146" stop-color="#ff7c00"/><stop offset=".253" stop-color="#fff900"/><stop offset=".356" stop-color="#87ff78"/><stop offset=".469" stop-color="#0afff5"/><stop offset=".565" stop-color="#008bff"/><stop offset=".709" stop-color="#000eff"/><stop offset=".799" stop-color="#00c"/><stop offset=".898" stop-color="#0000a4"/><stop offset="1" stop-color="#00008f"/></linearGradient>
<linearGradient id="b115" gradientUnits="userSpaceOnUse" x1="0" y1="95.5" x2="0" y2="243.5"><stop offset="0" stop-color="#800000"/><stop offset=".06" stop-color="#fd0000"/><stop offset=".147" stop-color="#ff7c00"/><stop offset=".254" stop-color="#fff900"/><stop offset=".356" stop-color="#87ff78"/><stop offset=".467" stop-color="#0afff5"/><stop offset=".565" stop-color="#008bff"/><stop offset=".71" stop-color="#000eff"/><stop offset=".801" stop-color="#00c"/><stop offset=".899" stop-color="#0000a4"/><stop offset="1" stop-color="#00008f"/></linearGradient>
<linearGradient id="b116" gradientUnits="userSpaceOnUse" x1="0" y1="96.3" x2="0" y2="244"><stop offset="0" stop-color="#800000"/><stop offset=".06" stop-color="#fd0000"/><stop offset=".15" stop-color="#ff7c00"/><stop offset=".255" stop-color="#fff900"/><stop offset=".355" stop-color="#87ff78"/><stop offset=".465" stop-color="#0afff5"/><stop offset=".566" stop-color="#008bff"/><stop offset=".71" stop-color="#000eff"/><stop offset=".803" stop-color="#00c"/><stop offset=".899" stop-color="#0000a4"/><stop offset="1" stop-color="#00008f"/></linearGradient>
<linearGradient id="b117" gradientUnits="userSpaceOnUse" x1="0" y1="97.1" x2="0" y2="244.4"><stop offset="0" stop-color="#800000"/><stop offset=".06" stop-color="#fd0000"/><stop offset=".156" stop-color="#ff7c00"/><stop offset=".255" stop-color="#fff900"/><stop offset=".355" stop-color="#87ff78"/><stop offset=".464" stop-color="#0afff5"/><stop offset=".565" stop-color="#008bff"/><stop offset=".711" stop-color="#000eff"/><stop offset=".804" stop-color="#00c"/><stop offset=".9" stop-color="#0000a4"/><stop offset="1" stop-color="#00008f"/></linearGradient>
<linearGradient id="b118" gradientUnits="userSpaceOnUse" x1="0" y1="97.9" x2="0" y2="244.9"><stop offset="0" stop-color="#800000"/><stop offset=".06" stop-color="#fd0000"/><stop offset=".162" stop-color="#ff7c00"/><stop offset=".255" stop-color="#fff900"/><stop offset=".355" stop-color="#87ff78"/><stop offset=".462" stop-color="#0afff5"/><stop offset=".564" stop-color="#008bff"/><stop offset=".711" stop-color="#000eff"/><stop offset=".805" stop-color="#00c"/><stop offset=".901" stop-color="#0000a4"/><stop offset="1" stop-color="#00008f"/></linearGradient>
<linearGradient id="b119" gradientUnits="userSpaceOnUse" x1="0" y1="98.8" x2="0" y2="245.4"><stop offset="0" stop-color="#800000"/><stop offset=".06" stop-color="#fd0000"/><stop offset=".168" stop-color="#ff7c00"/><stop offset=".254" stop-color="#fff900"/><stop offset=".354" stop-color="#87ff78"/><stop offset=".46" stop-color="#0afff5"/><stop offset=".563" stop-color="#008bff"/><stop offset=".709" stop-color="#000eff"/><stop offset=".805" stop-color="#00c"/><stop offset=".901" stop-color="#0000a4"/><stop offset="1" stop-color="#00008f"/></linearGradient>
<linearGradient id="b120" gradientUnits="userSpaceOnUse" x1="0" y1="99.6" x2="0" y2="245.8"><stop offset="0" stop-color="#800000"/><stop offset=".06" stop-color="#fd0000"/><stop offset=".174" stop-color="#ff7c00"/><stop offset=".254" stop-color="#fff900"/><stop offset=".354" stop-color="#87ff78"/><stop offset=".458" stop-color="#0afff5"/><stop offset=".561" stop-color="#008bff"/><stop offset=".707" stop-color="#000eff"/><stop offset=".805" stop-color="#00c"/><stop offset=".902" stop-color="#0000a4"/><stop offset="1" stop-color="#00008f"/></linearGradient>
<linearGradient id="b121" gradientUnits="userSpaceOnUse" x1="0" y1="100.1" x2="0" y2="246.3"><stop offset="0" stop-color="#800000"/><stop offset=".062" stop-color="#fd0000"/><stop offset=".182" stop-color="#ff7c00"/><stop offset=".255" stop-color="#fff900"/><stop offset=".355" stop-color="#87ff78"/><stop offset=".457" stop-color="#0afff5"/><stop offset=".561" stop-color="#008bff"/><stop offset=".705" stop-color="#000eff"/><stop offset=".805" stop-color="#00c"/><stop offset=".903" stop-color="#0000a4"/><stop offset="1" stop-color="#00008f"/></linearGradient>
<linearGradient id="b122" gradientUnits="userSpaceOnUse" x1="0" y1="100.4" x2="0" y2="246.8"><stop offset="0" stop-color="#800000"/><stop offset=".067" stop-color="#fd0000"/><stop offset=".188" stop-color="#ff7c00"/><stop offset=".257" stop-color="#fff900"/><stop offset=".357" stop-color="#87ff78"/><stop offset=".457" stop-color="#0afff5"/><stop offset=".561" stop-color="#008bff"/><stop offset=".703" stop-color="#000eff"/><stop offset=".805" stop-color="#00c"/><stop offset=".904" stop-color="#0000a4"/><stop offset="1" stop-color="#00008f"/></linearGradient>
<linearGradient id="b123" gradientUnits="userSpaceOnUse" x1="0" y1="100.6" x2="0" y2="247.2"><stop offset="0" stop-color="#800000"/><stop offset=".072" stop-color="#fd0000"/><stop offset=".192" stop-color="#ff7c00"/><stop offset=".26" stop-color="#fff900"/><stop offset=".357" stop-color="#87ff78"/><stop offset=".457" stop-color="#0afff5"/><stop offset=".561" stop-color="#008bff"/><stop offset=".702" stop-color="#000eff"/><stop offset=".806" stop-color="#00c"/><stop offset=".905" stop-color="#0000a4"/><stop offset="1" stop-color="#00008f"/></linearGradient>
<linearGradient id="b124" gradientUnits="userSpaceOnUse" x1="0" y1="100.9" x2="0" y2="247.5"><stop offset="0" stop-color="#800000"/><stop offset=".078" stop-color="#fd0000"/><stop offset=".197" stop-color="#ff7c00"/><stop offset=".263" stop-color="#fff900"/><stop offset=".358" stop-color="#87ff78"/><stop offset=".457" stop-color="#0afff5"/><stop offset=".562" stop-color="#008bff"/><stop offset=".702" stop-color="#000eff"/><stop offset=".807" stop-color="#00c"/><stop offset=".906" stop-color="#0000a4"/><stop offset="1" stop-color="#00008f"/></linearGradient>
<linearGradient id="b125" gradientUnits="userSpaceOnUse" x1="0" y1="101.1" x2="0" y2="247.8"><stop offset="0" stop-color="#800000"/><stop offset=".084" stop-color="#fd0000"/><stop offset=".201" stop-color="#ff7c00"/><stop offset=".265" stop-color="#fff900"/><stop offset=".358" stop-color="#87ff78"/><stop offset=".457" stop-color="#0afff5"/><stop offset=".563" stop-color="#008bff"/><stop offset=".701" stop-color="#000eff"/><stop offset=".809" stop-color="#00c"/><stop offset=".907" stop-color="#0000a4"/><stop offset="1" stop-color="#00008f"/></linearGradient>
<linearGradient id="b126" gradientUnits="userSpaceOnUse" x1="0" y1="101.4" x2="0" y2="248.2"><stop offset="0" stop-color="#800000"/><stop offset=".089" stop-color="#fd0000"/><stop offset=".205" stop-color="#ff7c00"/><stop offset=".266" stop-color="#fff900"/><stop offset=".358" stop-color="#87ff78"/><stop offset=".458" stop-color="#0afff5"/><stop offset=".564" stop-color="#008bff"/><stop offset=".7" stop-color="#000eff"/><stop offset=".81" stop-color="#00c"/><stop offset=".908" stop-color="#0000a4"/><stop offset="1" stop-color="#00008f"/></linearGradient>
<linearGradient id="b127" gradientUnits="userSpaceOnUse" x1="0" y1="101.6" x2="0" y2="248.5"><stop offset="0" stop-color="#800000"/><stop offset=".093" stop-color="#fd0000"/><stop offset=".209" stop-color="#ff7c00"/><stop offset=".267" stop-color="#fff900"/><stop offset=".359" stop-color="#87ff78"/><stop offset=".458" stop-color="#0afff5"/><stop offset=".565" stop-color="#008bff"/><stop offset=".7" stop-color="#000eff"/><stop offset=".811" stop-color="#00c"/><stop offset=".909" stop-color="#0000a4"/><stop offset="1" stop-color="#00008f"/></linearGradient>
<linearGradient id="b128" gradientUnits="userSpaceOnUse" x1="0" y1="101.7" x2="0" y2="248.8"><stop offset="0" stop-color="#800000"/><stop offset=".096" stop-color="#fd0000"/><stop offset=".214" stop-color="#ff7c00"/><stop offset=".269" stop-color="#fff900"/><stop offset=".36" stop-color="#87ff78"/><stop offset=".459" stop-color="#0afff5"/><stop offset=".566" stop-color="#008bff"/><stop offset=".699" stop-color="#000eff"/><stop offset=".813" stop-color="#00c"/><stop offset=".91" stop-color="#0000a4"/><stop offset="1" stop-color="#00008f"/></linearGradient>
<linearGradient id="b129" gradientUnits="userSpaceOnUse" x1="0" y1="101.8" x2="0" y2="249.2"><stop offset="0" stop-color="#800000"/><stop offset=".099" stop-color="#fd0000"/><stop offset=".219" stop-color="#ff7c00"/><stop offset=".27" stop-color="#fff900"/><stop offset=".36" stop-color="#87ff78"/><stop offset=".46" stop-color="#0afff5"/><stop offset=".567" stop-color="#008bff"/><stop offset=".699" stop-color="#000eff"/><stop offset=".814" stop-color="#00c"/><stop offset=".911" stop-color="#0000a4"/><stop offset="1" stop-color="#00008f"/></linearGradient>
<linearGradient id="b130" gradientUnits="userSpaceOnUse" x1="0" y1="102" x2="0" y2="249.5"><stop offset="0" stop-color="#800000"/><stop offset=".102" stop-color="#fd0000"/><stop offset=".222" stop-color="#ff7c00"/><stop offset=".271" stop-color="#fff900"/><stop offset=".361" stop-color="#87ff78"/><stop offset=".461" stop-color="#0afff5"/><stop offset=".568" stop-color="#008bff"/><stop offset=".698" stop-color="#000eff"/><stop offset=".815" stop-color="#00c"/><stop offset=".912" stop-color="#0000a4"/><stop offset="1" stop-color="#00008f"/></linearGradient>
<linearGradient id="b131" gradientUnits="userSpaceOnUse" x1="0" y1="102.1" x2="0" y2="249.8"><stop offset="0" stop-color="#800000"/><stop offset=".105" stop-color="#fd0000"/><stop offset=".224" stop-color="#ff7c00"/><stop offset=".273" stop-color="#fff900"/><stop offset=".362" stop-color="#87ff78"/><stop offset=".462" stop-color="#0afff5"/><stop offset=".568" stop-color="#008bff"/><stop offset=".698" stop-color="#000eff"/><stop offset=".817" stop-color="#00c"/><stop offset=".913" stop-color="#0000a4"/><stop offset="1" stop-color="#00008f"/></linearGradient>
<linearGradient id="b132" gradientUnits="userSpaceOnUse" x1="0" y1="102.2" x2="0" y2="250.2"><stop offset="0" stop-color="#800000"/><stop offset=".108" stop-color="#fd0000"/><stop offset=".226" stop-color="#ff7c00"/><stop offset=".274" stop-color="#fff900"/><stop offset=".363" stop-color="#87ff78"/><stop offset=".462" stop-color="#0afff5"/><stop offset=".567" stop-color="#008bff"/><stop offset=".697" stop-color="#000eff"/><stop offset=".818" stop-color="#00c"/><stop offset=".914" stop-color="#0000a4"/><stop offset="1" stop-color="#00008f"/></linearGradient>
<linearGradient id="b133" gradientUnits="userSpaceOnUse" x1="0" y1="102.2" x2="0" y2="250.5"><stop offset="0" stop-color="#800000"/><stop offset=".111" stop-color="#fd0000"/><stop offset=".228" stop-color="#ff7c00"/><stop offset=".276" stop-color="#fff900"/><stop offset=".364" stop-color="#87ff78"/><stop offset=".464" stop-color="#0afff5"/><stop offset=".567" stop-color="#008bff"/><stop offset=".697" stop-color="#000eff"/><stop offset=".82" stop-color="#00c"/><stop offset=".915" stop-color="#0000a4"/><stop offset="1" stop-color="#00008f"/></linearGradient>
<linearGradient id="b134" gradientUnits="userSpaceOnUse" x1="0" y1="102.1" x2="0" y2="250.8"><stop offset="0" stop-color="#800000"/><stop offset=".113" stop-color="#fd0000"/><stop offset=".231" stop-color="#ff7c00"/><stop offset=".279" stop-color="#fff900"/><stop offset=".366" stop-color="#87ff78"/><stop offset=".465" stop-color="#0afff5"/><stop offset=".567" stop-color="#008bff"/><stop offset=".696" stop-color="#000eff"/><stop offset=".821" stop-color="#00c"/><stop offset=".916" stop-color="#0000a4"/><stop offset="1" stop-color="#00008f"/></linearGradient>
<linearGradient id="b135" gradientUnits="userSpaceOnUse" x1="0" y1="102" x2="0" y2="251.2"><stop offset="0" stop-color="#800000"/><stop offset=".116" stop-color="#fd0000"/><stop offset=".234" stop-color="#ff7c00"/><stop offset=".282" stop-color="#fff900"/><stop offset=".368" stop-color="#87ff78"/><stop offset=".467" stop-color="#0afff5"/><stop offset=".566" stop-color="#008bff"/><stop offset=".695" stop-color="#000eff"/><stop offset=".823" stop-color="#00c"/><stop offset=".917" stop-color="#0000a4"/><stop offset="1" stop-color="#00008f"/></linearGradient>
<linearGradient id="b136" gradientUnits="userSpaceOnUse" x1="0" y1="101.8" x2="0" y2="251.5"><stop offset="0" stop-color="#800000"/><stop offset=".119" stop-color="#fd0000"/><stop offset=".237" stop-color="#ff7c00"/><stop offset=".284" stop-color="#fff900"/><stop offset=".37" stop-color="#87ff78"/><stop offset=".468" stop-color="#0afff5"/><stop offset=".566" stop-color="#008bff"/><stop offset=".694" stop-color="#000eff"/><stop offset=".825" stop-color="#00c"/><stop offset=".918" stop-color="#0000a4"/><stop offset="1" stop-color="#00008f"/></linearGradient>
<linearGradient id="b137" gradientUnits="userSpaceOnUse" x1="0" y1="101.7" x2="0" y2="251.8"><stop offset="0" stop-color="#800000"/><stop offset=".121" stop-color="#fd0000"/><stop offset=".24" stop-color="#ff7c00"/><stop offset=".286" stop-color="#fff900"/><stop offset=".372" stop-color="#87ff78"/><stop offset=".469" stop-color="#0afff5"/><stop offset=".566" stop-color="#008bff"/><stop offset=".693" stop-color="#000eff"/><stop offset=".826" stop-color="#00c"/><stop offset=".92" stop-color="#0000a4"/><stop offset="1" stop-color="#00008f"/></linearGradient>
<linearGradient id="b138" gradientUnits="userSpaceOnUse" x1="0" y1="101.6" x2="0" y2="252"><stop offset="0" stop-color="#800000"/><stop offset=".124" stop-color="#fd0000"/><stop offset=".243" stop-color="#ff7c00"/><stop offset=".288" stop-color="#fff900"/><stop offset=".374" stop-color="#87ff78"/><stop offset=".47" stop-color="#0afff5"/><stop offset=".566" stop-color="#008bff"/><stop offset=".692" stop-color="#000eff"/><stop offset=".828" stop-color="#00c"/><stop offset=".921" stop-color="#0000a4"/><stop offset="1" stop-color="#00008f"/></linearGradient>
<linearGradient id="b139" gradientUnits="userSpaceOnUse" x1="0" y1="101.1" x2="0" y2="252"><stop offset="0" stop-color="#800000"/><stop offset=".129" stop-color="#fd0000"/><stop offset=".246" stop-color="#ff7c00"/><stop offset=".291" stop-color="#fff900"/><stop offset=".377" stop-color="#87ff78"/><stop offset=".474" stop-color="#0afff5"/><stop offset=".569" stop-color="#008bff"/><stop offset=".694" stop-color="#000eff"/><stop offset=".829" stop-color="#00c"/><stop offset=".923" stop-color="#0000a4"/><stop offset="1" stop-color="#00008f"/></linearGradient>
<linearGradient id="b140" gradientUnits="userSpaceOnUse" x1="0" y1="100.2" x2="0" y2="252"><stop offset="0" stop-color="#800000"/><stop offset=".136" stop-color="#fd0000"/><stop offset=".251" stop-color="#ff7c00"/><stop offset=".297" stop-color="#fff900"/><stop offset=".381" stop-color="#87ff78"/><stop offset=".479" stop-color="#0afff5"/><stop offset=".572" stop-color="#008bff"/><stop offset=".696" stop-color="#000eff"/><stop offset=".832" stop-color="#00c"/><stop offset=".926" stop-color="#0000a4"/><stop offset="1" stop-color="#00008f"/></linearGradient>
<linearGradient id="b141" gradientUnits="userSpaceOnUse" x1="0" y1="99.3" x2="0" y2="252"><stop offset="0" stop-color="#800000"/><stop offset=".143" stop-color="#fd0000"/><stop offset=".257" stop-color="#ff7c00"/><stop offset=".302" stop-color="#fff900"/><stop offset=".386" stop-color="#87ff78"/><stop offset=".483" stop-color="#0afff5"/><stop offset=".575" stop-color="#008bff"/><stop offset=".698" stop-color="#000eff"/><stop offset=".834" stop-color="#00c"/><stop offset=".928" stop-color="#0000a4"/><stop offset="1" stop-color="#00008f"/></linearGradient>
<linearGradient id="b142" gradientUnits="userSpaceOnUse" x1="0" y1="98.5" x2="0" y2="252"><stop offset="0" stop-color="#800000"/><stop offset=".149" stop-color="#fd0000"/><stop offset=".262" stop-color="#ff7c00"/><stop offset=".307" stop-color="#fff900"/><stop offset=".39" stop-color="#87ff78"/><stop offset=".488" stop-color="#0afff5"/><stop offset=".578" stop-color="#008bff"/><stop offset=".7" stop-color="#000eff"/><stop offset=".836" stop-color="#00c"/><stop offset=".931" stop-color="#0000a4"/><stop offset="1" stop-color="#00008f"/></linearGradient>
<linearGradient id="b143" gradientUnits="userSpaceOnUse" x1="0" y1="97.6" x2="0" y2="252"><stop offset="0" stop-color="#800000"/><stop offset=".155" stop-color="#fd0000"/><stop offset=".267" stop-color="#ff7c00"/><stop offset=".312" stop-color="#fff900"/><stop offset=".395" stop-color="#87ff78"/><stop offset=".492" stop-color="#0afff5"/><stop offset=".581" stop-color="#008bff"/><stop offset=".702" stop-color="#000eff"/><stop offset=".838" stop-color="#00c"/><stop offset=".933" stop-color="#0000a4"/><stop offset="1" stop-color="#00008f"/></linearGradient>
<linearGradient id="b144" gradientUnits="userSpaceOnUse" x1="0" y1="96.7" x2="0" y2="252"><stop offset="0" stop-color="#800000"/><stop offset=".161" stop-color="#fd0000"/><stop offset=".272" stop-color="#ff7c00"/><stop offset=".317" stop-color="#fff900"/><stop offset=".399" stop-color="#87ff78"/><stop offset=".497" stop-color="#0afff5"/><stop offset=".584" stop-color="#008bff"/><stop offset=".703" stop-color="#000eff"/><stop offset=".84" stop-color="#00c"/><stop offset=".935" stop-color="#0000a4"/><stop offset="1" stop-color="#00008f"/></linearGradient>
<linearGradient id="b145" gradientUnits="userSpaceOnUse" x1="0" y1="95.9" x2="0" y2="252"><stop offset="0" stop-color="#800000"/><stop offset=".167" stop-color="#fd0000"/><stop offset=".277" stop-color="#ff7c00"/><stop offset=".322" stop-color="#fff900"/><stop offset=".403" stop-color="#87ff78"/><stop offset=".5" stop-color="#0afff5"/><stop offset=".587" stop-color="#008bff"/><stop offset=".705" stop-color="#000eff"/><stop offset=".842" stop-color="#00c"/><stop offset=".938" stop-color="#0000a4"/><stop offset="1" stop-color="#00008f"/></linearGradient>
<linearGradient id="b146" gradientUnits="userSpaceOnUse" x1="0" y1="95" x2="0" y2="252"><stop offset="0" stop-color="#800000"/><stop offset=".173" stop-color="#fd0000"/><stop offset=".282" stop-color="#ff7c00"/><stop offset=".327" stop-color="#fff900"/><stop offset=".408" stop-color="#87ff78"/><stop offset=".503" stop-color="#0afff5"/><stop offset=".589" stop-color="#008bff"/><stop offset=".707" stop-color="#000eff"/><stop offset=".844" stop-color="#00c"/><stop offset=".94" stop-color="#0000a4"/><stop offset="1" stop-color="#00008f"/></linearGradient>
<linearGradient id="b147" gradientUnits="userSpaceOnUse" x1="0" y1="94.1" x2="0" y2="252"><stop offset="0" stop-color="#800000"/><stop offset=".179" stop-color="#fd0000"/><stop offset=".287" stop-color="#ff7c00"/><stop offset=".332" stop-color="#fff900"/><stop offset=".412" stop-color="#87ff78"/><stop offset=".506" stop-color="#0afff5"/><stop offset=".59" stop-color="#008bff"/><stop offset=".709" stop-color="#000eff"/><stop offset=".846" stop-color="#00c"/><stop offset=".942" stop-color="#0000a4"/><stop offset="1" stop-color="#00008f"/></linearGradient>
<linearGradient id="b148" gradientUnits="userSpaceOnUse" x1="0" y1="93.2" x2="0" y2="252"><stop offset="0" stop-color="#800000"/><stop offset=".185" stop-color="#fd0000"/><stop offset=".291" stop-color="#ff7c00"/><stop offset=".337" stop-color="#fff900"/><stop offset=".416" stop-color="#87ff78"/><stop offset=".509" stop-color="#0afff5"/><stop offset=".592" stop-color="#008bff"/><stop offset=".71" stop-color="#000eff"/><stop offset=".848" stop-color="#00c"/><stop offset=".944" stop-color="#0000a4"/><stop offset="1" stop-color="#00008f"/></linearGradient>
<linearGradient id="b149" gradientUnits="userSpaceOnUse" x1="0" y1="92.4" x2="0" y2="252"><stop offset="0" stop-color="#800000"/><stop offset=".191" stop-color="#fd0000"/><stop offset=".295" stop-color="#ff7c00"/><stop offset=".341" stop-color="#fff900"/><stop offset=".42" stop-color="#87ff78"/><stop offset=".511" stop-color="#0afff5"/><stop offset=".594" stop-color="#008bff"/><stop offset=".712" stop-color="#000eff"/><stop offset=".85" stop-color="#00c"/><stop offset=".946" stop-color="#0000a4"/><stop offset="1" stop-color="#00008f"/></linearGradient>
<linearGradient id="b150" gradientUnits="userSpaceOnUse" x1="0" y1="91.5" x2="0" y2="252"><stop offset="0" stop-color="#800000"/><stop offset=".194" stop-color="#fd0000"/><stop offset=".298" stop-color="#ff7c00"/><stop offset=".344" stop-color="#fff900"/><stop offset=".424" stop-color="#87ff78"/><stop offset=".514" stop-color="#0afff5"/><stop offset=".596" stop-color="#008bff"/><stop offset=".713" stop-color="#000eff"/><stop offset=".852" stop-color="#00c"/><stop offset=".949" stop-color="#0000a4"/><stop offset="1" stop-color="#00008f"/></linearGradient>
<linearGradient id="b151" gradientUnits="userSpaceOnUse" x1="0" y1="90.6" x2="0" y2="252"><stop offset="0" stop-color="#800000"/><stop offset=".188" stop-color="#fd0000"/><stop offset=".301" stop-color="#ff7c00"/><stop offset=".348" stop-color="#fff900"/><stop offset=".428" stop-color="#87ff78"/><stop offset=".517" stop-color="#0afff5"/><stop offset=".597" stop-color="#008bff"/><stop offset=".715" stop-color="#000eff"/><stop offset=".854" stop-color="#00c"/><stop offset=".951" stop-color="#0000a4"/><stop offset="1" stop-color="#00008f"/></linearGradient>
<linearGradient id="b152" gradientUnits="userSpaceOnUse" x1="0" y1="89.8" x2="0" y2="252"><stop offset="0" stop-color="#800000"/><stop offset=".182" stop-color="#fd0000"/><stop offset=".305" stop-color="#ff7c00"/><stop offset=".352" stop-color="#fff900"/><stop offset=".432" stop-color="#87ff78"/><stop offset=".519" stop-color="#0afff5"/><stop offset=".599" stop-color="#008bff"/><stop offset=".716" stop-color="#000eff"/><stop offset=".855" stop-color="#00c"/><stop offset=".953" stop-color="#0000a4"/><stop offset="1" stop-color="#00008f"/></linearGradient>
<linearGradient id="b153" gradientUnits="userSpaceOnUse" x1="0" y1="88.9" x2="0" y2="252"><stop offset="0" stop-color="#800000"/><stop offset=".176" stop-color="#fd0000"/><stop offset=".308" stop-color="#ff7c00"/><stop offset=".355" stop-color="#fff900"/><stop offset=".435" stop-color="#87ff78"/><stop offset=".522" stop-color="#0afff5"/><stop offset=".601" stop-color="#008bff"/><stop offset=".718" stop-color="#000eff"/><stop offset=".857" stop-color="#00c"/><stop offset=".955" stop-color="#0000a4"/><stop offset="1" stop-color="#00008f"/></linearGradient>
<linearGradient id="b154" gradientUnits="userSpaceOnUse" x1="0" y1="88" x2="0" y2="252"><stop offset="0" stop-color="#800000"/><stop offset=".17" stop-color="#fd0000"/><stop offset=".311" stop-color="#ff7c00"/><stop offset=".358" stop-color="#fff900"/><stop offset=".435" stop-color="#87ff78"/><stop offset=".524" stop-color="#0afff5"/><stop offset=".602" stop-color="#008bff"/><stop offset=".719" stop-color="#000eff"/><stop offset=".859" stop-color="#00c"/><stop offset=".957" stop-color="#0000a4"/><stop offset="1" stop-color="#00008f"/></linearGradient>
<linearGradient id="b155" gradientUnits="userSpaceOnUse" x1="0" y1="87.2" x2="0" y2="252"><stop offset="0" stop-color="#800000"/><stop offset=".164" stop-color="#fd0000"/><stop offset=".314" stop-color="#ff7c00"/><stop offset=".362" stop-color="#fff900"/><stop offset=".436" stop-color="#87ff78"/><stop offset=".525" stop-color="#0afff5"/><stop offset=".604" stop-color="#008bff"/><stop offset=".721" stop-color="#000eff"/><stop offset=".861" stop-color="#00c"/><stop offset=".959" stop-color="#0000a4"/><stop offset="1" stop-color="#00008f"/></linearGradient>
<linearGradient id="b156" gradientUnits="userSpaceOnUse" x1="0" y1="86.3" x2="0" y2="252"><stop offset="0" stop-color="#800000"/><stop offset=".158" stop-color="#fd0000"/><stop offset=".31" stop-color="#ff7c00"/><stop offset=".365" stop-color="#fff900"/><stop offset=".436" stop-color="#87ff78"/><stop offset=".524" stop-color="#0afff5"/><stop offset=".605" stop-color="#008bff"/><stop offset=".722" stop-color="#000eff"/><stop offset=".863" stop-color="#00c"/><stop offset=".961" stop-color="#0000a4"/><stop offset="1" stop-color="#00008f"/></linearGradient>
<linearGradient id="b157" gradientUnits="userSpaceOnUse" x1="0" y1="85.4" x2="0" y2="252"><stop offset="0" stop-color="#800000"/><stop offset=".153" stop-color="#fd0000"/><stop offset=".306" stop-color="#ff7c00"/><stop offset=".368" stop-color="#fff900"/><stop offset=".436" stop-color="#87ff78"/><stop offset=".524" stop-color="#0afff5"/><stop offset=".607" stop-color="#008bff"/><stop offset=".724" stop-color="#000eff"/><stop offset=".864" stop-color="#00c"/><stop offset=".963" stop-color="#0000a4"/><stop offset="1" stop-color="#00008f"/></linearGradient>
<linearGradient id="b158" gradientUnits="userSpaceOnUse" x1="0" y1="84.5" x2="0" y2="252"><stop offset="0" stop-color="#800000"/><stop offset=".149" stop-color="#fd0000"/><stop offset=".302" stop-color="#ff7c00"/><stop offset=".372" stop-color="#fff900"/><stop offset=".437" stop-color="#87ff78"/><stop offset=".524" stop-color="#0afff5"/><stop offset=".608" stop-color="#008bff"/><stop offset=".724" stop-color="#000eff"/><stop offset=".866" stop-color="#00c"/><stop offset=".964" stop-color="#0000a4"/><stop offset="1" stop-color="#00008f"/></linearGradient>
<linearGradient id="b159" gradientUnits="userSpaceOnUse" x1="0" y1="83.6" x2="0" y2="252"><stop offset="0" stop-color="#800000"/><stop offset=".148" stop-color="#fd0000"/><stop offset=".298" stop-color="#ff7c00"/><stop offset=".374" stop-color="#fff900"/><stop offset=".438" stop-color="#87ff78"/><stop offset=".523" stop-color="#0afff5"/><stop offset=".608" stop-color="#008bff"/><stop offset=".723" stop-color="#000eff"/><stop offset=".866" stop-color="#00c"/><stop offset=".963" stop-color="#0000a4"/><stop offset="1" stop-color="#00008f"/></linearGradient>
<linearGradient id="b160" gradientUnits="userSpaceOnUse" x1="0" y1="82.7" x2="0" y2="252"><stop offset="0" stop-color="#800000"/><stop offset=".147" stop-color="#fd0000"/><stop offset=".295" stop-color="#ff7c00"/><stop offset=".373" stop-color="#fff900"/><stop offset=".438" stop-color="#87ff78"/><stop offset=".523" stop-color="#0afff5"/><stop offset=".608" stop-color="#008bff"/><stop offset=".722" stop-color="#000eff"/><stop offset=".867" stop-color="#00c"/><stop offset=".962" stop-color="#0000a4"/><stop offset="1" stop-color="#00008f"/></linearGradient>
<linearGradient id="b161" gradientUnits="userSpaceOnUse" x1="0" y1="81.7" x2="0" y2="252"><stop offset="0" stop-color="#800000"/><stop offset=".146" stop-color="#fd0000"/><stop offset=".291" stop-color="#ff7c00"/><stop offset=".372" stop-color="#fff900"/><stop offset=".439" stop-color="#87ff78"/><stop offset=".523" stop-color="#0afff5"/><stop offset=".609" stop-color="#008bff"/><stop offset=".721" stop-color="#000eff"/><stop offset=".868" stop-color="#00c"/><stop offset=".962" stop-color="#0000a4"/><stop offset="1" stop-color="#00008f"/></linearGradient>
<linearGradient id="b162" gradientUnits="userSpaceOnUse" x1="0" y1="80.8" x2="0" y2="252"><stop offset="0" stop-color="#800000"/><stop offset=".144" stop-color="#fd0000"/><stop offset=".287" stop-color="#ff7c00"/><stop offset=".371" stop-color="#fff900"/><stop offset=".44" stop-color="#87ff78"/><stop offset=".523" stop-color="#0afff5"/><stop offset=".609" stop-color="#008bff"/><stop offset=".72" stop-color="#000eff"/><stop offset=".869" stop-color="#00c"/><stop offset=".961" stop-color="#0000a4"/><stop offset="1" stop-color="#00008f"/></linearGradient>
<linearGradient id="b163" gradientUnits="userSpaceOnUse" x1="0" y1="79.8" x2="0" y2="252"><stop offset="0" stop-color="#800000"/><stop offset=".143" stop-color="#fd0000"/><stop offset=".283" stop-color="#ff7c00"/><stop offset=".37" stop-color="#fff900"/><stop offset=".44" stop-color="#87ff78"/><stop offset=".523" stop-color="#0afff5"/><stop offset=".609" stop-color="#008bff"/><stop offset=".72" stop-color="#000eff"/><stop offset=".869" stop-color="#00c"/><stop offset=".96" stop-color="#0000a4"/><stop offset="1" stop-color="#00008f"/></linearGradient>
<linearGradient id="b164" gradientUnits="userSpaceOnUse" x1="0" y1="78.9" x2="0" y2="252"><stop offset="0" stop-color="#800000"/><stop offset=".142" stop-color="#fd0000"/><stop offset=".281" stop-color="#ff7c00"/><stop offset=".369" stop-color="#fff900"/><stop offset=".438" stop-color="#87ff78"/><stop offset=".522" stop-color="#0afff5"/><stop offset=".609" stop-color="#008bff"/><stop offset=".719" stop-color="#000eff"/><stop offset=".87" stop-color="#00c"/><stop offset=".96" stop-color="#0000a4"/><stop offset="1" stop-color="#00008f"/></linearGradient>
<linearGradient id="b165" gradientUnits="userSpaceOnUse" x1="0" y1="78" x2="0" y2="252"><stop offset="0" stop-color="#800000"/><stop offset=".141" stop-color="#fd0000"/><stop offset=".28" stop-color="#ff7c00"/><stop offset=".368" stop-color="#fff900"/><stop offset=".437" stop-color="#87ff78"/><stop offset=".522" stop-color="#0afff5"/><stop offset=".61" stop-color="#008bff"/><stop offset=".718" stop-color="#000eff"/><stop offset=".871" stop-color="#00c"/><stop offset=".959" stop-color="#0000a4"/><stop offset="1" stop-color="#00008f"/></linearGradient>
<linearGradient id="b166" gradientUnits="userSpaceOnUse" x1="0" y1="77" x2="0" y2="252"><stop offset="0" stop-color="#800000"/><stop offset=".14" stop-color="#fd0000"/><stop offset=".278" stop-color="#ff7c00"/><stop offset=".367" stop-color="#fff900"/><stop offset=".435" stop-color="#87ff78"/><stop offset=".521" stop-color="#0afff5"/><stop offset=".61" stop-color="#008bff"/><stop offset=".717" stop-color="#000eff"/><stop offset=".871" stop-color="#00c"/><stop offset=".958" stop-color="#0000a4"/><stop offset="1" stop-color="#00008f"/></linearGradient>
<linearGradient id="b167" gradientUnits="userSpaceOnUse" x1="0" y1="76.1" x2="0" y2="252"><stop offset="0" stop-color="#800000"/><stop offset=".139" stop-color="#fd0000"/><stop offset=".277" stop-color="#ff7c00"/><stop offset=".365" stop-color="#fff900"/><stop offset=".434" stop-color="#87ff78"/><stop offset=".52" stop-color="#0afff5"/><stop offset=".61" stop-color="#008bff"/><stop offset=".716" stop-color="#000eff"/><stop offset=".872" stop-color="#00c"/><stop offset=".958" stop-color="#0000a4"/><stop offset="1" stop-color="#00008f"/></linearGradient>
<linearGradient id="b168" gradientUnits="userSpaceOnUse" x1="0" y1="75.2" x2="0" y2="252"><stop offset="0" stop-color="#800000"/><stop offset=".138" stop-color="#fd0000"/><stop offset=".275" stop-color="#ff7c00"/><stop offset=".365" stop-color="#fff900"/><stop offset=".432" stop-color="#87ff78"/><stop offset=".518" stop-color="#0afff5"/><stop offset=".605" stop-color="#008bff"/><stop offset=".715" stop-color="#000eff"/><stop offset=".873" stop-color="#00c"/><stop offset=".957" stop-color="#0000a4"/><stop offset="1" stop-color="#00008f"/></linearGradient>
<linearGradient id="b169" gradientUnits="userSpaceOnUse" x1="0" y1="74.2" x2="0" y2="252"><stop offset="0" stop-color="#800000"/><stop offset=".137" stop-color="#fd0000"/><stop offset=".274" stop-color="#ff7c00"/><stop offset=".364" stop-color="#fff900"/><stop offset=".431" stop-color="#87ff78"/><stop offset=".517" stop-color="#0afff5"/><stop offset=".6" stop-color="#008bff"/><stop offset=".715" stop-color="#000eff"/><stop offset=".873" stop-color="#00c"/><stop offset=".957" stop-color="#0000a4"/><stop offset="1" stop-color="#00008f"/></linearGradient>
<linearGradient id="b170" gradientUnits="userSpaceOnUse" x1="0" y1="73.3" x2="0" y2="252"><stop offset="0" stop-color="#800000"/><stop offset=".136" stop-color="#fd0000"/><stop offset=".273" stop-color="#ff7c00"/><stop offset=".363" stop-color="#fff900"/><stop offset=".429" stop-color="#87ff78"/><stop offset=".515" stop-color="#0afff5"/><stop offset=".595" stop-color="#008bff"/><stop offset=".714" stop-color="#000eff"/><stop offset=".874" stop-color="#00c"/><stop offset=".956" stop-color="#0000a4"/><stop offset="1" stop-color="#00008f"/></linearGradient>
<linearGradient id="b171" gradientUnits="userSpaceOnUse" x1="0" y1="72.3" x2="0" y2="252"><stop offset="0" stop-color="#800000"/><stop offset=".134" stop-color="#fd0000"/><stop offset=".271" stop-color="#ff7c00"/><stop offset=".363" stop-color="#fff900"/><stop offset=".428" stop-color="#87ff78"/><stop offset=".514" stop-color="#0afff5"/><stop offset=".591" stop-color="#008bff"/><stop offset=".714" stop-color="#000eff"/><stop offset=".875" stop-color="#00c"/><stop offset=".955" stop-color="#0000a4"/><stop offset="1" stop-color="#00008f"/></linearGradient>
<linearGradient id="b172" gradientUnits="userSpaceOnUse" x1="0" y1="71.4" x2="0" y2="252"><stop offset="0" stop-color="#800000"/><stop offset=".133" stop-color="#fd0000"/><stop offset=".27" stop-color="#ff7c00"/><stop offset=".362" stop-color="#fff900"/><stop offset=".426" stop-color="#87ff78"/><stop offset=".512" stop-color="#0afff5"/><stop offset=".588" stop-color="#008bff"/><stop offset=".717" stop-color="#000eff"/><stop offset=".875" stop-color="#00c"/><stop offset=".955" stop-color="#0000a4"/><stop offset="1" stop-color="#00008f"/></linearGradient>
<linearGradient id="b173" gradientUnits="userSpaceOnUse" x1="0" y1="70.5" x2="0" y2="252"><stop offset="0" stop-color="#800000"/><stop offset=".132" stop-color="#fd0000"/><stop offset=".269" stop-color="#ff7c00"/><stop offset=".361" stop-color="#fff900"/><stop offset=".425" stop-color="#87ff78"/><stop offset=".511" stop-color="#0afff5"/><stop offset=".584" stop-color="#008bff"/><stop offset=".721" stop-color="#000eff"/><stop offset=".876" stop-color="#00c"/><stop offset=".954" stop-color="#0000a4"/><stop offset="1" stop-color="#00008f"/></linearGradient>
<linearGradient id="b174" gradientUnits="userSpaceOnUse" x1="0" y1="69.5" x2="0" y2="252"><stop offset="0" stop-color="#800000"/><stop offset=".131" stop-color="#fd0000"/><stop offset=".268" stop-color="#ff7c00"/><stop offset=".361" stop-color="#fff900"/><stop offset=".425" stop-color="#87ff78"/><stop offset=".509" stop-color="#0afff5"/><stop offset=".581" stop-color="#008bff"/><stop offset=".724" stop-color="#000eff"/><stop offset=".877" stop-color="#00c"/><stop offset=".954" stop-color="#0000a4"/><stop offset="1" stop-color="#00008f"/></linearGradient>
<linearGradient id="b175" gradientUnits="userSpaceOnUse" x1="0" y1="68.6" x2="0" y2="252"><stop offset="0" stop-color="#800000"/><stop offset=".13" stop-color="#fd0000"/><stop offset=".266" stop-color="#ff7c00"/><stop offset=".36" stop-color="#fff900"/><stop offset=".424" stop-color="#87ff78"/><stop offset=".508" stop-color="#0afff5"/><stop offset=".578" stop-color="#008bff"/><stop offset=".728" stop-color="#000eff"/><stop offset=".877" stop-color="#00c"/><stop offset=".953" stop-color="#0000a4"/><stop offset="1" stop-color="#00008f"/></linearGradient>
<linearGradient id="b176" gradientUnits="userSpaceOnUse" x1="0" y1="67.7" x2="0" y2="252"><stop offset="0" stop-color="#800000"/><stop offset=".129" stop-color="#fd0000"/><stop offset=".265" stop-color="#ff7c00"/><stop offset=".36" stop-color="#fff900"/><stop offset=".423" stop-color="#87ff78"/><stop offset=".507" stop-color="#0afff5"/><stop offset=".574" stop-color="#008bff"/><stop offset=".731" stop-color="#000eff"/><stop offset=".878" stop-color="#00c"/><stop offset=".952" stop-color="#0000a4"/><stop offset="1" stop-color="#00008f"/></linearGradient>
<linearGradient id="b177" gradientUnits="userSpaceOnUse" x1="0" y1="66.7" x2="0" y2="252"><stop offset="0" stop-color="#800000"/><stop offset=".128" stop-color="#fd0000"/><stop offset=".264" stop-color="#ff7c00"/><stop offset=".359" stop-color="#fff900"/><stop offset=".423" stop-color="#87ff78"/><stop offset=".505" stop-color="#0afff5"/><stop offset=".571" stop-color="#008bff"/><stop offset=".735" stop-color="#000eff"/><stop offset=".879" stop-color="#00c"/><stop offset=".952" stop-color="#0000a4"/><stop offset="1" stop-color="#00008f"/></linearGradient>
<linearGradient id="b178" gradientUnits="userSpaceOnUse" x1="0" y1="65.8" x2="0" y2="252"><stop offset="0" stop-color="#800000"/><stop offset=".127" stop-color="#fd0000"/><stop offset=".263" stop-color="#ff7c00"/><stop offset=".358" stop-color="#fff900"/><stop offset=".422" stop-color="#87ff78"/><stop offset=".504" stop-color="#0afff5"/><stop offset=".569" stop-color="#008bff"/><stop offset=".738" stop-color="#000eff"/><stop offset=".879" stop-color="#00c"/><stop offset=".951" stop-color="#0000a4"/><stop offset="1" stop-color="#00008f"/></linearGradient>
<linearGradient id="b179" gradientUnits="userSpaceOnUse" x1="0" y1="64.8" x2="0" y2="252"><stop offset="0" stop-color="#800000"/><stop offset=".126" stop-color="#fd0000"/><stop offset=".261" stop-color="#ff7c00"/><stop offset=".358" stop-color="#fff900"/><stop offset=".421" stop-color="#87ff78"/><stop offset=".503" stop-color="#0afff5"/><stop offset=".568" stop-color="#008bff"/><stop offset=".742" stop-color="#000eff"/><stop offset=".878" stop-color="#00c"/><stop offset=".951" stop-color="#0000a4"/><stop offset="1" stop-color="#00008f"/></linearGradient>
<linearGradient id="b180" gradientUnits="userSpaceOnUse" x1="0" y1="63.9" x2="0" y2="252"><stop offset="0" stop-color="#800000"/><stop offset=".125" stop-color="#fd0000"/><stop offset=".26" stop-color="#ff7c00"/><stop offset=".357" stop-color="#fff900"/><stop offset=".421" stop-color="#87ff78"/><stop offset=".502" stop-color="#0afff5"/><stop offset=".566" stop-color="#008bff"/><stop offset=".745" stop-color="#000eff"/><stop offset=".878" stop-color="#00c"/><stop offset=".95" stop-color="#0000a4"/><stop offset="1" stop-color="#00008f"/></linearGradient>
<linearGradient id="b181" gradientUnits="userSpaceOnUse" x1="0" y1="63" x2="0" y2="252"><stop offset="0" stop-color="#800000"/><stop offset=".124" stop-color="#fd0000"/><stop offset=".259" stop-color="#ff7c00"/><stop offset=".356" stop-color="#fff900"/><stop offset=".42" stop-color="#87ff78"/><stop offset=".501" stop-color="#0afff5"/><stop offset=".565" stop-color="#008bff"/><stop offset=".749" stop-color="#000eff"/><stop offset=".878" stop-color="#00c"/><stop offset=".95" stop-color="#0000a4"/><stop offset="1" stop-color="#00008f"/></linearGradient>
<linearGradient id="b182" gradientUnits="userSpaceOnUse" x1="0" y1="62" x2="0" y2="252"><stop offset="0" stop-color="#800000"/><stop offset=".124" stop-color="#fd0000"/><stop offset=".258" stop-color="#ff7c00"/><stop offset=".356" stop-color="#fff900"/><stop offset=".419" stop-color="#87ff78"/><stop offset=".5" stop-color="#0afff5"/><stop offset=".564" stop-color="#008bff"/><stop offset=".753" stop-color="#000eff"/><stop offset=".877" stop-color="#00c"/><stop offset=".949" stop-color="#0000a4"/><stop offset="1" stop-color="#00008f"/></linearGradient>
<linearGradient id="b183" gradientUnits="userSpaceOnUse" x1="0" y1="61.1" x2="0" y2="252"><stop offset="0" stop-color="#800000"/><stop offset=".123" stop-color="#fd0000"/><stop offset=".257" stop-color="#ff7c00"/><stop offset=".355" stop-color="#fff900"/><stop offset=".419" stop-color="#87ff78"/><stop offset=".499" stop-color="#0afff5"/><stop offset=".563" stop-color="#008bff"/><stop offset=".756" stop-color="#000eff"/><stop offset=".877" stop-color="#00c"/><stop offset=".949" stop-color="#0000a4"/><stop offset="1" stop-color="#00008f"/></linearGradient>
<linearGradient id="b184" gradientUnits="userSpaceOnUse" x1="0" y1="60.2" x2="0" y2="252"><stop offset="0" stop-color="#800000"/><stop offset=".122" stop-color="#fd0000"/><stop offset=".255" stop-color="#ff7c00"/><stop offset=".355" stop-color="#fff900"/><stop offset=".418" stop-color="#87ff78"/><stop offset=".498" stop-color="#0afff5"/><stop offset=".562" stop-color="#008bff"/><stop offset=".76" stop-color="#000eff"/><stop offset=".877" stop-color="#00c"/><stop offset=".948" stop-color="#0000a4"/><stop offset="1" stop-color="#00008f"/></linearGradient>
<linearGradient id="b185" gradientUnits="userSpaceOnUse" x1="0" y1="59.2" x2="0" y2="252"><stop offset="0" stop-color="#800000"/><stop offset=".121" stop-color="#fd0000"/><stop offset=".254" stop-color="#ff7c00"/><stop offset=".354" stop-color="#fff900"/><stop offset=".418" stop-color="#87ff78"/><stop offset=".497" stop-color="#0afff5"/><stop offset=".561" stop-color="#008bff"/><stop offset=".763" stop-color="#000eff"/><stop offset=".876" stop-color="#00c"/><stop offset=".947" stop-color="#0000a4"/><stop offset="1" stop-color="#00008f"/></linearGradient>
<linearGradient id="b186" gradientUnits="userSpaceOnUse" x1="0" y1="58.3" x2="0" y2="252"><stop offset="0" stop-color="#800000"/><stop offset=".12" stop-color="#fd0000"/><stop offset=".253" stop-color="#ff7c00"/><stop offset=".354" stop-color="#fff900"/><stop offset=".417" stop-color="#87ff78"/><stop offset=".496" stop-color="#0afff5"/><stop offset=".56" stop-color="#008bff"/><stop offset=".767" stop-color="#000eff"/><stop offset=".876" stop-color="#00c"/><stop offset=".947" stop-color="#0000a4"/><stop offset="1" stop-color="#00008f"/></linearGradient>
<linearGradient id="b187" gradientUnits="userSpaceOnUse" x1="0" y1="57.3" x2="0" y2="252"><stop offset="0" stop-color="#800000"/><stop offset=".119" stop-color="#fd0000"/><stop offset=".252" stop-color="#ff7c00"/><stop offset=".353" stop-color="#fff900"/><stop offset=".416" stop-color="#87ff78"/><stop offset=".495" stop-color="#0afff5"/><stop offset=".559" stop-color="#008bff"/><stop offset=".77" stop-color="#000eff"/><stop offset=".876" stop-color="#00c"/><stop offset=".946" stop-color="#0000a4"/><stop offset="1" stop-color="#00008f"/></linearGradient>
<linearGradient id="b188" gradientUnits="userSpaceOnUse" x1="0" y1="56.4" x2="0" y2="252"><stop offset="0" stop-color="#800000"/><stop offset=".118" stop-color="#fd0000"/><stop offset=".251" stop-color="#ff7c00"/><stop offset=".353" stop-color="#fff900"/><stop offset=".416" stop-color="#87ff78"/><stop offset=".494" stop-color="#0afff5"/><stop offset=".558" stop-color="#008bff"/><stop offset=".773" stop-color="#000eff"/><stop offset=".876" stop-color="#00c"/><stop offset=".946" stop-color="#0000a4"/><stop offset="1" stop-color="#00008f"/></linearGradient>
<linearGradient id="b189" gradientUnits="userSpaceOnUse" x1="0" y1="55.5" x2="0" y2="252"><stop offset="0" stop-color="#800000"/><stop offset=".117" stop-color="#fd0000"/><stop offset=".25" stop-color="#ff7c00"/><stop offset=".352" stop-color="#fff900"/><stop offset=".415" stop-color="#87ff78"/><stop offset=".493" stop-color="#0afff5"/><stop offset=".557" stop-color="#008bff"/><stop offset=".775" stop-color="#000eff"/><stop offset=".875" stop-color="#00c"/><stop offset=".945" stop-color="#0000a4"/><stop offset="1" stop-color="#00008f"/></linearGradient>
<linearGradient id="b190" gradientUnits="userSpaceOnUse" x1="0" y1="54.5" x2="0" y2="252"><stop offset="0" stop-color="#800000"/><stop offset=".116" stop-color="#fd0000"/><stop offset=".249" stop-color="#ff7c00"/><stop offset=".351" stop-color="#fff900"/><stop offset=".415" stop-color="#87ff78"/><stop offset=".492" stop-color="#0afff5"/><stop offset=".556" stop-color="#008bff"/><stop offset=".777" stop-color="#000eff"/><stop offset=".875" stop-color="#00c"/><stop offset=".945" stop-color="#0000a4"/><stop offset="1" stop-color="#00008f"/></linearGradient>
<linearGradient id="b191" gradientUnits="userSpaceOnUse" x1="0" y1="53.6" x2="0" y2="252"><stop offset="0" stop-color="#800000"/><stop offset=".115" stop-color="#fd0000"/><stop offset=".248" stop-color="#ff7c00"/><stop offset=".351" stop-color="#fff900"/><stop offset=".414" stop-color="#87ff78"/><stop offset=".491" stop-color="#0afff5"/><stop offset=".555" stop-color="#008bff"/><stop offset=".778" stop-color="#000eff"/><stop offset=".875" stop-color="#00c"/><stop offset=".944" stop-color="#0000a4"/><stop offset="1" stop-color="#00008f"/></linearGradient>
<linearGradient id="b192" gradientUnits="userSpaceOnUse" x1="0" y1="52.7" x2="0" y2="252"><stop offset="0" stop-color="#800000"/><stop offset=".115" stop-color="#fd0000"/><stop offset=".247" stop-color="#ff7c00"/><stop offset=".35" stop-color="#fff900"/><stop offset=".414" stop-color="#87ff78"/><stop offset=".49" stop-color="#0afff5"/><stop offset=".554" stop-color="#008bff"/><stop offset=".78" stop-color="#000eff"/><stop offset=".874" stop-color="#00c"/><stop offset=".944" stop-color="#0000a4"/><stop offset="1" stop-color="#00008f"/></linearGradient>
<linearGradient id="b193" gradientUnits="userSpaceOnUse" x1="0" y1="51.7" x2="0" y2="252"><stop offset="0" stop-color="#800000"/><stop offset=".114" stop-color="#fd0000"/><stop offset=".246" stop-color="#ff7c00"/><stop offset=".35" stop-color="#fff900"/><stop offset=".413" stop-color="#87ff78"/><stop offset=".489" stop-color="#0afff5"/><stop offset=".553" stop-color="#008bff"/><stop offset=".782" stop-color="#000eff"/><stop offset=".874" stop-color="#00c"/><stop offset=".943" stop-color="#0000a4"/><stop offset="1" stop-color="#00008f"/></linearGradient>
<linearGradient id="b194" gradientUnits="userSpaceOnUse" x1="0" y1="50.8" x2="0" y2="252"><stop offset="0" stop-color="#800000"/><stop offset=".113" stop-color="#fd0000"/><stop offset=".244" stop-color="#ff7c00"/><stop offset=".349" stop-color="#fff900"/><stop offset=".412" stop-color="#87ff78"/><stop offset=".488" stop-color="#0afff5"/><stop offset=".552" stop-color="#008bff"/><stop offset=".784" stop-color="#000eff"/><stop offset=".874" stop-color="#00c"/><stop offset=".943" stop-color="#0000a4"/><stop offset="1" stop-color="#00008f"/></linearGradient>
<linearGradient id="b195" gradientUnits="userSpaceOnUse" x1="0" y1="49.8" x2="0" y2="252"><stop offset="0" stop-color="#800000"/><stop offset=".112" stop-color="#fd0000"/><stop offset=".243" stop-color="#ff7c00"/><stop offset=".349" stop-color="#fff900"/><stop offset=".412" stop-color="#87ff78"/><stop offset=".487" stop-color="#0afff5"/><stop offset=".551" stop-color="#008bff"/><stop offset=".785" stop-color="#000eff"/><stop offset=".874" stop-color="#00c"/><stop offset=".942" stop-color="#0000a4"/><stop offset="1" stop-color="#00008f"/></linearGradient>
<linearGradient id="b196" gradientUnits="userSpaceOnUse" x1="0" y1="48.9" x2="0" y2="252"><stop offset="0" stop-color="#800000"/><stop offset=".111" stop-color="#fd0000"/><stop offset=".242" stop-color="#ff7c00"/><stop offset=".348" stop-color="#fff900"/><stop offset=".411" stop-color="#87ff78"/><stop offset=".486" stop-color="#0afff5"/><stop offset=".55" stop-color="#008bff"/><stop offset=".787" stop-color="#000eff"/><stop offset=".873" stop-color="#00c"/><stop offset=".942" stop-color="#0000a4"/><stop offset="1" stop-color="#00008f"/></linearGradient>
<linearGradient id="b197" gradientUnits="userSpaceOnUse" x1="0" y1="48" x2="0" y2="252"><stop offset="0" stop-color="#800000"/><stop offset=".11" stop-color="#fd0000"/><stop offset=".241" stop-color="#ff7c00"/><stop offset=".348" stop-color="#fff900"/><stop offset=".411" stop-color="#87ff78"/><stop offset=".485" stop-color="#0afff5"/><stop offset=".549" stop-color="#008bff"/><stop offset=".789" stop-color="#000eff"/><stop offset=".873" stop-color="#00c"/><stop offset=".942" stop-color="#0000a4"/><stop offset="1" stop-color="#00008f"/></linearGradient>
<linearGradient id="b198" gradientUnits="userSpaceOnUse" x1="0" y1="47" x2="0" y2="251.7"><stop offset="0" stop-color="#800000"/><stop offset=".11" stop-color="#fd0000"/><stop offset=".241" stop-color="#ff7c00"/><stop offset=".348" stop-color="#fff900"/><stop offset=".411" stop-color="#87ff78"/><stop offset=".485" stop-color="#0afff5"/><stop offset=".549" stop-color="#008bff"/><stop offset=".791" stop-color="#000eff"/><stop offset=".873" stop-color="#00c"/><stop offset=".941" stop-color="#0000a4"/><stop offset="1" stop-color="#00008f"/></linearGradient>
<linearGradient id="b199" gradientUnits="userSpaceOnUse" x1="0" y1="46.1" x2="0" y2="251.1"><stop offset="0" stop-color="#800000"/><stop offset=".109" stop-color="#fd0000"/><stop offset=".24" stop-color="#ff7c00"/><stop offset=".348" stop-color="#fff900"/><stop offset=".412" stop-color="#87ff78"/><stop offset=".486" stop-color="#0afff5"/><stop offset=".549" stop-color="#008bff"/><stop offset=".793" stop-color="#000eff"/><stop offset=".874" stop-color="#00c"/><stop offset=".941" stop-color="#0000a4"/><stop offset="1" stop-color="#00008f"/></linearGradient>
<linearGradient id="b200" gradientUnits="userSpaceOnUse" x1="0" y1="45.2" x2="0" y2="250.5"><stop offset="0" stop-color="#800000"/><stop offset=".109" stop-color="#fd0000"/><stop offset=".24" stop-color="#ff7c00"/><stop offset=".349" stop-color="#fff900"/><stop offset=".412" stop-color="#87ff78"/><stop offset=".486" stop-color="#0afff5"/><stop offset=".55" stop-color="#008bff"/><stop offset=".795" stop-color="#000eff"/><stop offset=".875" stop-color="#00c"/><stop offset=".94" stop-color="#0000a4"/><stop offset="1" stop-color="#00008f"/></linearGradient>
<linearGradient id="b201" gradientUnits="userSpaceOnUse" x1="0" y1="44.2" x2="0" y2="249.9"><stop offset="0" stop-color="#800000"/><stop offset=".108" stop-color="#fd0000"/><stop offset=".24" stop-color="#ff7c00"/><stop offset=".349" stop-color="#fff900"/><stop offset=".413" stop-color="#87ff78"/><stop offset=".487" stop-color="#0afff5"/><stop offset=".551" stop-color="#008bff"/><stop offset=".798" stop-color="#000eff"/><stop offset=".875" stop-color="#00c"/><stop offset=".94" stop-color="#0000a4"/><stop offset="1" stop-color="#00008f"/></linearGradient>
<linearGradient id="b202" gradientUnits="userSpaceOnUse" x1="0" y1="43.3" x2="0" y2="249.3"><stop offset="0" stop-color="#800000"/><stop offset=".108" stop-color="#fd0000"/><stop offset=".239" stop-color="#ff7c00"/><stop offset=".35" stop-color="#fff900"/><stop offset=".414" stop-color="#87ff78"/><stop offset=".487" stop-color="#0afff5"/><stop offset=".551" stop-color="#008bff"/><stop offset=".8" stop-color="#000eff"/><stop offset=".876" stop-color="#00c"/><stop offset=".94" stop-color="#0000a4"/><stop offset="1" stop-color="#00008f"/></linearGradient>
<linearGradient id="b203" gradientUnits="userSpaceOnUse" x1="0" y1="42.3" x2="0" y2="248.7"><stop offset="0" stop-color="#800000"/><stop offset=".107" stop-color="#fd0000"/><stop offset=".239" stop-color="#ff7c00"/><stop offset=".35" stop-color="#fff900"/><stop offset=".414" stop-color="#87ff78"/><stop offset=".488" stop-color="#0afff5"/><stop offset=".552" stop-color="#008bff"/><stop offset=".802" stop-color="#000eff"/><stop offset=".877" stop-color="#00c"/><stop offset=".939" stop-color="#0000a4"/><stop offset="1" stop-color="#00008f"/></linearGradient>
<linearGradient id="b204" gradientUnits="userSpaceOnUse" x1="0" y1="41.4" x2="0" y2="248.1"><stop offset="0" stop-color="#800000"/><stop offset=".107" stop-color="#fd0000"/><stop offset=".239" stop-color="#ff7c00"/><stop offset=".351" stop-color="#fff900"/><stop offset=".415" stop-color="#87ff78"/><stop offset=".488" stop-color="#0afff5"/><stop offset=".553" stop-color="#008bff"/><stop offset=".805" stop-color="#000eff"/><stop offset=".877" stop-color="#00c"/><stop offset=".939" stop-color="#0000a4"/><stop offset="1" stop-color="#00008f"/></linearGradient>
<linearGradient id="b205" gradientUnits="userSpaceOnUse" x1="0" y1="40.5" x2="0" y2="247.5"><stop offset="0" stop-color="#800000"/><stop offset=".106" stop-color="#fd0000"/><stop offset=".239" stop-color="#ff7c00"/><stop offset=".351" stop-color="#fff900"/><stop offset=".416" stop-color="#87ff78"/><stop offset=".489" stop-color="#0afff5"/><stop offset=".553" stop-color="#008bff"/><stop offset=".807" stop-color="#000eff"/><stop offset=".878" stop-color="#00c"/><stop offset=".938" stop-color="#0000a4"/><stop offset="1" stop-color="#00008f"/></linearGradient>
<linearGradient id="b206" gradientUnits="userSpaceOnUse" x1="0" y1="39.5" x2="0" y2="246.9"><stop offset="0" stop-color="#800000"/><stop offset=".106" stop-color="#fd0000"/><stop offset=".238" stop-color="#ff7c00"/><stop offset=".352" stop-color="#fff900"/><stop offset=".416" stop-color="#87ff78"/><stop offset=".489" stop-color="#0afff5"/><stop offset=".554" stop-color="#008bff"/><stop offset=".809" stop-color="#000eff"/><stop offset=".879" stop-color="#00c"/><stop offset=".938" stop-color="#0000a4"/><stop offset="1" stop-color="#00008f"/></linearGradient>
<linearGradient id="b207" gradientUnits="userSpaceOnUse" x1="0" y1="38.6" x2="0" y2="246.3"><stop offset="0" stop-color="#800000"/><stop offset=".105" stop-color="#fd0000"/><stop offset=".238" stop-color="#ff7c00"/><stop offset=".352" stop-color="#fff900"/><stop offset=".417" stop-color="#87ff78"/><stop offset=".49" stop-color="#0afff5"/><stop offset=".555" stop-color="#008bff"/><stop offset=".811" stop-color="#000eff"/><stop offset=".879" stop-color="#00c"/><stop offset=".938" stop-color="#0000a4"/><stop offset="1" stop-color="#00008f"/></linearGradient>
<linearGradient id="b208" gradientUnits="userSpaceOnUse" x1="0" y1="37.7" x2="0" y2="245.7"><stop offset="0" stop-color="#800000"/><stop offset=".105" stop-color="#fd0000"/><stop offset=".238" stop-color="#ff7c00"/><stop offset=".353" stop-color="#fff900"/><stop offset=".418" stop-color="#87ff78"/><stop offset=".49" stop-color="#0afff5"/><stop offset=".555" stop-color="#008bff"/><stop offset=".813" stop-color="#000eff"/><stop offset=".88" stop-color="#00c"/><stop offset=".937" stop-color="#0000a4"/><stop offset="1" stop-color="#00008f"/></linearGradient>
<linearGradient id="b209" gradientUnits="userSpaceOnUse" x1="0" y1="36.7" x2="0" y2="245.1"><stop offset="0" stop-color="#800000"/><stop offset=".105" stop-color="#fd0000"/><stop offset=".237" stop-color="#ff7c00"/><stop offset=".353" stop-color="#fff900"/><stop offset=".418" stop-color="#87ff78"/><stop offset=".491" stop-color="#0afff5"/><stop offset=".556" stop-color="#008bff"/><stop offset=".814" stop-color="#000eff"/><stop offset=".88" stop-color="#00c"/><stop offset=".937" stop-color="#0000a4"/><stop offset="1" stop-color="#00008f"/></linearGradient>
<linearGradient id="b210" gradientUnits="userSpaceOnUse" x1="0" y1="35.8" x2="0" y2="244.5"><stop offset="0" stop-color="#800000"/><stop offset=".104" stop-color="#fd0000"/><stop offset=".237" stop-color="#ff7c00"/><stop offset=".354" stop-color="#fff900"/><stop offset=".419" stop-color="#87ff78"/><stop offset=".491" stop-color="#0afff5"/><stop offset=".557" stop-color="#008bff"/><stop offset=".816" stop-color="#000eff"/><stop offset=".88" stop-color="#00c"/><stop offset=".937" stop-color="#0000a4"/><stop offset="1" stop-color="#00008f"/></linearGradient>
<linearGradient id="b211" gradientUnits="userSpaceOnUse" x1="0" y1="34.8" x2="0" y2="243.9"><stop offset="0" stop-color="#800000"/><stop offset=".104" stop-color="#fd0000"/><stop offset=".237" stop-color="#ff7c00"/><stop offset=".354" stop-color="#fff900"/><stop offset=".419" stop-color="#87ff78"/><stop offset=".492" stop-color="#0afff5"/><stop offset=".557" stop-color="#008bff"/><stop offset=".817" stop-color="#000eff"/><stop offset=".88" stop-color="#00c"/><stop offset=".936" stop-color="#0000a4"/><stop offset="1" stop-color="#00008f"/></linearGradient>
<linearGradient id="b212" gradientUnits="userSpaceOnUse" x1="0" y1="33.9" x2="0" y2="243.3"><stop offset="0" stop-color="#800000"/><stop offset=".103" stop-color="#fd0000"/><stop offset=".237" stop-color="#ff7c00"/><stop offset=".355" stop-color="#fff900"/><stop offset=".42" stop-color="#87ff78"/><stop offset=".492" stop-color="#0afff5"/><stop offset=".558" stop-color="#008bff"/><stop offset=".818" stop-color="#000eff"/><stop offset=".88" stop-color="#00c"/><stop offset=".936" stop-color="#0000a4"/><stop offset="1" stop-color="#00008f"/></linearGradient>
<linearGradient id="b213" gradientUnits="userSpaceOnUse" x1="0" y1="33" x2="0" y2="242.7"><stop offset="0" stop-color="#800000"/><stop offset=".103" stop-color="#fd0000"/><stop offset=".236" stop-color="#ff7c00"/><stop offset=".355" stop-color="#fff900"/><stop offset=".421" stop-color="#87ff78"/><stop offset=".493" stop-color="#0afff5"/><stop offset=".559" stop-color="#008bff"/><stop offset=".819" stop-color="#000eff"/><stop offset=".879" stop-color="#00c"/><stop offset=".935" stop-color="#0000a4"/><stop offset="1" stop-color="#00008f"/></linearGradient>
<linearGradient id="b214" gradientUnits="userSpaceOnUse" x1="0" y1="32" x2="0" y2="242.1"><stop offset="0" stop-color="#800000"/><stop offset=".102" stop-color="#fd0000"/><stop offset=".236" stop-color="#ff7c00"/><stop offset=".356" stop-color="#fff900"/><stop offset=".421" stop-color="#87ff78"/><stop offset=".493" stop-color="#0afff5"/><stop offset=".559" stop-color="#008bff"/><stop offset=".821" stop-color="#000eff"/><stop offset=".879" stop-color="#00c"/><stop offset=".935" stop-color="#0000a4"/><stop offset="1" stop-color="#00008f"/></linearGradient>
<linearGradient id="b215" gradientUnits="userSpaceOnUse" x1="0" y1="31.1" x2="0" y2="241.5"><stop offset="0" stop-color="#800000"/><stop offset=".102" stop-color="#fd0000"/><stop offset=".236" stop-color="#ff7c00"/><stop offset=".356" stop-color="#fff900"/><stop offset=".422" stop-color="#87ff78"/><stop offset=".494" stop-color="#0afff5"/><stop offset=".56" stop-color="#008bff"/><stop offset=".822" stop-color="#000eff"/><stop offset=".879" stop-color="#00c"/><stop offset=".935" stop-color="#0000a4"/><stop offset="1" stop-color="#00008f"/></linearGradient>
<linearGradient id="b216" gradientUnits="userSpaceOnUse" x1="0" y1="30.2" x2="0" y2="240.9"><stop offset="0" stop-color="#800000"/><stop offset=".101" stop-color="#fd0000"/><stop offset=".235" stop-color="#ff7c00"/><stop offset=".357" stop-color="#fff900"/><stop offset=".423" stop-color="#87ff78"/><stop offset=".494" stop-color="#0afff5"/><stop offset=".56" stop-color="#008bff"/><stop offset=".823" stop-color="#000eff"/><stop offset=".879" stop-color="#00c"/><stop offset=".934" stop-color="#0000a4"/><stop offset="1" stop-color="#00008f"/></linearGradient>
<linearGradient id="b217" gradientUnits="userSpaceOnUse" x1="0" y1="29.2" x2="0" y2="240.3"><stop offset="0" stop-color="#800000"/><stop offset=".101" stop-color="#fd0000"/><stop offset=".235" stop-color="#ff7c00"/><stop offset=".357" stop-color="#fff900"/><stop offset=".423" stop-color="#87ff78"/><stop offset=".495" stop-color="#0afff5"/><stop offset=".561" stop-color="#008bff"/><stop offset=".824" stop-color="#000eff"/><stop offset=".879" stop-color="#00c"/><stop offset=".934" stop-color="#0000a4"/><stop offset="1" stop-color="#00008f"/></linearGradient>
<linearGradient id="b218" gradientUnits="userSpaceOnUse" x1="0" y1="28.3" x2="0" y2="239.7"><stop offset="0" stop-color="#800000"/><stop offset=".1" stop-color="#fd0000"/><stop offset=".235" stop-color="#ff7c00"/><stop offset=".358" stop-color="#fff900"/><stop offset=".424" stop-color="#87ff78"/><stop offset=".495" stop-color="#0afff5"/><stop offset=".562" stop-color="#008bff"/><stop offset=".826" stop-color="#000eff"/><stop offset=".88" stop-color="#00c"/><stop offset=".934" stop-color="#0000a4"/><stop offset="1" stop-color="#00008f"/></linearGradient>
<linearGradient id="b219" gradientUnits="userSpaceOnUse" x1="0" y1="27.3" x2="0" y2="239.1"><stop offset="0" stop-color="#800000"/><stop offset=".1" stop-color="#fd0000"/><stop offset=".234" stop-color="#ff7c00"/><stop offset=".358" stop-color="#fff900"/><stop offset=".425" stop-color="#87ff78"/><stop offset=".496" stop-color="#0afff5"/><stop offset=".562" stop-color="#008bff"/><stop offset=".828" stop-color="#000eff"/><stop offset=".882" stop-color="#00c"/><stop offset=".935" stop-color="#0000a4"/><stop offset="1" stop-color="#00008f"/></linearGradient>
<linearGradient id="b220" gradientUnits="userSpaceOnUse" x1="0" y1="26.4" x2="0" y2="238.5"><stop offset="0" stop-color="#800000"/><stop offset=".099" stop-color="#fd0000"/><stop offset=".234" stop-color="#ff7c00"/><stop offset=".359" stop-color="#fff900"/><stop offset=".425" stop-color="#87ff78"/><stop offset=".496" stop-color="#0afff5"/><stop offset=".563" stop-color="#008bff"/><stop offset=".83" stop-color="#000eff"/><stop offset=".883" stop-color="#00c"/><stop offset=".936" stop-color="#0000a4"/><stop offset="1" stop-color="#00008f"/></linearGradient>
<linearGradient id="b221" gradientUnits="userSpaceOnUse" x1="0" y1="25.5" x2="0" y2="237.9"><stop offset="0" stop-color="#800000"/><stop offset=".099" stop-color="#fd0000"/><stop offset=".234" stop-color="#ff7c00"/><stop offset=".359" stop-color="#fff900"/><stop offset=".426" stop-color="#87ff78"/><stop offset=".497" stop-color="#0afff5"/><stop offset=".564" stop-color="#008bff"/><stop offset=".832" stop-color="#000eff"/><stop offset=".885" stop-color="#00c"/><stop offset=".937" stop-color="#0000a4"/><stop offset="1" stop-color="#00008f"/></linearGradient>
<linearGradient id="b222" gradientUnits="userSpaceOnUse" x1="0" y1="24.5" x2="0" y2="237.3"><stop offset="0" stop-color="#800000"/><stop offset=".099" stop-color="#fd0000"/><stop offset=".234" stop-color="#ff7c00"/><stop offset=".36" stop-color="#fff900"/><stop offset=".426" stop-color="#87ff78"/><stop offset=".497" stop-color="#0afff5"/><stop offset=".564" stop-color="#008bff"/><stop offset=".834" stop-color="#000eff"/><stop offset=".886" stop-color="#00c"/><stop offset=".938" stop-color="#0000a4"/><stop offset="1" stop-color="#00008f"/></linearGradient>
<linearGradient id="b223" gradientUnits="userSpaceOnUse" x1="0" y1="23.6" x2="0" y2="236.7"><stop offset="0" stop-color="#800000"/><stop offset=".098" stop-color="#fd0000"/><stop offset=".233" stop-color="#ff7c00"/><stop offset=".36" stop-color="#fff900"/><stop offset=".427" stop-color="#87ff78"/><stop offset=".498" stop-color="#0afff5"/><stop offset=".565" stop-color="#008bff"/><stop offset=".835" stop-color="#000eff"/><stop offset=".888" stop-color="#00c"/><stop offset=".939" stop-color="#0000a4"/><stop offset="1" stop-color="#00008f"/></linearGradient>
<linearGradient id="b224" gradientUnits="userSpaceOnUse" x1="0" y1="22.7" x2="0" y2="236.1"><stop offset="0" stop-color="#800000"/><stop offset=".098" stop-color="#fd0000"/><stop offset=".233" stop-color="#ff7c00"/><stop offset=".361" stop-color="#fff900"/><stop offset=".428" stop-color="#87ff78"/><stop offset=".498" stop-color="#0afff5"/><stop offset=".565" stop-color="#008bff"/><stop offset=".837" stop-color="#000eff"/><stop offset=".89" stop-color="#00c"/><stop offset=".94" stop-color="#0000a4"/><stop offset="1" stop-color="#00008f"/></linearGradient>
<linearGradient id="b225" gradientUnits="userSpaceOnUse" x1="0" y1="21.7" x2="0" y2="235.5"><stop offset="0" stop-color="#800000"/><stop offset=".097" stop-color="#fd0000"/><stop offset=".233" stop-color="#ff7c00"/><stop offset=".361" stop-color="#fff900"/><stop offset=".428" stop-color="#87ff78"/><stop offset=".499" stop-color="#0afff5"/><stop offset=".566" stop-color="#008bff"/><stop offset=".839" stop-color="#000eff"/><stop offset=".891" stop-color="#00c"/><stop offset=".942" stop-color="#0000a4"/><stop offset="1" stop-color="#00008f"/></linearGradient>
<linearGradient id="b226" gradientUnits="userSpaceOnUse" x1="0" y1="20.8" x2="0" y2="234.9"><stop offset="0" stop-color="#800000"/><stop offset=".097" stop-color="#fd0000"/><stop offset=".233" stop-color="#ff7c00"/><stop offset=".362" stop-color="#fff900"/><stop offset=".429" stop-color="#87ff78"/><stop offset=".499" stop-color="#0afff5"/><stop offset=".567" stop-color="#008bff"/><stop offset=".841" stop-color="#000eff"/><stop offset=".893" stop-color="#00c"/><stop offset=".943" stop-color="#0000a4"/><stop offset="1" stop-color="#00008f"/></linearGradient>
<linearGradient id="b227" gradientUnits="userSpaceOnUse" x1="0" y1="19.8" x2="0" y2="234.3"><stop offset="0" stop-color="#800000"/><stop offset=".096" stop-color="#fd0000"/><stop offset=".232" stop-color="#ff7c00"/><stop offset=".362" stop-color="#fff900"/><stop offset=".429" stop-color="#87ff78"/><stop offset=".5" stop-color="#0afff5"/><stop offset=".567" stop-color="#008bff"/><stop offset=".843" stop-color="#000eff"/><stop offset=".894" stop-color="#00c"/><stop offset=".944" stop-color="#0000a4"/><stop offset="1" stop-color="#00008f"/></linearGradient>
<linearGradient id="b228" gradientUnits="userSpaceOnUse" x1="0" y1="18.9" x2="0" y2="233.7"><stop offset="0" stop-color="#800000"/><stop offset=".096" stop-color="#fd0000"/><stop offset=".232" stop-color="#ff7c00"/><stop offset=".363" stop-color="#fff900"/><stop offset=".43" stop-color="#87ff78"/><stop offset=".5" stop-color="#0afff5"/><stop offset=".568" stop-color="#008bff"/><stop offset=".845" stop-color="#000eff"/><stop offset=".896" stop-color="#00c"/><stop offset=".945" stop-color="#0000a4"/><stop offset="1" stop-color="#00008f"/></linearGradient>
<linearGradient id="b229" gradientUnits="userSpaceOnUse" x1="0" y1="18" x2="0" y2="233.1"><stop offset="0" stop-color="#800000"/><stop offset=".095" stop-color="#fd0000"/><stop offset=".232" stop-color="#ff7c00"/><stop offset=".363" stop-color="#fff900"/><stop offset=".431" stop-color="#87ff78"/><stop offset=".501" stop-color="#0afff5"/><stop offset=".568" stop-color="#008bff"/><stop offset=".847" stop-color="#000eff"/><stop offset=".898" stop-color="#00c"/><stop offset=".946" stop-color="#0000a4"/><stop offset="1" stop-color="#00008f"/></linearGradient>
<linearGradient id="b230" gradientUnits="userSpaceOnUse" x1="0" y1="17" x2="0" y2="232.5"><stop offset="0" stop-color="#800000"/><stop offset=".095" stop-color="#fd0000"/><stop offset=".231" stop-color="#ff7c00"/><stop offset=".364" stop-color="#fff900"/><stop offset=".431" stop-color="#87ff78"/><stop offset=".501" stop-color="#0afff5"/><stop offset=".569" stop-color="#008bff"/><stop offset=".849" stop-color="#000eff"/><stop offset=".9" stop-color="#00c"/><stop offset=".947" stop-color="#0000a4"/><stop offset="1" stop-color="#00008f"/></linearGradient>
<linearGradient id="b231" gradientUnits="userSpaceOnUse" x1="0" y1="16.1" x2="0" y2="231.9"><stop offset="0" stop-color="#800000"/><stop offset=".095" stop-color="#fd0000"/><stop offset=".231" stop-color="#ff7c00"/><stop offset=".364" stop-color="#fff900"/><stop offset=".432" stop-color="#87ff78"/><stop offset=".502" stop-color="#0afff5"/><stop offset=".57" stop-color="#008bff"/><stop offset=".85" stop-color="#000eff"/><stop offset=".901" stop-color="#00c"/><stop offset=".948" stop-color="#0000a4"/><stop offset="1" stop-color="#00008f"/></linearGradient>
<linearGradient id="b232" gradientUnits="userSpaceOnUse" x1="0" y1="15.2" x2="0" y2="231.3"><stop offset="0" stop-color="#800000"/><stop offset=".094" stop-color="#fd0000"/><stop offset=".231" stop-color="#ff7c00"/><stop offset=".364" stop-color="#fff900"/><stop offset=".433" stop-color="#87ff78"/><stop offset=".502" stop-color="#0afff5"/><stop offset=".57" stop-color="#008bff"/><stop offset=".852" stop-color="#000eff"/><stop offset=".903" stop-color="#00c"/><stop offset=".949" stop-color="#0000a4"/><stop offset="1" stop-color="#00008f"/></linearGradient>
<linearGradient id="b233" gradientUnits="userSpaceOnUse" x1="0" y1="14.2" x2="0" y2="230.7"><stop offset="0" stop-color="#800000"/><stop offset=".094" stop-color="#fd0000"/><stop offset=".231" stop-color="#ff7c00"/><stop offset=".365" stop-color="#fff900"/><stop offset=".433" stop-color="#87ff78"/><stop offset=".502" stop-color="#0afff5"/><stop offset=".571" stop-color="#008bff"/><stop offset=".854" stop-color="#000eff"/><stop offset=".905" stop-color="#00c"/><stop offset=".95" stop-color="#0000a4"/><stop offset="1" stop-color="#00008f"/></linearGradient>
<linearGradient id="b234" gradientUnits="userSpaceOnUse" x1="0" y1="13.3" x2="0" y2="230.1"><stop offset="0" stop-color="#800000"/><stop offset=".093" stop-color="#fd0000"/><stop offset=".23" stop-color="#ff7c00"/><stop offset=".365" stop-color="#fff900"/><stop offset=".434" stop-color="#87ff78"/><stop offset=".503" stop-color="#0afff5"/><stop offset=".571" stop-color="#008bff"/><stop offset=".856" stop-color="#000eff"/><stop offset=".907" stop-color="#00c"/><stop offset=".951" stop-color="#0000a4"/><stop offset="1" stop-color="#00008f"/></linearGradient>
<linearGradient id="b235" gradientUnits="userSpaceOnUse" x1="0" y1="12.3" x2="0" y2="229.5"><stop offset="0" stop-color="#800000"/><stop offset=".093" stop-color="#fd0000"/><stop offset=".23" stop-color="#ff7c00"/><stop offset=".366" stop-color="#fff900"/><stop offset=".434" stop-color="#87ff78"/><stop offset=".503" stop-color="#0afff5"/><stop offset=".572" stop-color="#008bff"/><stop offset=".858" stop-color="#000eff"/><stop offset=".908" stop-color="#00c"/><stop offset=".952" stop-color="#0000a4"/><stop offset="1" stop-color="#00008f"/></linearGradient>
<linearGradient id="b236" gradientUnits="userSpaceOnUse" x1="0" y1="11.4" x2="0" y2="228.9"><stop offset="0" stop-color="#800000"/><stop offset=".092" stop-color="#fd0000"/><stop offset=".23" stop-color="#ff7c00"/><stop offset=".366" stop-color="#fff900"/><stop offset=".435" stop-color="#87ff78"/><stop offset=".504" stop-color="#0afff5"/><stop offset=".573" stop-color="#008bff"/><stop offset=".86" stop-color="#000eff"/><stop offset=".91" stop-color="#00c"/><stop offset=".953" stop-color="#0000a4"/><stop offset="1" stop-color="#00008f"/></linearGradient>
<linearGradient id="b237" gradientUnits="userSpaceOnUse" x1="0" y1="10.5" x2="0" y2="228.3"><stop offset="0" stop-color="#800000"/><stop offset=".092" stop-color="#fd0000"/><stop offset=".229" stop-color="#ff7c00"/><stop offset=".367" stop-color="#fff900"/><stop offset=".435" stop-color="#87ff78"/><stop offset=".504" stop-color="#0afff5"/><stop offset=".573" stop-color="#008bff"/><stop offset=".861" stop-color="#000eff"/><stop offset=".912" stop-color="#00c"/><stop offset=".954" stop-color="#0000a4"/><stop offset="1" stop-color="#00008f"/></linearGradient>
<filter id="bl" x="-10%" y="-10%" width="120%" height="120%"><feGaussianBlur stdDeviation=".7"/></filter>
</defs>
<rect width="617" height="272" fill="#fff"/>
<!-- plot a -->
<path d="M42.4 202.1L42.4 95.4" stroke="#dedede" stroke-width="0.8" fill="none"/>
<path d="M148.5 251.5L42.4 202.1" stroke="#dedede" stroke-width="0.8" fill="none"/>
<path d="M70.2 194.5L70.2 87.8" stroke="#dedede" stroke-width="0.8" fill="none"/>
<path d="M176.3 243.9L70.2 194.5" stroke="#dedede" stroke-width="0.8" fill="none"/>
<path d="M98 186.9L98 80.2" stroke="#dedede" stroke-width="0.8" fill="none"/>
<path d="M204.1 236.3L98 186.9" stroke="#dedede" stroke-width="0.8" fill="none"/>
<path d="M125.7 179.2L125.7 72.5" stroke="#dedede" stroke-width="0.8" fill="none"/>
<path d="M231.8 228.6L125.7 179.2" stroke="#dedede" stroke-width="0.8" fill="none"/>
<path d="M153.5 171.6L153.5 64.9" stroke="#dedede" stroke-width="0.8" fill="none"/>
<path d="M259.6 221L153.5 171.6" stroke="#dedede" stroke-width="0.8" fill="none"/>
<path d="M181.3 164L181.3 57.3" stroke="#dedede" stroke-width="0.8" fill="none"/>
<path d="M287.4 213.4L181.3 164" stroke="#dedede" stroke-width="0.8" fill="none"/>
<path d="M287.4 213.4L287.4 106.7" stroke="#dedede" stroke-width="0.8" fill="none"/>
<path d="M148.5 251.5L287.4 213.4" stroke="#dedede" stroke-width="0.8" fill="none"/>
<path d="M252 196.9L252 90.2" stroke="#dedede" stroke-width="0.8" fill="none"/>
<path d="M113.1 235L252 196.9" stroke="#dedede" stroke-width="0.8" fill="none"/>
<path d="M216.7 180.5L216.7 73.8" stroke="#dedede" stroke-width="0.8" fill="none"/>
<path d="M77.8 218.6L216.7 180.5" stroke="#dedede" stroke-width="0.8" fill="none"/>
<path d="M181.3 164L181.3 57.3" stroke="#dedede" stroke-width="0.8" fill="none"/>
<path d="M42.4 202.1L181.3 164" stroke="#dedede" stroke-width="0.8" fill="none"/>
<path d="M42.4 202.1L181.3 164" stroke="#dedede" stroke-width="0.8" fill="none"/>
<path d="M181.3 164L287.4 213.4" stroke="#dedede" stroke-width="0.8" fill="none"/>
<path d="M42.4 180.8L181.3 142.7" stroke="#dedede" stroke-width="0.8" fill="none"/>
<path d="M181.3 142.7L287.4 192.1" stroke="#dedede" stroke-width="0.8" fill="none"/>
<path d="M42.4 159.4L181.3 121.3" stroke="#dedede" stroke-width="0.8" fill="none"/>
<path d="M181.3 121.3L287.4 170.7" stroke="#dedede" stroke-width="0.8" fill="none"/>
<path d="M42.4 138.1L181.3 100" stroke="#dedede" stroke-width="0.8" fill="none"/>
<path d="M181.3 100L287.4 149.4" stroke="#dedede" stroke-width="0.8" fill="none"/>
<path d="M42.4 116.7L181.3 78.6" stroke="#dedede" stroke-width="0.8" fill="none"/>
<path d="M181.3 78.6L287.4 128" stroke="#dedede" stroke-width="0.8" fill="none"/>
<path d="M42.4 95.4L181.3 57.3" stroke="#dedede" stroke-width="0.8" fill="none"/>
<path d="M181.3 57.3L287.4 106.7" stroke="#dedede" stroke-width="0.8" fill="none"/>
<path d="M181.3 164L181.3 57.3" stroke="#dedede" stroke-width="0.8" fill="none"/>
<path d="M287.4 213.4L287.4 106.7" stroke="#dedede" stroke-width="0.8" fill="none"/>
<path d="M42.4 95.4L181.3 57.3" stroke="#dedede" stroke-width="0.8" fill="none"/>
<path d="M181.3 57.3L287.4 106.7" stroke="#dedede" stroke-width="0.8" fill="none"/>
<path d="M148.5 251.5L287.4 213.4L183.4 165L44.5 203.1z" fill="#00008f"/>
<g clip-path="url(#ca)">
<rect x="84" y="0" width="1.4" height="272" fill="url(#a0)"/>
<rect x="85" y="0" width="1.4" height="272" fill="url(#a1)"/>
<rect x="86" y="0" width="1.4" height="272" fill="url(#a2)"/>
<rect x="87" y="0" width="1.4" height="272" fill="url(#a3)"/>
<rect x="88" y="0" width="1.4" height="272" fill="url(#a4)"/>
<rect x="89" y="0" width="1.4" height="272" fill="url(#a5)"/>
<rect x="90" y="0" width="1.4" height="272" fill="url(#a6)"/>
<rect x="91" y="0" width="1.4" height="272" fill="url(#a7)"/>
<rect x="92" y="0" width="1.4" height="272" fill="url(#a8)"/>
<rect x="93" y="0" width="1.4" height="272" fill="url(#a9)"/>
<rect x="94" y="0" width="1.4" height="272" fill="url(#a10)"/>
<rect x="95" y="0" width="1.4" height="272" fill="url(#a11)"/>
<rect x="96" y="0" width="1.4" height="272" fill="url(#a12)"/>
<rect x="97" y="0" width="1.4" height="272" fill="url(#a13)"/>
<rect x="98" y="0" width="1.4" height="272" fill="url(#a14)"/>
<rect x="99" y="0" width="1.4" height="272" fill="url(#a15)"/>
<rect x="100" y="0" width="1.4" height="272" fill="url(#a16)"/>
<rect x="101" y="0" width="1.4" height="272" fill="url(#a17)"/>
<rect x="102" y="0" width="1.4" height="272" fill="url(#a18)"/>
<rect x="103" y="0" width="1.4" height="272" fill="url(#a19)"/>
<rect x="104" y="0" width="1.4" height="272" fill="url(#a20)"/>
<rect x="105" y="0" width="1.4" height="272" fill="url(#a21)"/>
<rect x="106" y="0" width="1.4" height="272" fill="url(#a22)"/>
<rect x="107" y="0" width="1.4" height="272" fill="url(#a23)"/>
<rect x="108" y="0" width="1.4" height="272" fill="url(#a24)"/>
<rect x="109" y="0" width="1.4" height="272" fill="url(#a25)"/>
<rect x="110" y="0" width="1.4" height="272" fill="url(#a26)"/>
<rect x="111" y="0" width="1.4" height="272" fill="url(#a27)"/>
<rect x="112" y="0" width="1.4" height="272" fill="url(#a28)"/>
<rect x="113" y="0" width="1.4" height="272" fill="url(#a29)"/>
<rect x="114" y="0" width="1.4" height="272" fill="url(#a30)"/>
<rect x="115" y="0" width="1.4" height="272" fill="url(#a31)"/>
<rect x="116" y="0" width="1.4" height="272" fill="url(#a32)"/>
<rect x="117" y="0" width="1.4" height="272" fill="url(#a33)"/>
<rect x="118" y="0" width="1.4" height="272" fill="url(#a34)"/>
<rect x="119" y="0" width="1.4" height="272" fill="url(#a35)"/>
<rect x="120" y="0" width="1.4" height="272" fill="url(#a36)"/>
<rect x="121" y="0" width="1.4" height="272" fill="url(#a37)"/>
<rect x="122" y="0" width="1.4" height="272" fill="url(#a38)"/>
<rect x="123" y="0" width="1.4" height="272" fill="url(#a39)"/>
<rect x="124" y="0" width="1.4" height="272" fill="url(#a40)"/>
<rect x="125" y="0" width="1.4" height="272" fill="url(#a41)"/>
<rect x="126" y="0" width="1.4" height="272" fill="url(#a42)"/>
<rect x="127" y="0" width="1.4" height="272" fill="url(#a43)"/>
<rect x="128" y="0" width="1.4" height="272" fill="url(#a44)"/>
<rect x="129" y="0" width="1.4" height="272" fill="url(#a45)"/>
<rect x="130" y="0" width="1.4" height="272" fill="url(#a46)"/>
<rect x="131" y="0" width="1.4" height="272" fill="url(#a47)"/>
<rect x="132" y="0" width="1.4" height="272" fill="url(#a48)"/>
<rect x="133" y="0" width="1.4" height="272" fill="url(#a49)"/>
<rect x="134" y="0" width="1.4" height="272" fill="url(#a50)"/>
<rect x="135" y="0" width="1.4" height="272" fill="url(#a51)"/>
<rect x="136" y="0" width="1.4" height="272" fill="url(#a52)"/>
<rect x="137" y="0" width="1.4" height="272" fill="url(#a53)"/>
<rect x="138" y="0" width="1.4" height="272" fill="url(#a54)"/>
<rect x="139" y="0" width="1.4" height="272" fill="url(#a55)"/>
<rect x="140" y="0" width="1.4" height="272" fill="url(#a56)"/>
<rect x="141" y="0" width="1.4" height="272" fill="url(#a57)"/>
<rect x="142" y="0" width="1.4" height="272" fill="url(#a58)"/>
<rect x="143" y="0" width="1.4" height="272" fill="url(#a59)"/>
<rect x="144" y="0" width="1.4" height="272" fill="url(#a60)"/>
<rect x="145" y="0" width="1.4" height="272" fill="url(#a61)"/>
<rect x="146" y="0" width="1.4" height="272" fill="url(#a62)"/>
<rect x="147" y="0" width="1.4" height="272" fill="url(#a63)"/>
<rect x="148" y="0" width="1.4" height="272" fill="url(#a64)"/>
<rect x="149" y="0" width="1.4" height="272" fill="url(#a65)"/>
<rect x="150" y="0" width="1.4" height="272" fill="url(#a66)"/>
<rect x="151" y="0" width="1.4" height="272" fill="url(#a67)"/>
<rect x="152" y="0" width="1.4" height="272" fill="url(#a68)"/>
<rect x="153" y="0" width="1.4" height="272" fill="url(#a69)"/>
<rect x="154" y="0" width="1.4" height="272" fill="url(#a70)"/>
<rect x="155" y="0" width="1.4" height="272" fill="url(#a71)"/>
<rect x="156" y="0" width="1.4" height="272" fill="url(#a72)"/>
<rect x="157" y="0" width="1.4" height="272" fill="url(#a73)"/>
<rect x="158" y="0" width="1.4" height="272" fill="url(#a74)"/>
<rect x="159" y="0" width="1.4" height="272" fill="url(#a75)"/>
<rect x="160" y="0" width="1.4" height="272" fill="url(#a76)"/>
<rect x="161" y="0" width="1.4" height="272" fill="url(#a77)"/>
<rect x="162" y="0" width="1.4" height="272" fill="url(#a78)"/>
<rect x="163" y="0" width="1.4" height="272" fill="url(#a79)"/>
<rect x="164" y="0" width="1.4" height="272" fill="url(#a80)"/>
<rect x="165" y="0" width="1.4" height="272" fill="url(#a81)"/>
<rect x="166" y="0" width="1.4" height="272" fill="url(#a82)"/>
<rect x="167" y="0" width="1.4" height="272" fill="url(#a83)"/>
<rect x="168" y="0" width="1.4" height="272" fill="url(#a84)"/>
<rect x="169" y="0" width="1.4" height="272" fill="url(#a85)"/>
<rect x="170" y="0" width="1.4" height="272" fill="url(#a86)"/>
<rect x="171" y="0" width="1.4" height="272" fill="url(#a87)"/>
<rect x="172" y="0" width="1.4" height="272" fill="url(#a88)"/>
<rect x="173" y="0" width="1.4" height="272" fill="url(#a89)"/>
<rect x="174" y="0" width="1.4" height="272" fill="url(#a90)"/>
<rect x="175" y="0" width="1.4" height="272" fill="url(#a91)"/>
<rect x="176" y="0" width="1.4" height="272" fill="url(#a92)"/>
<rect x="177" y="0" width="1.4" height="272" fill="url(#a93)"/>
<rect x="178" y="0" width="1.4" height="272" fill="url(#a94)"/>
<rect x="179" y="0" width="1.4" height="272" fill="url(#a95)"/>
<rect x="180" y="0" width="1.4" height="272" fill="url(#a96)"/>
<rect x="181" y="0" width="1.4" height="272" fill="url(#a97)"/>
<rect x="182" y="0" width="1.4" height="272" fill="url(#a98)"/>
<rect x="183" y="0" width="1.4" height="272" fill="url(#a99)"/>
<rect x="184" y="0" width="1.4" height="272" fill="url(#a100)"/>
<rect x="185" y="0" width="1.4" height="272" fill="url(#a101)"/>
<rect x="186" y="0" width="1.4" height="272" fill="url(#a102)"/>
<rect x="187" y="0" width="1.4" height="272" fill="url(#a103)"/>
<rect x="188" y="0" width="1.4" height="272" fill="url(#a104)"/>
<rect x="189" y="0" width="1.4" height="272" fill="url(#a105)"/>
<rect x="190" y="0" width="1.4" height="272" fill="url(#a106)"/>
<rect x="191" y="0" width="1.4" height="272" fill="url(#a107)"/>
<rect x="192" y="0" width="1.4" height="272" fill="url(#a108)"/>
<rect x="193" y="0" width="1.4" height="272" fill="url(#a109)"/>
<rect x="194" y="0" width="1.4" height="272" fill="url(#a110)"/>
<rect x="195" y="0" width="1.4" height="272" fill="url(#a111)"/>
<rect x="196" y="0" width="1.4" height="272" fill="url(#a112)"/>
<rect x="197" y="0" width="1.4" height="272" fill="url(#a113)"/>
<rect x="198" y="0" width="1.4" height="272" fill="url(#a114)"/>
<rect x="199" y="0" width="1.4" height="272" fill="url(#a115)"/>
<rect x="200" y="0" width="1.4" height="272" fill="url(#a116)"/>
<rect x="201" y="0" width="1.4" height="272" fill="url(#a117)"/>
<rect x="202" y="0" width="1.4" height="272" fill="url(#a118)"/>
<rect x="203" y="0" width="1.4" height="272" fill="url(#a119)"/>
<rect x="204" y="0" width="1.4" height="272" fill="url(#a120)"/>
<rect x="205" y="0" width="1.4" height="272" fill="url(#a121)"/>
<rect x="206" y="0" width="1.4" height="272" fill="url(#a122)"/>
<rect x="207" y="0" width="1.4" height="272" fill="url(#a123)"/>
<rect x="208" y="0" width="1.4" height="272" fill="url(#a124)"/>
<rect x="209" y="0" width="1.4" height="272" fill="url(#a125)"/>
<rect x="210" y="0" width="1.4" height="272" fill="url(#a126)"/>
<rect x="211" y="0" width="1.4" height="272" fill="url(#a127)"/>
<rect x="212" y="0" width="1.4" height="272" fill="url(#a128)"/>
<rect x="213" y="0" width="1.4" height="272" fill="url(#a129)"/>
<rect x="214" y="0" width="1.4" height="272" fill="url(#a130)"/>
<rect x="215" y="0" width="1.4" height="272" fill="url(#a131)"/>
<rect x="216" y="0" width="1.4" height="272" fill="url(#a132)"/>
<rect x="217" y="0" width="1.4" height="272" fill="url(#a133)"/>
<rect x="218" y="0" width="1.4" height="272" fill="url(#a134)"/>
<rect x="219" y="0" width="1.4" height="272" fill="url(#a135)"/>
<rect x="220" y="0" width="1.4" height="272" fill="url(#a136)"/>
<rect x="221" y="0" width="1.4" height="272" fill="url(#a137)"/>
<rect x="222" y="0" width="1.4" height="272" fill="url(#a138)"/>
<rect x="223" y="0" width="1.4" height="272" fill="url(#a139)"/>
<rect x="224" y="0" width="1.4" height="272" fill="url(#a140)"/>
<rect x="225" y="0" width="1.4" height="272" fill="url(#a141)"/>
<rect x="226" y="0" width="1.4" height="272" fill="url(#a142)"/>
<rect x="227" y="0" width="1.4" height="272" fill="url(#a143)"/>
<rect x="228" y="0" width="1.4" height="272" fill="url(#a144)"/>
<rect x="229" y="0" width="1.4" height="272" fill="url(#a145)"/>
<rect x="230" y="0" width="1.4" height="272" fill="url(#a146)"/>
<rect x="231" y="0" width="1.4" height="272" fill="url(#a147)"/>
<rect x="232" y="0" width="1.4" height="272" fill="url(#a148)"/>
<rect x="233" y="0" width="1.4" height="272" fill="url(#a149)"/>
<rect x="234" y="0" width="1.4" height="272" fill="url(#a150)"/>
<rect x="235" y="0" width="1.4" height="272" fill="url(#a151)"/>
<linearGradient id="sg" gradientUnits="userSpaceOnUse" x1="141" y1="0" x2="159" y2="0"><stop offset="0" stop-color="#ff8000" stop-opacity=".38"/><stop offset="1" stop-color="#ff8000" stop-opacity="0"/></linearGradient>
<path d="M141 125.4L142.5 121L144.1 116.6L147 120L150 123.2L152.5 126L155.1 128.4L160 129L160 150L153 143.5L148.7 139L144 134.5L141.3 131.5z" fill="url(#sg)"/>
</g>
<path d="M42.4 202.1L42.4 95.4" stroke="#484848" stroke-width="0.8" fill="none"/>
<path d="M42.4 202.1L148.5 251.5" stroke="#484848" stroke-width="0.8" fill="none"/>
<path d="M148.5 251.5L287.4 213.4" stroke="#484848" stroke-width="0.8" fill="none"/>
<path d="M42.4 202.1L39.4 200.4" stroke="#484848" stroke-width="0.8" fill="none"/>
<path d="M42.4 180.8L39.4 179.1" stroke="#484848" stroke-width="0.8" fill="none"/>
<path d="M42.4 159.4L39.4 157.7" stroke="#484848" stroke-width="0.8" fill="none"/>
<path d="M42.4 138.1L39.4 136.4" stroke="#484848" stroke-width="0.8" fill="none"/>
<path d="M42.4 116.7L39.4 115" stroke="#484848" stroke-width="0.8" fill="none"/>
<path d="M42.4 95.4L39.4 93.7" stroke="#484848" stroke-width="0.8" fill="none"/>
<path d="M148.5 251.5L146.2 253.1" stroke="#484848" stroke-width="0.8" fill="none"/>
<path d="M113.1 235L110.8 236.6" stroke="#484848" stroke-width="0.8" fill="none"/>
<path d="M77.8 218.6L75.5 220.2" stroke="#484848" stroke-width="0.8" fill="none"/>
<path d="M42.4 202.1L40.1 203.7" stroke="#484848" stroke-width="0.8" fill="none"/>
<path d="M148.5 251.5L150.7 253.3" stroke="#484848" stroke-width="0.8" fill="none"/>
<path d="M176.3 243.9L178.5 245.7" stroke="#484848" stroke-width="0.8" fill="none"/>
<path d="M204.1 236.3L206.3 238.1" stroke="#484848" stroke-width="0.8" fill="none"/>
<path d="M231.8 228.6L234 230.4" stroke="#484848" stroke-width="0.8" fill="none"/>
<path d="M259.6 221L261.8 222.8" stroke="#484848" stroke-width="0.8" fill="none"/>
<path d="M287.4 213.4L289.6 215.2" stroke="#484848" stroke-width="0.8" fill="none"/>
<!-- plot b -->
<path d="M347.2 202.1L347.2 93" stroke="#dedede" stroke-width="0.8" fill="none"/>
<path d="M456.6 252.3L347.2 202.1" stroke="#dedede" stroke-width="0.8" fill="none"/>
<path d="M375.8 194.4L375.8 85.3" stroke="#dedede" stroke-width="0.8" fill="none"/>
<path d="M485.2 244.6L375.8 194.4" stroke="#dedede" stroke-width="0.8" fill="none"/>
<path d="M404.4 186.7L404.4 77.6" stroke="#dedede" stroke-width="0.8" fill="none"/>
<path d="M513.8 236.9L404.4 186.7" stroke="#dedede" stroke-width="0.8" fill="none"/>
<path d="M432.9 179L432.9 69.9" stroke="#dedede" stroke-width="0.8" fill="none"/>
<path d="M542.3 229.2L432.9 179" stroke="#dedede" stroke-width="0.8" fill="none"/>
<path d="M461.5 171.3L461.5 62.2" stroke="#dedede" stroke-width="0.8" fill="none"/>
<path d="M570.9 221.5L461.5 171.3" stroke="#dedede" stroke-width="0.8" fill="none"/>
<path d="M490.1 163.6L490.1 54.5" stroke="#dedede" stroke-width="0.8" fill="none"/>
<path d="M599.5 213.8L490.1 163.6" stroke="#dedede" stroke-width="0.8" fill="none"/>
<path d="M599.5 213.8L599.5 104.7" stroke="#dedede" stroke-width="0.8" fill="none"/>
<path d="M456.6 252.3L599.5 213.8" stroke="#dedede" stroke-width="0.8" fill="none"/>
<path d="M573.8 202L573.8 92.9" stroke="#dedede" stroke-width="0.8" fill="none"/>
<path d="M430.9 240.5L573.8 202" stroke="#dedede" stroke-width="0.8" fill="none"/>
<path d="M548.1 190.2L548.1 81.1" stroke="#dedede" stroke-width="0.8" fill="none"/>
<path d="M405.2 228.7L548.1 190.2" stroke="#dedede" stroke-width="0.8" fill="none"/>
<path d="M522.5 178.4L522.5 69.3" stroke="#dedede" stroke-width="0.8" fill="none"/>
<path d="M379.6 216.9L522.5 178.4" stroke="#dedede" stroke-width="0.8" fill="none"/>
<path d="M496.8 166.7L496.8 57.6" stroke="#dedede" stroke-width="0.8" fill="none"/>
<path d="M353.9 205.2L496.8 166.7" stroke="#dedede" stroke-width="0.8" fill="none"/>
<path d="M347.2 202.1L490.1 163.6" stroke="#dedede" stroke-width="0.8" fill="none"/>
<path d="M490.1 163.6L599.5 213.8" stroke="#dedede" stroke-width="0.8" fill="none"/>
<path d="M347.2 183.9L490.1 145.4" stroke="#dedede" stroke-width="0.8" fill="none"/>
<path d="M490.1 145.4L599.5 195.6" stroke="#dedede" stroke-width="0.8" fill="none"/>
<path d="M347.2 165.7L490.1 127.2" stroke="#dedede" stroke-width="0.8" fill="none"/>
<path d="M490.1 127.2L599.5 177.4" stroke="#dedede" stroke-width="0.8" fill="none"/>
<path d="M347.2 147.6L490.1 109" stroke="#dedede" stroke-width="0.8" fill="none"/>
<path d="M490.1 109L599.5 159.2" stroke="#dedede" stroke-width="0.8" fill="none"/>
<path d="M347.2 129.4L490.1 90.9" stroke="#dedede" stroke-width="0.8" fill="none"/>
<path d="M490.1 90.9L599.5 141.1" stroke="#dedede" stroke-width="0.8" fill="none"/>
<path d="M347.2 111.2L490.1 72.7" stroke="#dedede" stroke-width="0.8" fill="none"/>
<path d="M490.1 72.7L599.5 122.9" stroke="#dedede" stroke-width="0.8" fill="none"/>
<path d="M347.2 93L490.1 54.5" stroke="#dedede" stroke-width="0.8" fill="none"/>
<path d="M490.1 54.5L599.5 104.7" stroke="#dedede" stroke-width="0.8" fill="none"/>
<path d="M490.1 163.6L490.1 54.5" stroke="#dedede" stroke-width="0.8" fill="none"/>
<path d="M599.5 213.8L599.5 104.7" stroke="#dedede" stroke-width="0.8" fill="none"/>
<path d="M347.2 93L490.1 54.5" stroke="#dedede" stroke-width="0.8" fill="none"/>
<path d="M490.1 54.5L599.5 104.7" stroke="#dedede" stroke-width="0.8" fill="none"/>
<g clip-path="url(#cb)">
<rect x="355" y="90" width="250" height="170" fill="#00008f"/>
<rect x="362" y="0" width="1.4" height="272" fill="url(#b0)"/>
<rect x="363" y="0" width="1.4" height="272" fill="url(#b1)"/>
<rect x="364" y="0" width="1.4" height="272" fill="url(#b2)"/>
<rect x="365" y="0" width="1.4" height="272" fill="url(#b3)"/>
<rect x="366" y="0" width="1.4" height="272" fill="url(#b4)"/>
<rect x="367" y="0" width="1.4" height="272" fill="url(#b5)"/>
<rect x="368" y="0" width="1.4" height="272" fill="url(#b6)"/>
<rect x="369" y="0" width="1.4" height="272" fill="url(#b7)"/>
<rect x="370" y="0" width="1.4" height="272" fill="url(#b8)"/>
<rect x="371" y="0" width="1.4" height="272" fill="url(#b9)"/>
<rect x="372" y="0" width="1.4" height="272" fill="url(#b10)"/>
<rect x="373" y="0" width="1.4" height="272" fill="url(#b11)"/>
<rect x="374" y="0" width="1.4" height="272" fill="url(#b12)"/>
<rect x="375" y="0" width="1.4" height="272" fill="url(#b13)"/>
<rect x="376" y="0" width="1.4" height="272" fill="url(#b14)"/>
<rect x="377" y="0" width="1.4" height="272" fill="url(#b15)"/>
<rect x="378" y="0" width="1.4" height="272" fill="url(#b16)"/>
<rect x="379" y="0" width="1.4" height="272" fill="url(#b17)"/>
<rect x="380" y="0" width="1.4" height="272" fill="url(#b18)"/>
<rect x="381" y="0" width="1.4" height="272" fill="url(#b19)"/>
<rect x="382" y="0" width="1.4" height="272" fill="url(#b20)"/>
<rect x="383" y="0" width="1.4" height="272" fill="url(#b21)"/>
<rect x="384" y="0" width="1.4" height="272" fill="url(#b22)"/>
<rect x="385" y="0" width="1.4" height="272" fill="url(#b23)"/>
<rect x="386" y="0" width="1.4" height="272" fill="url(#b24)"/>
<rect x="387" y="0" width="1.4" height="272" fill="url(#b25)"/>
<rect x="388" y="0" width="1.4" height="272" fill="url(#b26)"/>
<rect x="389" y="0" width="1.4" height="272" fill="url(#b27)"/>
<rect x="390" y="0" width="1.4" height="272" fill="url(#b28)"/>
<rect x="391" y="0" width="1.4" height="272" fill="url(#b29)"/>
<rect x="392" y="0" width="1.4" height="272" fill="url(#b30)"/>
<rect x="393" y="0" width="1.4" height="272" fill="url(#b31)"/>
<rect x="394" y="0" width="1.4" height="272" fill="url(#b32)"/>
<rect x="395" y="0" width="1.4" height="272" fill="url(#b33)"/>
<rect x="396" y="0" width="1.4" height="272" fill="url(#b34)"/>
<rect x="397" y="0" width="1.4" height="272" fill="url(#b35)"/>
<rect x="398" y="0" width="1.4" height="272" fill="url(#b36)"/>
<rect x="399" y="0" width="1.4" height="272" fill="url(#b37)"/>
<rect x="400" y="0" width="1.4" height="272" fill="url(#b38)"/>
<rect x="401" y="0" width="1.4" height="272" fill="url(#b39)"/>
<rect x="402" y="0" width="1.4" height="272" fill="url(#b40)"/>
<rect x="403" y="0" width="1.4" height="272" fill="url(#b41)"/>
<rect x="404" y="0" width="1.4" height="272" fill="url(#b42)"/>
<rect x="405" y="0" width="1.4" height="272" fill="url(#b43)"/>
<rect x="406" y="0" width="1.4" height="272" fill="url(#b44)"/>
<rect x="407" y="0" width="1.4" height="272" fill="url(#b45)"/>
<rect x="408" y="0" width="1.4" height="272" fill="url(#b46)"/>
<rect x="409" y="0" width="1.4" height="272" fill="url(#b47)"/>
<rect x="410" y="0" width="1.4" height="272" fill="url(#b48)"/>
<rect x="411" y="0" width="1.4" height="272" fill="url(#b49)"/>
<rect x="412" y="0" width="1.4" height="272" fill="url(#b50)"/>
<rect x="413" y="0" width="1.4" height="272" fill="url(#b51)"/>
<rect x="414" y="0" width="1.4" height="272" fill="url(#b52)"/>
<rect x="415" y="0" width="1.4" height="272" fill="url(#b53)"/>
<rect x="416" y="0" width="1.4" height="272" fill="url(#b54)"/>
<rect x="417" y="0" width="1.4" height="272" fill="url(#b55)"/>
<rect x="418" y="0" width="1.4" height="272" fill="url(#b56)"/>
<rect x="419" y="0" width="1.4" height="272" fill="url(#b57)"/>
<rect x="420" y="0" width="1.4" height="272" fill="url(#b58)"/>
<rect x="421" y="0" width="1.4" height="272" fill="url(#b59)"/>
<rect x="422" y="0" width="1.4" height="272" fill="url(#b60)"/>
<rect x="423" y="0" width="1.4" height="272" fill="url(#b61)"/>
<rect x="424" y="0" width="1.4" height="272" fill="url(#b62)"/>
<rect x="425" y="0" width="1.4" height="272" fill="url(#b63)"/>
<rect x="426" y="0" width="1.4" height="272" fill="url(#b64)"/>
<rect x="427" y="0" width="1.4" height="272" fill="url(#b65)"/>
<rect x="428" y="0" width="1.4" height="272" fill="url(#b66)"/>
<rect x="429" y="0" width="1.4" height="272" fill="url(#b67)"/>
<rect x="430" y="0" width="1.4" height="272" fill="url(#b68)"/>
<rect x="431" y="0" width="1.4" height="272" fill="url(#b69)"/>
<rect x="432" y="0" width="1.4" height="272" fill="url(#b70)"/>
<rect x="433" y="0" width="1.4" height="272" fill="url(#b71)"/>
<rect x="434" y="0" width="1.4" height="272" fill="url(#b72)"/>
<rect x="435" y="0" width="1.4" height="272" fill="url(#b73)"/>
<rect x="436" y="0" width="1.4" height="272" fill="url(#b74)"/>
<rect x="437" y="0" width="1.4" height="272" fill="url(#b75)"/>
<rect x="438" y="0" width="1.4" height="272" fill="url(#b76)"/>
<rect x="439" y="0" width="1.4" height="272" fill="url(#b77)"/>
<rect x="440" y="0" width="1.4" height="272" fill="url(#b78)"/>
<rect x="441" y="0" width="1.4" height="272" fill="url(#b79)"/>
<rect x="442" y="0" width="1.4" height="272" fill="url(#b80)"/>
<rect x="443" y="0" width="1.4" height="272" fill="url(#b81)"/>
<rect x="444" y="0" width="1.4" height="272" fill="url(#b82)"/>
<rect x="445" y="0" width="1.4" height="272" fill="url(#b83)"/>
<rect x="446" y="0" width="1.4" height="272" fill="url(#b84)"/>
<rect x="447" y="0" width="1.4" height="272" fill="url(#b85)"/>
<rect x="448" y="0" width="1.4" height="272" fill="url(#b86)"/>
<rect x="449" y="0" width="1.4" height="272" fill="url(#b87)"/>
<rect x="450" y="0" width="1.4" height="272" fill="url(#b88)"/>
<rect x="451" y="0" width="1.4" height="272" fill="url(#b89)"/>
<rect x="452" y="0" width="1.4" height="272" fill="url(#b90)"/>
<rect x="453" y="0" width="1.4" height="272" fill="url(#b91)"/>
<rect x="454" y="0" width="1.4" height="272" fill="url(#b92)"/>
<rect x="455" y="0" width="1.4" height="272" fill="url(#b93)"/>
<rect x="456" y="0" width="1.4" height="272" fill="url(#b94)"/>
<rect x="457" y="0" width="1.4" height="272" fill="url(#b95)"/>
<rect x="458" y="0" width="1.4" height="272" fill="url(#b96)"/>
<rect x="459" y="0" width="1.4" height="272" fill="url(#b97)"/>
<rect x="460" y="0" width="1.4" height="272" fill="url(#b98)"/>
<rect x="461" y="0" width="1.4" height="272" fill="url(#b99)"/>
<rect x="462" y="0" width="1.4" height="272" fill="url(#b100)"/>
<rect x="463" y="0" width="1.4" height="272" fill="url(#b101)"/>
<rect x="464" y="0" width="1.4" height="272" fill="url(#b102)"/>
<rect x="465" y="0" width="1.4" height="272" fill="url(#b103)"/>
<rect x="466" y="0" width="1.4" height="272" fill="url(#b104)"/>
<rect x="467" y="0" width="1.4" height="272" fill="url(#b105)"/>
<rect x="468" y="0" width="1.4" height="272" fill="url(#b106)"/>
<rect x="469" y="0" width="1.4" height="272" fill="url(#b107)"/>
<rect x="470" y="0" width="1.4" height="272" fill="url(#b108)"/>
<rect x="471" y="0" width="1.4" height="272" fill="url(#b109)"/>
<rect x="472" y="0" width="1.4" height="272" fill="url(#b110)"/>
<rect x="473" y="0" width="1.4" height="272" fill="url(#b111)"/>
<rect x="474" y="0" width="1.4" height="272" fill="url(#b112)"/>
<rect x="475" y="0" width="1.4" height="272" fill="url(#b113)"/>
<rect x="476" y="0" width="1.4" height="272" fill="url(#b114)"/>
<rect x="477" y="0" width="1.4" height="272" fill="url(#b115)"/>
<rect x="478" y="0" width="1.4" height="272" fill="url(#b116)"/>
<rect x="479" y="0" width="1.4" height="272" fill="url(#b117)"/>
<rect x="480" y="0" width="1.4" height="272" fill="url(#b118)"/>
<rect x="481" y="0" width="1.4" height="272" fill="url(#b119)"/>
<rect x="482" y="0" width="1.4" height="272" fill="url(#b120)"/>
<rect x="483" y="0" width="1.4" height="272" fill="url(#b121)"/>
<rect x="484" y="0" width="1.4" height="272" fill="url(#b122)"/>
<rect x="485" y="0" width="1.4" height="272" fill="url(#b123)"/>
<rect x="486" y="0" width="1.4" height="272" fill="url(#b124)"/>
<rect x="487" y="0" width="1.4" height="272" fill="url(#b125)"/>
<rect x="488" y="0" width="1.4" height="272" fill="url(#b126)"/>
<rect x="489" y="0" width="1.4" height="272" fill="url(#b127)"/>
<rect x="490" y="0" width="1.4" height="272" fill="url(#b128)"/>
<rect x="491" y="0" width="1.4" height="272" fill="url(#b129)"/>
<rect x="492" y="0" width="1.4" height="272" fill="url(#b130)"/>
<rect x="493" y="0" width="1.4" height="272" fill="url(#b131)"/>
<rect x="494" y="0" width="1.4" height="272" fill="url(#b132)"/>
<rect x="495" y="0" width="1.4" height="272" fill="url(#b133)"/>
<rect x="496" y="0" width="1.4" height="272" fill="url(#b134)"/>
<rect x="497" y="0" width="1.4" height="272" fill="url(#b135)"/>
<rect x="498" y="0" width="1.4" height="272" fill="url(#b136)"/>
<rect x="499" y="0" width="1.4" height="272" fill="url(#b137)"/>
<rect x="500" y="0" width="1.4" height="272" fill="url(#b138)"/>
<rect x="501" y="0" width="1.4" height="272" fill="url(#b139)"/>
<rect x="502" y="0" width="1.4" height="272" fill="url(#b140)"/>
<rect x="503" y="0" width="1.4" height="272" fill="url(#b141)"/>
<rect x="504" y="0" width="1.4" height="272" fill="url(#b142)"/>
<rect x="505" y="0" width="1.4" height="272" fill="url(#b143)"/>
<rect x="506" y="0" width="1.4" height="272" fill="url(#b144)"/>
<rect x="507" y="0" width="1.4" height="272" fill="url(#b145)"/>
<rect x="508" y="0" width="1.4" height="272" fill="url(#b146)"/>
<rect x="509" y="0" width="1.4" height="272" fill="url(#b147)"/>
<rect x="510" y="0" width="1.4" height="272" fill="url(#b148)"/>
<rect x="511" y="0" width="1.4" height="272" fill="url(#b149)"/>
<rect x="512" y="0" width="1.4" height="272" fill="url(#b150)"/>
<rect x="513" y="0" width="1.4" height="272" fill="url(#b151)"/>
<rect x="514" y="0" width="1.4" height="272" fill="url(#b152)"/>
<rect x="515" y="0" width="1.4" height="272" fill="url(#b153)"/>
<rect x="516" y="0" width="1.4" height="272" fill="url(#b154)"/>
<rect x="517" y="0" width="1.4" height="272" fill="url(#b155)"/>
<rect x="518" y="0" width="1.4" height="272" fill="url(#b156)"/>
<rect x="519" y="0" width="1.4" height="272" fill="url(#b157)"/>
<rect x="520" y="0" width="1.4" height="272" fill="url(#b158)"/>
<rect x="521" y="0" width="1.4" height="272" fill="url(#b159)"/>
<rect x="522" y="0" width="1.4" height="272" fill="url(#b160)"/>
<rect x="523" y="0" width="1.4" height="272" fill="url(#b161)"/>
<rect x="524" y="0" width="1.4" height="272" fill="url(#b162)"/>
<rect x="525" y="0" width="1.4" height="272" fill="url(#b163)"/>
<rect x="526" y="0" width="1.4" height="272" fill="url(#b164)"/>
<rect x="527" y="0" width="1.4" height="272" fill="url(#b165)"/>
<rect x="528" y="0" width="1.4" height="272" fill="url(#b166)"/>
<rect x="529" y="0" width="1.4" height="272" fill="url(#b167)"/>
<rect x="530" y="0" width="1.4" height="272" fill="url(#b168)"/>
<rect x="531" y="0" width="1.4" height="272" fill="url(#b169)"/>
<rect x="532" y="0" width="1.4" height="272" fill="url(#b170)"/>
<rect x="533" y="0" width="1.4" height="272" fill="url(#b171)"/>
<rect x="534" y="0" width="1.4" height="272" fill="url(#b172)"/>
<rect x="535" y="0" width="1.4" height="272" fill="url(#b173)"/>
<rect x="536" y="0" width="1.4" height="272" fill="url(#b174)"/>
<rect x="537" y="0" width="1.4" height="272" fill="url(#b175)"/>
<rect x="538" y="0" width="1.4" height="272" fill="url(#b176)"/>
<rect x="539" y="0" width="1.4" height="272" fill="url(#b177)"/>
<rect x="540" y="0" width="1.4" height="272" fill="url(#b178)"/>
<rect x="541" y="0" width="1.4" height="272" fill="url(#b179)"/>
<rect x="542" y="0" width="1.4" height="272" fill="url(#b180)"/>
<rect x="543" y="0" width="1.4" height="272" fill="url(#b181)"/>
<rect x="544" y="0" width="1.4" height="272" fill="url(#b182)"/>
<rect x="545" y="0" width="1.4" height="272" fill="url(#b183)"/>
<rect x="546" y="0" width="1.4" height="272" fill="url(#b184)"/>
<rect x="547" y="0" width="1.4" height="272" fill="url(#b185)"/>
<rect x="548" y="0" width="1.4" height="272" fill="url(#b186)"/>
<rect x="549" y="0" width="1.4" height="272" fill="url(#b187)"/>
<rect x="550" y="0" width="1.4" height="272" fill="url(#b188)"/>
<rect x="551" y="0" width="1.4" height="272" fill="url(#b189)"/>
<rect x="552" y="0" width="1.4" height="272" fill="url(#b190)"/>
<rect x="553" y="0" width="1.4" height="272" fill="url(#b191)"/>
<rect x="554" y="0" width="1.4" height="272" fill="url(#b192)"/>
<rect x="555" y="0" width="1.4" height="272" fill="url(#b193)"/>
<rect x="556" y="0" width="1.4" height="272" fill="url(#b194)"/>
<rect x="557" y="0" width="1.4" height="272" fill="url(#b195)"/>
<rect x="558" y="0" width="1.4" height="272" fill="url(#b196)"/>
<rect x="559" y="0" width="1.4" height="272" fill="url(#b197)"/>
<rect x="560" y="0" width="1.4" height="272" fill="url(#b198)"/>
<rect x="561" y="0" width="1.4" height="272" fill="url(#b199)"/>
<rect x="562" y="0" width="1.4" height="272" fill="url(#b200)"/>
<rect x="563" y="0" width="1.4" height="272" fill="url(#b201)"/>
<rect x="564" y="0" width="1.4" height="272" fill="url(#b202)"/>
<rect x="565" y="0" width="1.4" height="272" fill="url(#b203)"/>
<rect x="566" y="0" width="1.4" height="272" fill="url(#b204)"/>
<rect x="567" y="0" width="1.4" height="272" fill="url(#b205)"/>
<rect x="568" y="0" width="1.4" height="272" fill="url(#b206)"/>
<rect x="569" y="0" width="1.4" height="272" fill="url(#b207)"/>
<rect x="570" y="0" width="1.4" height="272" fill="url(#b208)"/>
<rect x="571" y="0" width="1.4" height="272" fill="url(#b209)"/>
<rect x="572" y="0" width="1.4" height="272" fill="url(#b210)"/>
<rect x="573" y="0" width="1.4" height="272" fill="url(#b211)"/>
<rect x="574" y="0" width="1.4" height="272" fill="url(#b212)"/>
<rect x="575" y="0" width="1.4" height="272" fill="url(#b213)"/>
<rect x="576" y="0" width="1.4" height="272" fill="url(#b214)"/>
<rect x="577" y="0" width="1.4" height="272" fill="url(#b215)"/>
<rect x="578" y="0" width="1.4" height="272" fill="url(#b216)"/>
<rect x="579" y="0" width="1.4" height="272" fill="url(#b217)"/>
<rect x="580" y="0" width="1.4" height="272" fill="url(#b218)"/>
<rect x="581" y="0" width="1.4" height="272" fill="url(#b219)"/>
<rect x="582" y="0" width="1.4" height="272" fill="url(#b220)"/>
<rect x="583" y="0" width="1.4" height="272" fill="url(#b221)"/>
<rect x="584" y="0" width="1.4" height="272" fill="url(#b222)"/>
<rect x="585" y="0" width="1.4" height="272" fill="url(#b223)"/>
<rect x="586" y="0" width="1.4" height="272" fill="url(#b224)"/>
<rect x="587" y="0" width="1.4" height="272" fill="url(#b225)"/>
<rect x="588" y="0" width="1.4" height="272" fill="url(#b226)"/>
<rect x="589" y="0" width="1.4" height="272" fill="url(#b227)"/>
<rect x="590" y="0" width="1.4" height="272" fill="url(#b228)"/>
<rect x="591" y="0" width="1.4" height="272" fill="url(#b229)"/>
<rect x="592" y="0" width="1.4" height="272" fill="url(#b230)"/>
<rect x="593" y="0" width="1.4" height="272" fill="url(#b231)"/>
<rect x="594" y="0" width="1.4" height="272" fill="url(#b232)"/>
<rect x="595" y="0" width="1.4" height="272" fill="url(#b233)"/>
<rect x="596" y="0" width="1.4" height="272" fill="url(#b234)"/>
<rect x="597" y="0" width="1.4" height="272" fill="url(#b235)"/>
<rect x="598" y="0" width="1.4" height="272" fill="url(#b236)"/>
<rect x="599" y="0" width="1.4" height="272" fill="url(#b237)"/>
<path d="M529.6 165L533 170.5L536 175L540 178.8L544.3 182.8L557.2 190.8L571.9 199.3L580 203.8L590 209L597.5 212.6L596.4 214.4L583.5 212.6L565.1 208L546.8 197.9L538 189L533 180L530.5 170.5z" fill="#000094" opacity=".62" filter="url(#bl)"/>
<path d="M533 170.5L536 175L540 178.8L544.3 182.8L557.2 190.8L571.9 199.3L580 203.8L590 209L597.5 212.6L590 213.5L578 208.5L568 203.5L555 196L542 187.5L536 181L532 174z" fill="#00008a" opacity=".5" filter="url(#bl)"/>
</g>
<path d="M347.2 202.1L347.2 93" stroke="#484848" stroke-width="0.8" fill="none"/>
<path d="M347.2 202.1L456.6 252.3" stroke="#484848" stroke-width="0.8" fill="none"/>
<path d="M456.6 252.3L599.5 213.8" stroke="#484848" stroke-width="0.8" fill="none"/>
<path d="M347.2 202.1L344.2 200.4" stroke="#484848" stroke-width="0.8" fill="none"/>
<path d="M347.2 183.9L344.2 182.2" stroke="#484848" stroke-width="0.8" fill="none"/>
<path d="M347.2 165.7L344.2 164" stroke="#484848" stroke-width="0.8" fill="none"/>
<path d="M347.2 147.6L344.2 145.9" stroke="#484848" stroke-width="0.8" fill="none"/>
<path d="M347.2 129.4L344.2 127.7" stroke="#484848" stroke-width="0.8" fill="none"/>
<path d="M347.2 111.2L344.2 109.5" stroke="#484848" stroke-width="0.8" fill="none"/>
<path d="M347.2 93L344.2 91.3" stroke="#484848" stroke-width="0.8" fill="none"/>
<path d="M456.6 252.3L454.3 253.9" stroke="#484848" stroke-width="0.8" fill="none"/>
<path d="M430.9 240.5L428.6 242.1" stroke="#484848" stroke-width="0.8" fill="none"/>
<path d="M405.2 228.7L402.9 230.3" stroke="#484848" stroke-width="0.8" fill="none"/>
<path d="M379.6 216.9L377.3 218.5" stroke="#484848" stroke-width="0.8" fill="none"/>
<path d="M353.9 205.2L351.6 206.8" stroke="#484848" stroke-width="0.8" fill="none"/>
<path d="M456.6 252.3L458.8 254.1" stroke="#484848" stroke-width="0.8" fill="none"/>
<path d="M485.2 244.6L487.4 246.4" stroke="#484848" stroke-width="0.8" fill="none"/>
<path d="M513.8 236.9L516 238.7" stroke="#484848" stroke-width="0.8" fill="none"/>
<path d="M542.3 229.2L544.5 231" stroke="#484848" stroke-width="0.8" fill="none"/>
<path d="M570.9 221.5L573.1 223.3" stroke="#484848" stroke-width="0.8" fill="none"/>
<path d="M599.5 213.8L601.7 215.6" stroke="#484848" stroke-width="0.8" fill="none"/>
<g opacity=".999">
<text transform="translate(35.8 202.7) scale(0.87 1)" font-size="8.6" text-anchor="end" font-weight="normal" font-family="Liberation Sans, sans-serif" fill="#333">0</text>
<text transform="translate(35.8 181.4) scale(0.87 1)" font-size="8.6" text-anchor="end" font-weight="normal" font-family="Liberation Sans, sans-serif" fill="#333">200</text>
<text transform="translate(35.8 160) scale(0.87 1)" font-size="8.6" text-anchor="end" font-weight="normal" font-family="Liberation Sans, sans-serif" fill="#333">400</text>
<text transform="translate(35.8 138.7) scale(0.87 1)" font-size="8.6" text-anchor="end" font-weight="normal" font-family="Liberation Sans, sans-serif" fill="#333">600</text>
<text transform="translate(35.8 117.3) scale(0.87 1)" font-size="8.6" text-anchor="end" font-weight="normal" font-family="Liberation Sans, sans-serif" fill="#333">800</text>
<text transform="translate(35.8 96) scale(0.87 1)" font-size="8.6" text-anchor="end" font-weight="normal" font-family="Liberation Sans, sans-serif" fill="#333">1000</text>
<text transform="translate(27.3 211.9) scale(0.87 1)" font-size="8.6" text-anchor="middle" font-weight="normal" font-family="Liberation Sans, sans-serif" fill="#333">3000</text>
<text transform="translate(62.4 229) scale(0.87 1)" font-size="8.6" text-anchor="middle" font-weight="normal" font-family="Liberation Sans, sans-serif" fill="#333">2000</text>
<text transform="translate(98.5 244.9) scale(0.87 1)" font-size="8.6" text-anchor="middle" font-weight="normal" font-family="Liberation Sans, sans-serif" fill="#333">1000</text>
<text transform="translate(140 260.8) scale(0.87 1)" font-size="8.6" text-anchor="middle" font-weight="normal" font-family="Liberation Sans, sans-serif" fill="#333">0</text>
<text transform="translate(158.3 262) scale(0.87 1)" font-size="8.6" text-anchor="middle" font-weight="normal" font-family="Liberation Sans, sans-serif" fill="#333">30</text>
<text transform="translate(187 254.8) scale(0.87 1)" font-size="8.6" text-anchor="middle" font-weight="normal" font-family="Liberation Sans, sans-serif" fill="#333">35</text>
<text transform="translate(214.6 246.8) scale(0.87 1)" font-size="8.6" text-anchor="middle" font-weight="normal" font-family="Liberation Sans, sans-serif" fill="#333">40</text>
<text transform="translate(242 239.4) scale(0.87 1)" font-size="8.6" text-anchor="middle" font-weight="normal" font-family="Liberation Sans, sans-serif" fill="#333">45</text>
<text transform="translate(270.5 231.7) scale(0.87 1)" font-size="8.6" text-anchor="middle" font-weight="normal" font-family="Liberation Sans, sans-serif" fill="#333">50</text>
<text transform="translate(297.9 224.8) scale(0.87 1)" font-size="8.6" text-anchor="middle" font-weight="normal" font-family="Liberation Sans, sans-serif" fill="#333">55</text>
<text transform="translate(54.9 262.9) scale(1.05 1)" font-size="10" text-anchor="middle" font-weight="bold" font-family="Liberation Sans, sans-serif" >Bias Field [Oe]</text>
<text transform="translate(246.4 265.2) scale(1.05 1)" font-size="10" text-anchor="middle" font-weight="bold" font-family="Liberation Sans, sans-serif" >Frequency [kHz]</text>
<text transform="translate(14.2,149) rotate(-90)" font-size="10.6" text-anchor="middle" font-weight="bold" font-family="Liberation Sans, sans-serif">Power [<tspan font-family="Liberation Serif, serif" font-style="italic" font-weight="normal">&#956;</tspan>W]</text>
<text transform="translate(341 202.7) scale(0.87 1)" font-size="8.6" text-anchor="end" font-weight="normal" font-family="Liberation Sans, sans-serif" fill="#333">0</text>
<text transform="translate(341 184.5) scale(0.87 1)" font-size="8.6" text-anchor="end" font-weight="normal" font-family="Liberation Sans, sans-serif" fill="#333">100</text>
<text transform="translate(341 166.3) scale(0.87 1)" font-size="8.6" text-anchor="end" font-weight="normal" font-family="Liberation Sans, sans-serif" fill="#333">200</text>
<text transform="translate(341 148.2) scale(0.87 1)" font-size="8.6" text-anchor="end" font-weight="normal" font-family="Liberation Sans, sans-serif" fill="#333">300</text>
<text transform="translate(341 130) scale(0.87 1)" font-size="8.6" text-anchor="end" font-weight="normal" font-family="Liberation Sans, sans-serif" fill="#333">400</text>
<text transform="translate(341 111.8) scale(0.87 1)" font-size="8.6" text-anchor="end" font-weight="normal" font-family="Liberation Sans, sans-serif" fill="#333">500</text>
<text transform="translate(341 93.6) scale(0.87 1)" font-size="8.6" text-anchor="end" font-weight="normal" font-family="Liberation Sans, sans-serif" fill="#333">600</text>
<text transform="translate(339 216) scale(0.87 1)" font-size="8.6" text-anchor="middle" font-weight="normal" font-family="Liberation Sans, sans-serif" fill="#333">2000</text>
<text transform="translate(365 227.8) scale(0.87 1)" font-size="8.6" text-anchor="middle" font-weight="normal" font-family="Liberation Sans, sans-serif" fill="#333">1500</text>
<text transform="translate(390.5 239.7) scale(0.87 1)" font-size="8.6" text-anchor="middle" font-weight="normal" font-family="Liberation Sans, sans-serif" fill="#333">1000</text>
<text transform="translate(418.5 251.3) scale(0.87 1)" font-size="8.6" text-anchor="middle" font-weight="normal" font-family="Liberation Sans, sans-serif" fill="#333">500</text>
<text transform="translate(448 262.9) scale(0.87 1)" font-size="8.6" text-anchor="middle" font-weight="normal" font-family="Liberation Sans, sans-serif" fill="#333">0</text>
<text transform="translate(466.5 263.2) scale(0.87 1)" font-size="8.6" text-anchor="middle" font-weight="normal" font-family="Liberation Sans, sans-serif" fill="#333">34</text>
<text transform="translate(496 256.6) scale(0.87 1)" font-size="8.6" text-anchor="middle" font-weight="normal" font-family="Liberation Sans, sans-serif" fill="#333">36</text>
<text transform="translate(524.5 248.9) scale(0.87 1)" font-size="8.6" text-anchor="middle" font-weight="normal" font-family="Liberation Sans, sans-serif" fill="#333">38</text>
<text transform="translate(552.7 241.2) scale(0.87 1)" font-size="8.6" text-anchor="middle" font-weight="normal" font-family="Liberation Sans, sans-serif" fill="#333">40</text>
<text transform="translate(581 233.5) scale(0.87 1)" font-size="8.6" text-anchor="middle" font-weight="normal" font-family="Liberation Sans, sans-serif" fill="#333">42</text>
<text transform="translate(609 225.7) scale(0.87 1)" font-size="8.6" text-anchor="middle" font-weight="normal" font-family="Liberation Sans, sans-serif" fill="#333">44</text>
<text transform="translate(359.9 263.8) scale(1.05 1)" font-size="10" text-anchor="middle" font-weight="bold" font-family="Liberation Sans, sans-serif" >Bias Field [Oe]</text>
<text transform="translate(556.5 266.9) scale(1.05 1)" font-size="10" text-anchor="middle" font-weight="bold" font-family="Liberation Sans, sans-serif" >Frequency [kHz]</text>
<text transform="translate(322.4,146.8) rotate(-90)" font-size="10.6" text-anchor="middle" font-weight="bold" font-family="Liberation Sans, sans-serif">Power [<tspan font-family="Liberation Serif, serif" font-style="italic" font-weight="normal">&#956;</tspan>W]</text>
<text x="7.5" y="12" font-size="15" text-anchor="start" font-weight="bold" font-family="Liberation Serif, serif" >(a)</text>
<text x="318" y="11" font-size="15" text-anchor="start" font-weight="bold" font-family="Liberation Serif, serif" >(b)</text>
</g>

<g opacity=".999">
<circle cx="234" cy="39.8" r="20.5" fill="none" stroke="#b2b2b2" stroke-width="2.9"/>
<circle cx="234" cy="39.8" r="18.2" fill="none" stroke="#3c3c3c" stroke-width="2"/>
<circle cx="234" cy="39.8" r="15.3" fill="#fff" stroke="#080808" stroke-width="4"/>
<path d="M227 40.7H238.5" stroke="#000" stroke-width="1.6"/>
<path d="M238.5 40.7L267.5 37" stroke="#000" stroke-width="1.2"/>
<circle cx="238.5" cy="40.7" r="2.3" fill="#000"/>
<path d="M233.5 22L270 15.4" stroke="#000" stroke-width="1.2"/>
<circle cx="233.5" cy="22" r="2.4" fill="#000"/>
<text x="272.4" y="20.3" font-family="Liberation Serif, serif" font-weight="bold" font-size="15" textLength="17.3" lengthAdjust="spacingAndGlyphs">Tx</text>
<text x="273.4" y="42" font-family="Liberation Serif, serif" font-weight="bold" font-size="15" textLength="17.1" lengthAdjust="spacingAndGlyphs">Rx</text>
<path d="M217.9 71.4H242" stroke="#c55a11" stroke-width="1.9"/>
<path d="M240.6 67.6L249.3 71.4L240.6 75.2L241.8 71.4z" fill="#c55a11"/>
<text x="252.4" y="77.8" font-family="Liberation Serif, serif" font-weight="bold" font-size="15.3" textLength="10.5" lengthAdjust="spacingAndGlyphs">H</text>
</g>

<g opacity=".999">
<linearGradient id="rg" x1="0" x2="1" y1="0" y2="0"><stop offset="0" stop-color="#8a8a8a"/><stop offset=".25" stop-color="#9a9a9a"/><stop offset="1" stop-color="#9e9e9e"/></linearGradient>
<linearGradient id="hg" x1="0" x2="1" y1="0" y2="0"><stop offset="0" stop-color="#050505"/><stop offset=".45" stop-color="#111"/><stop offset="1" stop-color="#4a4a4a"/></linearGradient>
<clipPath id="hc"><ellipse cx="582" cy="43.1" rx="3.9" ry="30"/></clipPath>
<path d="M539.2 34.6H562V50.3H539.2z" fill="#8d8d8d"/>
<path d="M539.2 50.3H562V52.8H541.2z" fill="#5c5c5c"/>
<path d="M559.9 6.7H581.8V79.5H559.9A4.5 36.4 0 0 1 559.9 6.7z" fill="url(#rg)"/>
<ellipse cx="581.8" cy="43.1" rx="4.6" ry="36.4" fill="#adadad"/>
<ellipse cx="582" cy="43.1" rx="3.9" ry="30" fill="url(#hg)"/>
<ellipse cx="585.3" cy="43.1" rx="2.4" ry="28.5" fill="#7a7a7a" clip-path="url(#hc)"/>
<path d="M579.8 34.7H601.4V50.3H579.8z" fill="#939393"/>
<path d="M601.4 34.7L604.4 37V52.8H582.4L579.8 50.3H601.4z" fill="#4e4e4e"/>
<path d="M534.8 7.8L568.7 17.5" stroke="#000" stroke-width="1.2"/>
<circle cx="568.7" cy="17.5" r="2.4" fill="#000"/>
<path d="M515.3 34L548.6 43.7" stroke="#000" stroke-width="1.2"/>
<circle cx="548.6" cy="43.7" r="2.4" fill="#000"/>
<text x="512.4" y="11.7" font-family="Liberation Serif, serif" font-weight="bold" font-size="14.5" textLength="17.5" lengthAdjust="spacingAndGlyphs">Rx</text>
<text x="494.7" y="37.6" font-family="Liberation Serif, serif" font-weight="bold" font-size="14.5" textLength="15.5" lengthAdjust="spacingAndGlyphs">Tx</text>
<path d="M553.5 86.4H592" stroke="#c55a11" stroke-width="1.9"/>
<path d="M590.3 82.6L599 86.4L590.3 90.2L591.5 86.4z" fill="#c55a11"/>
<text x="599" y="81.8" font-family="Liberation Serif, serif" font-weight="bold" font-size="14.5" textLength="9.8" lengthAdjust="spacingAndGlyphs">H</text>
</g>
</svg></body></html>
